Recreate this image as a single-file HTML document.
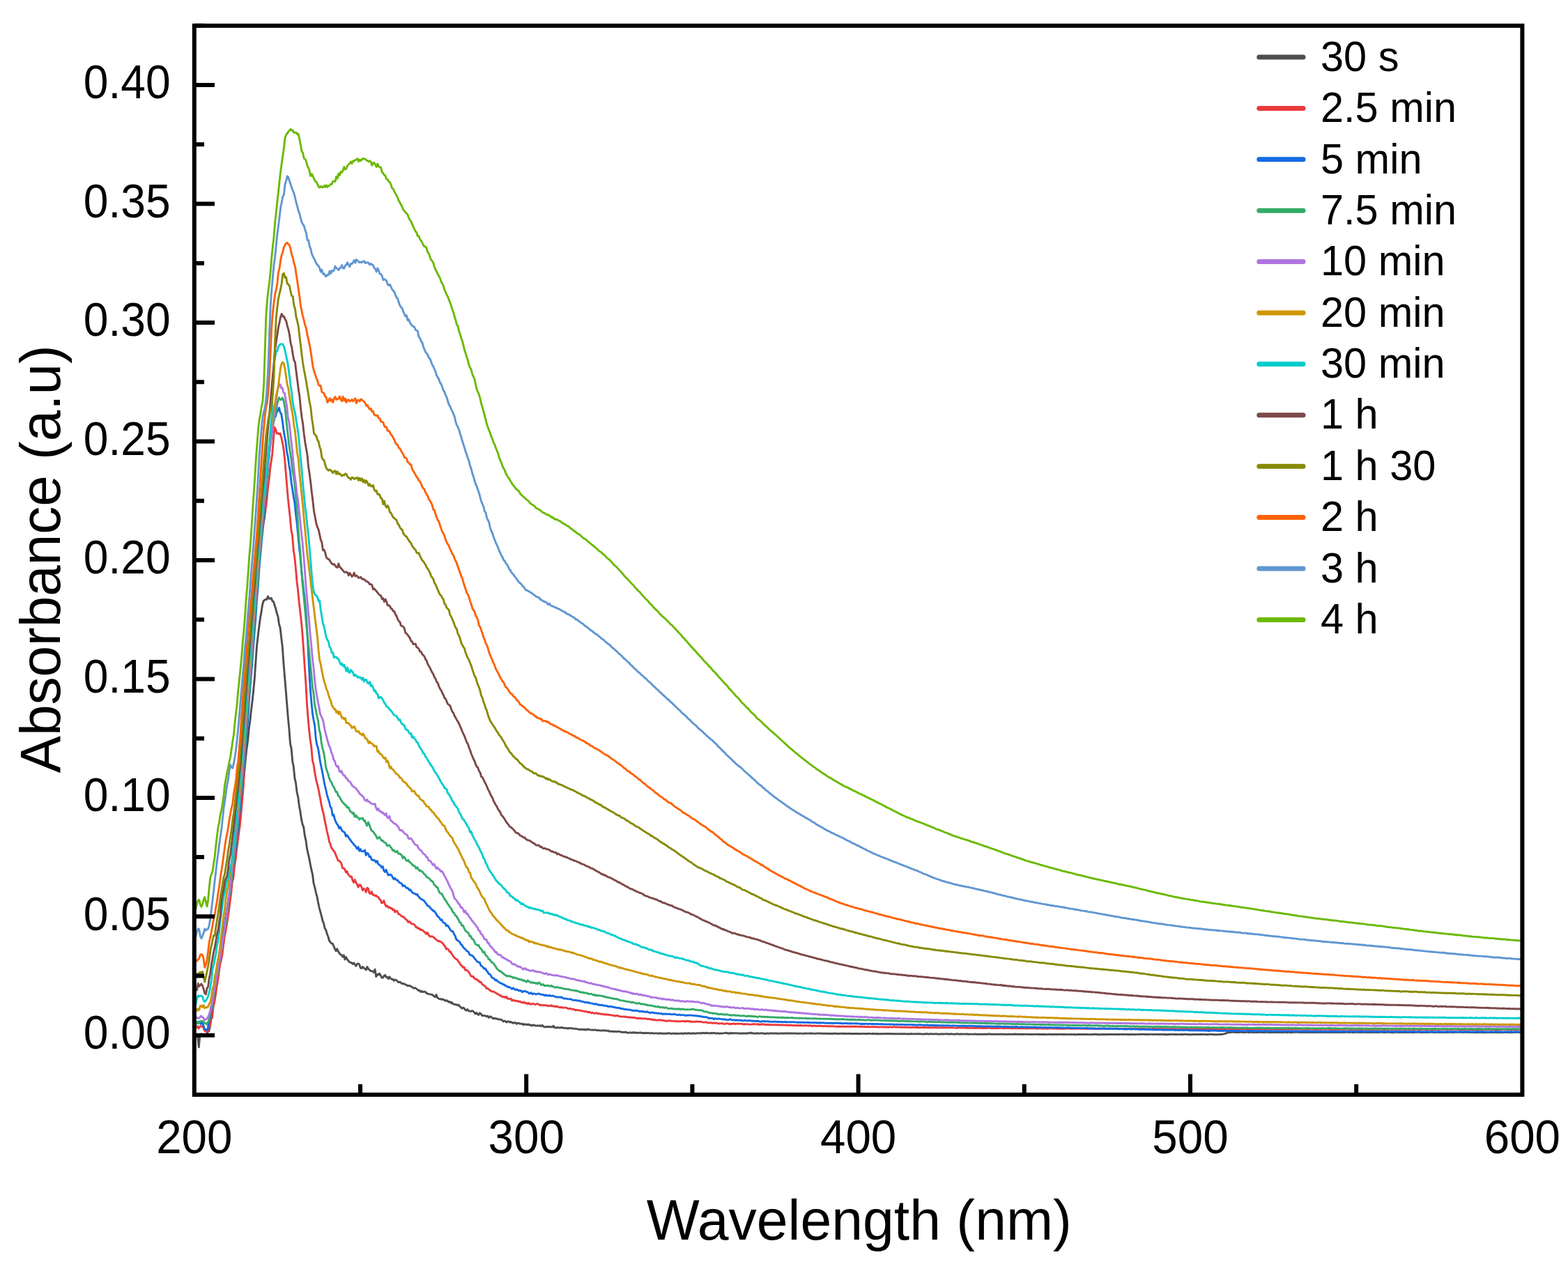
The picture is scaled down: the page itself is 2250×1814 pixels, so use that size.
<!DOCTYPE html>
<html><head><meta charset="utf-8"><title>Absorbance spectra</title>
<style>html,body{margin:0;padding:0;background:#fff;width:2250px;height:1814px;overflow:hidden}svg{display:block}</style>
</head><body>
<svg width="2250" height="1814" viewBox="0 0 2250 1814"><rect x="0" y="0" width="2250" height="1814" fill="#ffffff"/><clipPath id="c"><rect x="278.8" y="36.86875000000009" width="1905.6000000000001" height="1534.1625"/></clipPath><g clip-path="url(#c)" fill="none" stroke-width="2.9" stroke-linejoin="round" stroke-linecap="round"><path d="M280.5,1486.4 L282.1,1486.8 L283.7,1488.1 L285.3,1502.9 L286.9,1485.3 L288.5,1484.0 L290.1,1484.8 L291.7,1485.7 L293.3,1486.7 L294.9,1484.7 L296.5,1486.3 L298.1,1479.7 L299.7,1480.0 L301.3,1473.9 L302.9,1461.8 L304.5,1452.9 L306.1,1439.1 L307.7,1422.5 L309.3,1412.9 L310.9,1396.3 L312.5,1382.2 L314.1,1371.7 L315.7,1361.7 L317.3,1354.3 L318.9,1345.2 L320.5,1334.0 L322.1,1325.8 L323.7,1317.3 L325.3,1308.3 L326.9,1298.2 L328.5,1286.7 L330.1,1277.1 L331.7,1265.4 L333.3,1251.4 L334.9,1235.1 L336.5,1226.5 L338.1,1216.0 L339.7,1203.5 L341.3,1192.5 L342.9,1180.2 L344.5,1164.7 L346.1,1149.0 L347.7,1138.7 L349.3,1120.2 L350.9,1105.1 L352.5,1088.1 L354.1,1073.7 L355.7,1062.7 L357.3,1045.1 L358.9,1033.9 L360.5,1018.5 L362.1,1006.0 L363.7,990.9 L365.3,973.6 L366.9,950.3 L368.5,927.3 L370.1,913.3 L371.7,900.2 L373.3,888.1 L374.9,878.7 L376.5,868.4 L378.1,862.6 L379.7,861.1 L381.3,860.2 L382.9,860.4 L384.5,855.8 L386.1,859.0 L387.7,859.2 L389.3,858.2 L390.9,862.8 L392.5,863.3 L394.1,868.8 L395.7,873.5 L397.3,880.3 L398.9,884.7 L400.5,895.9 L402.1,901.0 L403.7,915.4 L405.3,928.5 L406.9,951.5 L408.5,970.8 L410.1,989.9 L411.7,1009.8 L413.3,1029.7 L414.9,1046.1 L416.5,1067.5 L418.1,1074.2 L419.7,1092.7 L421.3,1100.3 L422.9,1116.9 L424.5,1123.7 L426.1,1137.4 L427.7,1143.6 L429.3,1156.3 L430.9,1164.7 L432.5,1175.9 L434.1,1183.2 L435.7,1186.8 L437.3,1199.1 L438.9,1205.8 L440.5,1217.9 L442.1,1225.0 L443.7,1231.9 L445.3,1240.5 L446.9,1248.1 L448.5,1255.1 L450.1,1267.9 L451.7,1273.4 L453.3,1280.8 L454.9,1286.4 L456.5,1295.0 L458.1,1302.5 L459.7,1308.6 L461.3,1314.3 L462.9,1321.1 L464.5,1325.0 L466.1,1332.3 L467.7,1334.6 L469.3,1340.2 L470.9,1344.2 L472.5,1350.0 L474.1,1352.1 L475.7,1354.0 L477.3,1354.3 L478.9,1357.8 L480.5,1361.9 L482.1,1364.7 L483.7,1361.8 L485.3,1365.3 L486.9,1367.9 L488.5,1369.8 L490.1,1370.6 L491.7,1373.1 L493.3,1370.7 L494.9,1377.0 L496.5,1373.5 L498.1,1376.7 L499.7,1378.5 L501.3,1380.6 L502.9,1381.1 L504.5,1381.9 L506.1,1383.5 L507.7,1381.9 L509.3,1384.3 L510.9,1386.4 L512.5,1383.2 L514.1,1382.9 L515.7,1384.3 L517.3,1389.1 L518.9,1389.5 L520.5,1387.4 L522.1,1389.2 L523.7,1390.2 L525.3,1391.9 L526.9,1387.5 L528.5,1390.5 L530.1,1391.7 L531.7,1393.4 L533.3,1393.7 L534.9,1393.7 L536.5,1395.4 L538.1,1391.2 L539.7,1401.6 L541.3,1398.4 L542.9,1399.1 L544.5,1397.1 L546.1,1399.6 L547.7,1403.0 L549.3,1403.3 L550.9,1400.9 L552.5,1399.3 L554.1,1402.3 L555.7,1402.1 L557.3,1404.7 L558.9,1401.7 L560.5,1404.3 L562.1,1405.4 L563.7,1405.3 L565.3,1407.4 L566.9,1405.9 L568.5,1406.5 L570.1,1407.9 L571.7,1409.7 L573.3,1409.3 L574.9,1409.6 L576.5,1411.6 L578.1,1411.7 L579.7,1411.6 L581.3,1412.9 L582.9,1413.2 L584.5,1414.6 L586.1,1414.8 L587.7,1414.5 L589.3,1415.5 L590.9,1416.2 L592.5,1417.6 L594.1,1418.2 L595.7,1417.7 L597.3,1418.9 L598.9,1420.1 L600.5,1421.5 L602.1,1421.3 L603.7,1423.5 L605.3,1422.3 L606.9,1423.7 L608.5,1423.3 L610.1,1423.3 L611.7,1425.0 L613.3,1426.0 L614.9,1426.4 L616.5,1426.9 L618.1,1427.1 L619.7,1427.3 L621.3,1428.4 L622.9,1429.8 L624.5,1430.9 L626.1,1427.5 L627.7,1431.8 L629.3,1432.9 L630.9,1433.8 L632.5,1433.6 L634.1,1434.5 L635.7,1434.1 L637.3,1435.1 L638.9,1436.4 L640.5,1435.5 L642.1,1436.5 L643.7,1438.1 L645.3,1437.4 L646.9,1439.4 L648.5,1438.6 L650.1,1440.9 L651.7,1441.4 L653.3,1441.5 L654.9,1441.8 L656.5,1442.9 L658.1,1441.9 L659.7,1444.3 L661.3,1445.5 L662.9,1447.2 L664.5,1446.1 L666.1,1447.1 L667.7,1449.2 L669.3,1450.2 L670.9,1448.6 L672.5,1450.7 L674.1,1451.4 L675.7,1451.4 L677.3,1450.5 L678.9,1451.1 L680.5,1453.0 L682.1,1455.2 L683.7,1453.4 L685.3,1455.5 L686.9,1456.4 L688.5,1453.9 L690.1,1455.0 L691.7,1457.5 L693.3,1457.5 L694.9,1457.6 L696.5,1457.6 L698.1,1458.7 L699.7,1458.0 L701.3,1460.5 L702.9,1458.9 L704.5,1459.0 L706.1,1460.6 L707.7,1461.8 L709.3,1461.1 L710.9,1461.8 L712.5,1461.7 L714.1,1462.7 L715.7,1462.6 L717.3,1463.0 L718.9,1463.2 L720.5,1464.1 L722.1,1465.9 L723.7,1465.1 L725.3,1465.6 L726.9,1467.2 L728.5,1465.9 L730.1,1466.0 L731.7,1467.2 L733.3,1466.5 L734.9,1467.6 L736.5,1468.4 L738.1,1467.4 L739.7,1467.9 L741.3,1469.4 L742.9,1468.1 L744.5,1468.5 L746.1,1469.3 L747.7,1469.2 L749.3,1469.1 L750.9,1470.7 L752.5,1469.7 L754.1,1470.4 L755.7,1470.2 L757.3,1470.5 L758.9,1470.0 L760.5,1471.5 L762.1,1470.9 L763.7,1472.1 L765.3,1470.8 L766.9,1471.4 L768.5,1472.1 L770.1,1472.1 L771.7,1471.8 L773.3,1472.2 L774.9,1471.7 L776.5,1472.7 L778.1,1471.2 L779.7,1473.0 L781.3,1473.9 L782.9,1473.7 L784.5,1473.8 L786.1,1473.3 L787.7,1473.9 L789.3,1473.5 L790.9,1473.9 L792.5,1474.0 L794.1,1472.2 L795.7,1474.8 L797.3,1474.7 L798.9,1475.1 L800.5,1474.4 L802.1,1475.0 L803.7,1475.1 L805.3,1474.5 L806.9,1474.7 L808.5,1475.4 L810.1,1475.3 L811.7,1475.6 L813.3,1475.5 L814.9,1476.2 L816.5,1475.4 L818.1,1475.6 L819.7,1475.8 L821.3,1475.8 L822.9,1476.2 L824.5,1476.4 L826.1,1476.2 L827.7,1476.7 L829.3,1477.1 L830.9,1477.2 L832.5,1477.5 L834.1,1477.4 L835.7,1477.1 L837.3,1477.7 L838.9,1477.5 L840.5,1478.0 L842.1,1477.5 L843.7,1477.0 L845.3,1477.4 L846.9,1477.9 L848.5,1478.1 L850.1,1477.9 L851.7,1478.4 L853.3,1477.9 L854.9,1478.1 L856.5,1478.7 L858.1,1478.5 L859.7,1478.6 L861.3,1479.1 L862.9,1479.1 L864.5,1478.7 L866.1,1479.0 L867.7,1478.6 L869.3,1479.2 L870.9,1479.4 L872.5,1478.9 L874.1,1480.0 L875.7,1480.2 L877.3,1479.9 L878.9,1480.2 L880.5,1480.5 L882.1,1480.1 L883.7,1480.6 L885.3,1480.5 L886.9,1480.1 L888.5,1480.4 L890.1,1480.7 L891.7,1481.3 L893.3,1481.1 L894.9,1481.5 L896.5,1481.2 L898.1,1481.1 L899.7,1482.1 L901.3,1482.4 L902.9,1481.9 L904.5,1481.8 L906.1,1482.3 L907.7,1481.7 L909.3,1482.0 L910.9,1481.7 L912.5,1482.3 L914.1,1482.3 L915.7,1482.2 L917.3,1482.1 L918.9,1481.9 L920.5,1482.2 L922.1,1482.8 L923.7,1482.4 L925.3,1482.9 L926.9,1482.3 L928.5,1482.6 L930.1,1482.5 L931.7,1482.6 L933.3,1483.0 L934.9,1482.2 L936.5,1483.0 L938.1,1483.0 L939.7,1482.9 L941.3,1482.9 L942.9,1482.9 L944.5,1483.2 L946.1,1483.0 L947.7,1482.8 L949.3,1483.1 L950.9,1483.3 L952.5,1483.2 L954.1,1483.1 L955.7,1483.2 L957.3,1483.0 L958.9,1483.0 L960.5,1482.6 L962.1,1483.1 L963.7,1483.5 L965.3,1483.1 L966.9,1482.9 L968.5,1483.5 L970.1,1483.2 L971.7,1483.2 L973.3,1483.3 L974.9,1483.4 L976.5,1483.1 L978.1,1482.9 L979.7,1483.6 L981.3,1483.1 L982.9,1482.8 L984.5,1483.1 L986.1,1483.3 L987.7,1482.5 L989.3,1483.3 L990.9,1482.8 L992.5,1483.4 L994.1,1483.0 L995.7,1482.8 L997.3,1483.2 L998.9,1483.2 L1000.5,1482.7 L1002.1,1482.9 L1003.7,1482.7 L1005.3,1483.1 L1006.9,1482.4 L1008.5,1482.8 L1010.1,1482.2 L1011.7,1483.0 L1013.3,1482.2 L1014.9,1482.5 L1016.5,1482.9 L1018.1,1482.7 L1019.7,1482.7 L1021.3,1482.5 L1022.9,1482.7 L1024.5,1482.3 L1026.1,1482.9 L1027.7,1483.0 L1029.3,1483.0 L1030.9,1482.8 L1032.5,1483.2 L1034.1,1483.0 L1035.7,1483.1 L1037.3,1482.9 L1038.9,1482.8 L1040.5,1482.6 L1042.1,1482.1 L1043.7,1483.0 L1045.3,1482.8 L1046.9,1483.4 L1048.5,1482.3 L1050.1,1483.1 L1051.7,1482.6 L1053.3,1482.8 L1054.9,1482.6 L1056.5,1482.9 L1058.1,1482.8 L1059.7,1483.1 L1061.3,1482.9 L1062.9,1483.0 L1064.5,1483.2 L1066.1,1483.0 L1067.7,1482.8 L1069.3,1483.2 L1070.9,1482.8 L1072.5,1483.0 L1074.1,1482.8 L1075.7,1482.7 L1077.3,1482.0 L1078.9,1483.1 L1080.5,1482.6 L1082.1,1483.1 L1083.7,1483.4 L1085.3,1482.5 L1086.9,1483.2 L1088.5,1482.9 L1090.1,1483.1 L1091.7,1482.6 L1093.3,1482.9 L1094.9,1483.0 L1096.5,1483.3 L1098.1,1483.6 L1099.7,1483.0 L1101.3,1482.9 L1102.9,1483.3 L1104.5,1482.9 L1106.1,1483.0 L1107.7,1483.0 L1109.3,1483.0 L1110.9,1483.1 L1112.5,1482.9 L1114.1,1483.0 L1115.7,1483.3 L1117.3,1483.2 L1118.9,1483.1 L1120.5,1483.0 L1122.1,1483.0 L1123.7,1483.2 L1125.3,1482.9 L1126.9,1483.0 L1128.5,1483.0 L1130.1,1482.9 L1131.7,1483.0 L1133.3,1483.0 L1134.9,1483.0 L1136.5,1483.0 L1138.1,1483.1 L1139.7,1483.0 L1141.3,1483.0 L1142.9,1483.1 L1144.5,1483.2 L1146.1,1483.2 L1147.7,1483.1 L1149.3,1483.1 L1150.9,1483.1 L1152.5,1483.4 L1154.1,1483.3 L1155.7,1483.0 L1157.3,1483.1 L1158.9,1483.1 L1160.5,1483.1 L1162.1,1482.9 L1163.7,1483.2 L1165.3,1483.0 L1166.9,1483.1 L1168.5,1483.4 L1170.1,1483.3 L1171.7,1483.1 L1173.3,1483.0 L1174.9,1483.1 L1176.5,1482.9 L1178.1,1483.1 L1179.7,1483.2 L1181.3,1483.1 L1182.9,1483.3 L1184.5,1483.2 L1186.1,1483.2 L1187.7,1483.5 L1189.3,1483.4 L1190.9,1483.3 L1192.5,1483.5 L1194.1,1483.5 L1195.7,1483.2 L1197.3,1483.3 L1198.9,1483.2 L1200.5,1483.1 L1202.1,1483.6 L1203.7,1483.5 L1205.3,1483.1 L1206.9,1483.4 L1208.5,1483.1 L1210.1,1483.5 L1211.7,1483.3 L1213.3,1483.3 L1214.9,1483.5 L1216.5,1483.4 L1218.1,1483.3 L1219.7,1483.5 L1221.3,1483.4 L1222.9,1483.5 L1224.5,1483.4 L1226.1,1483.5 L1227.7,1483.5 L1229.3,1483.5 L1230.9,1483.3 L1232.5,1483.7 L1234.1,1483.4 L1235.7,1483.7 L1237.3,1483.4 L1238.9,1483.4 L1240.5,1483.4 L1242.1,1483.7 L1243.7,1483.4 L1245.3,1483.6 L1246.9,1483.3 L1248.5,1483.4 L1250.1,1483.6 L1251.7,1483.5 L1253.3,1483.3 L1254.9,1483.6 L1256.5,1483.4 L1258.1,1483.8 L1259.7,1483.5 L1261.3,1483.9 L1262.9,1483.7 L1264.5,1483.7 L1266.1,1483.5 L1267.7,1483.6 L1269.3,1483.7 L1270.9,1483.3 L1272.5,1483.8 L1274.1,1483.5 L1275.7,1483.6 L1277.3,1483.3 L1278.9,1483.7 L1280.5,1483.8 L1282.1,1483.7 L1283.7,1483.7 L1285.3,1483.6 L1286.9,1483.7 L1288.5,1483.9 L1290.1,1483.6 L1291.7,1483.8 L1293.3,1483.8 L1294.9,1483.7 L1296.5,1483.8 L1298.1,1483.8 L1299.7,1483.7 L1301.3,1484.1 L1302.9,1483.7 L1304.5,1484.0 L1306.1,1483.9 L1307.7,1483.5 L1309.3,1483.8 L1310.9,1483.9 L1312.5,1483.9 L1314.1,1483.7 L1315.7,1483.9 L1317.3,1483.7 L1318.9,1483.7 L1320.5,1483.8 L1322.1,1483.9 L1323.7,1484.1 L1325.3,1483.9 L1326.9,1484.0 L1328.5,1483.7 L1330.1,1483.7 L1331.7,1483.8 L1333.3,1484.2 L1334.9,1483.7 L1336.5,1483.7 L1338.1,1483.9 L1339.7,1484.1 L1341.3,1483.7 L1342.9,1483.9 L1344.5,1483.8 L1346.1,1484.2 L1347.7,1484.1 L1349.3,1484.0 L1350.9,1484.0 L1352.5,1483.9 L1354.1,1484.0 L1355.7,1483.9 L1357.3,1483.9 L1358.9,1483.8 L1360.5,1484.0 L1362.1,1483.9 L1363.7,1484.2 L1365.3,1483.7 L1366.9,1484.1 L1368.5,1484.1 L1370.1,1484.2 L1371.7,1484.0 L1373.3,1483.8 L1374.9,1483.9 L1376.5,1484.2 L1378.1,1484.0 L1379.7,1484.0 L1381.3,1484.0 L1382.9,1484.1 L1384.5,1484.1 L1386.1,1483.9 L1387.7,1484.0 L1389.3,1484.3 L1390.9,1484.3 L1392.5,1484.1 L1394.1,1484.1 L1395.7,1484.4 L1397.3,1484.1 L1398.9,1484.0 L1400.5,1484.2 L1402.1,1484.3 L1403.7,1484.4 L1405.3,1484.1 L1406.9,1484.3 L1408.5,1484.2 L1410.1,1484.4 L1411.7,1484.3 L1413.3,1484.3 L1414.9,1484.1 L1416.5,1484.2 L1418.1,1484.2 L1419.7,1483.7 L1421.3,1484.4 L1422.9,1484.3 L1424.5,1484.2 L1426.1,1484.2 L1427.7,1484.3 L1429.3,1484.3 L1430.9,1484.1 L1432.5,1484.3 L1434.1,1484.3 L1435.7,1484.3 L1437.3,1484.1 L1438.9,1484.3 L1440.5,1484.1 L1442.1,1484.4 L1443.7,1484.5 L1445.3,1484.4 L1446.9,1484.3 L1448.5,1484.3 L1450.1,1484.3 L1451.7,1484.4 L1453.3,1484.2 L1454.9,1484.3 L1456.5,1484.0 L1458.1,1484.2 L1459.7,1484.2 L1461.3,1484.3 L1462.9,1484.5 L1464.5,1484.2 L1466.1,1484.2 L1467.7,1484.5 L1469.3,1484.2 L1470.9,1484.4 L1472.5,1484.4 L1474.1,1484.4 L1475.7,1484.3 L1477.3,1484.5 L1478.9,1484.6 L1480.5,1484.3 L1482.1,1484.4 L1483.7,1484.6 L1485.3,1484.4 L1486.9,1484.3 L1488.5,1484.4 L1490.1,1484.6 L1491.7,1484.3 L1493.3,1484.5 L1494.9,1484.5 L1496.5,1484.3 L1498.1,1484.5 L1499.7,1484.5 L1501.3,1484.6 L1502.9,1484.6 L1504.5,1484.2 L1506.1,1484.6 L1507.7,1484.5 L1509.3,1484.6 L1510.9,1484.3 L1512.5,1484.6 L1514.1,1484.5 L1515.7,1484.3 L1517.3,1484.7 L1518.9,1484.4 L1520.5,1484.3 L1522.1,1484.5 L1523.7,1484.4 L1525.3,1484.5 L1526.9,1484.5 L1528.5,1484.5 L1530.1,1484.6 L1531.7,1484.5 L1533.3,1484.6 L1534.9,1484.6 L1536.5,1484.4 L1538.1,1484.6 L1539.7,1484.6 L1541.3,1484.5 L1542.9,1484.7 L1544.5,1484.7 L1546.1,1484.6 L1547.7,1484.3 L1549.3,1484.6 L1550.9,1484.5 L1552.5,1484.5 L1554.1,1484.6 L1555.7,1484.5 L1557.3,1484.7 L1558.9,1484.5 L1560.5,1484.5 L1562.1,1484.6 L1563.7,1484.6 L1565.3,1484.7 L1566.9,1484.6 L1568.5,1484.5 L1570.1,1484.5 L1571.7,1484.2 L1573.3,1484.3 L1574.9,1484.7 L1576.5,1484.5 L1578.1,1484.8 L1579.7,1484.8 L1581.3,1484.3 L1582.9,1484.5 L1584.5,1484.9 L1586.1,1484.4 L1587.7,1484.6 L1589.3,1484.5 L1590.9,1484.5 L1592.5,1484.5 L1594.1,1484.5 L1595.7,1484.6 L1597.3,1484.4 L1598.9,1484.6 L1600.5,1484.4 L1602.1,1484.6 L1603.7,1484.5 L1605.3,1484.4 L1606.9,1484.5 L1608.5,1484.4 L1610.1,1484.4 L1611.7,1484.7 L1613.3,1484.2 L1614.9,1484.6 L1616.5,1484.6 L1618.1,1484.4 L1619.7,1484.7 L1621.3,1484.6 L1622.9,1484.3 L1624.5,1484.6 L1626.1,1484.6 L1627.7,1484.4 L1629.3,1484.6 L1630.9,1484.6 L1632.5,1484.4 L1634.1,1484.2 L1635.7,1484.6 L1637.3,1484.4 L1638.9,1484.3 L1640.5,1484.4 L1642.1,1484.2 L1643.7,1484.5 L1645.3,1484.7 L1646.9,1484.1 L1648.5,1484.6 L1650.1,1484.4 L1651.7,1484.4 L1653.3,1484.4 L1654.9,1484.6 L1656.5,1484.5 L1658.1,1484.4 L1659.7,1484.3 L1661.3,1484.4 L1662.9,1484.7 L1664.5,1484.3 L1666.1,1484.6 L1667.7,1484.6 L1669.3,1484.2 L1670.9,1484.7 L1672.5,1484.5 L1674.1,1484.8 L1675.7,1484.8 L1677.3,1484.5 L1678.9,1484.5 L1680.5,1484.4 L1682.1,1484.3 L1683.7,1484.6 L1685.3,1484.5 L1686.9,1484.4 L1688.5,1484.5 L1690.1,1484.6 L1691.7,1484.6 L1693.3,1484.5 L1694.9,1484.5 L1696.5,1484.5 L1698.1,1484.8 L1699.7,1484.2 L1701.3,1484.3 L1702.9,1484.6 L1704.5,1484.5 L1706.1,1484.7 L1707.7,1484.7 L1709.3,1484.8 L1710.9,1484.4 L1712.5,1484.6 L1714.1,1484.5 L1715.7,1484.6 L1717.3,1484.5 L1718.9,1484.6 L1720.5,1484.4 L1722.1,1484.5 L1723.7,1484.4 L1725.3,1484.5 L1726.9,1484.4 L1728.5,1484.4 L1730.1,1484.7 L1731.7,1484.5 L1733.3,1484.7 L1734.9,1484.4 L1736.5,1484.2 L1738.1,1484.4 L1739.7,1484.5 L1741.3,1484.6 L1742.9,1484.7 L1744.5,1484.7 L1746.1,1484.7 L1747.7,1484.6 L1749.3,1484.5 L1750.9,1484.4 L1752.5,1484.6 L1754.1,1484.3 L1755.7,1483.9 L1757.3,1483.6 L1758.9,1483.0 L1760.5,1482.5 L1762.1,1481.8 L1763.7,1481.8 L1765.3,1481.6 L1766.9,1481.5 L1768.5,1481.4 L1770.1,1481.3 L1771.7,1481.3 L1773.3,1481.7 L1774.9,1481.3 L1776.5,1481.6 L1778.1,1481.5 L1779.7,1481.4 L1781.3,1481.4 L1782.9,1481.5 L1784.5,1481.6 L1786.1,1481.6 L1787.7,1481.5 L1789.3,1481.3 L1790.9,1481.2 L1792.5,1481.8 L1794.1,1481.4 L1795.7,1481.3 L1797.3,1481.7 L1798.9,1481.3 L1800.5,1481.6 L1802.1,1481.6 L1803.7,1481.5 L1805.3,1481.6 L1806.9,1481.3 L1808.5,1481.3 L1810.1,1481.5 L1811.7,1481.5 L1813.3,1481.5 L1814.9,1481.6 L1816.5,1481.4 L1818.1,1481.2 L1819.7,1481.6 L1821.3,1481.5 L1822.9,1481.6 L1824.5,1481.8 L1826.1,1481.5 L1827.7,1481.6 L1829.3,1481.4 L1830.9,1481.6 L1832.5,1481.6 L1834.1,1481.5 L1835.7,1481.6 L1837.3,1481.3 L1838.9,1481.6 L1840.5,1481.6 L1842.1,1481.7 L1843.7,1481.2 L1845.3,1481.5 L1846.9,1481.8 L1848.5,1481.4 L1850.1,1481.4 L1851.7,1481.8 L1853.3,1481.9 L1854.9,1481.5 L1856.5,1481.4 L1858.1,1481.4 L1859.7,1481.4 L1861.3,1481.4 L1862.9,1481.4 L1864.5,1481.5 L1866.1,1481.5 L1867.7,1481.6 L1869.3,1481.5 L1870.9,1481.3 L1872.5,1481.6 L1874.1,1481.5 L1875.7,1481.4 L1877.3,1481.5 L1878.9,1481.6 L1880.5,1481.5 L1882.1,1481.5 L1883.7,1481.6 L1885.3,1481.7 L1886.9,1481.5 L1888.5,1481.5 L1890.1,1481.3 L1891.7,1481.5 L1893.3,1481.6 L1894.9,1481.6 L1896.5,1481.5 L1898.1,1481.5 L1899.7,1481.4 L1901.3,1481.5 L1902.9,1481.3 L1904.5,1481.5 L1906.1,1481.5 L1907.7,1481.4 L1909.3,1481.6 L1910.9,1481.5 L1912.5,1481.6 L1914.1,1481.4 L1915.7,1481.6 L1917.3,1481.7 L1918.9,1481.5 L1920.5,1481.6 L1922.1,1481.4 L1923.7,1481.5 L1925.3,1481.2 L1926.9,1481.5 L1928.5,1481.3 L1930.1,1481.5 L1931.7,1481.2 L1933.3,1481.4 L1934.9,1481.5 L1936.5,1481.6 L1938.1,1481.3 L1939.7,1481.4 L1941.3,1481.9 L1942.9,1481.6 L1944.5,1481.5 L1946.1,1481.1 L1947.7,1481.4 L1949.3,1481.6 L1950.9,1481.5 L1952.5,1481.6 L1954.1,1481.6 L1955.7,1481.5 L1957.3,1481.6 L1958.9,1481.2 L1960.5,1481.9 L1962.1,1481.5 L1963.7,1481.4 L1965.3,1481.7 L1966.9,1481.6 L1968.5,1481.6 L1970.1,1481.4 L1971.7,1481.5 L1973.3,1481.6 L1974.9,1481.3 L1976.5,1481.5 L1978.1,1481.5 L1979.7,1481.5 L1981.3,1481.4 L1982.9,1481.3 L1984.5,1481.6 L1986.1,1481.5 L1987.7,1481.7 L1989.3,1481.5 L1990.9,1481.4 L1992.5,1481.3 L1994.1,1481.5 L1995.7,1481.5 L1997.3,1481.8 L1998.9,1481.8 L2000.5,1481.7 L2002.1,1481.4 L2003.7,1481.3 L2005.3,1481.5 L2006.9,1481.4 L2008.5,1481.7 L2010.1,1481.5 L2011.7,1481.4 L2013.3,1481.5 L2014.9,1481.7 L2016.5,1481.4 L2018.1,1481.6 L2019.7,1481.3 L2021.3,1481.5 L2022.9,1481.4 L2024.5,1481.5 L2026.1,1481.5 L2027.7,1481.7 L2029.3,1481.6 L2030.9,1481.4 L2032.5,1481.3 L2034.1,1481.4 L2035.7,1481.4 L2037.3,1481.5 L2038.9,1481.4 L2040.5,1481.7 L2042.1,1481.6 L2043.7,1481.5 L2045.3,1481.4 L2046.9,1481.5 L2048.5,1481.5 L2050.1,1481.5 L2051.7,1481.3 L2053.3,1481.4 L2054.9,1481.2 L2056.5,1481.5 L2058.1,1481.6 L2059.7,1481.3 L2061.3,1481.5 L2062.9,1481.4 L2064.5,1481.4 L2066.1,1481.8 L2067.7,1481.6 L2069.3,1481.6 L2070.9,1481.4 L2072.5,1481.6 L2074.1,1481.5 L2075.7,1481.6 L2077.3,1481.4 L2078.9,1481.5 L2080.5,1481.4 L2082.1,1481.3 L2083.7,1481.7 L2085.3,1481.6 L2086.9,1481.4 L2088.5,1481.3 L2090.1,1481.4 L2091.7,1481.4 L2093.3,1481.4 L2094.9,1481.3 L2096.5,1481.4 L2098.1,1481.5 L2099.7,1481.6 L2101.3,1481.2 L2102.9,1481.5 L2104.5,1481.4 L2106.1,1481.3 L2107.7,1481.5 L2109.3,1481.4 L2110.9,1481.6 L2112.5,1481.6 L2114.1,1481.5 L2115.7,1481.4 L2117.3,1481.8 L2118.9,1481.8 L2120.5,1481.6 L2122.1,1481.5 L2123.7,1481.6 L2125.3,1481.7 L2126.9,1481.4 L2128.5,1481.8 L2130.1,1481.5 L2131.7,1481.7 L2133.3,1481.4 L2134.9,1481.5 L2136.5,1481.4 L2138.1,1481.5 L2139.7,1481.7 L2141.3,1481.4 L2142.9,1481.5 L2144.5,1481.6 L2146.1,1481.4 L2147.7,1481.8 L2149.3,1481.3 L2150.9,1481.9 L2152.5,1481.4 L2154.1,1481.6 L2155.7,1481.7 L2157.3,1481.6 L2158.9,1481.3 L2160.5,1481.5 L2162.1,1481.5 L2163.7,1481.6 L2165.3,1481.6 L2166.9,1481.7 L2168.5,1481.7 L2170.1,1481.4 L2171.7,1481.6 L2173.3,1481.2 L2174.9,1481.5 L2176.5,1481.3 L2178.1,1481.2 L2179.7,1481.6 L2181.3,1481.5 L2182.9,1481.6 L2184.0,1481.3" stroke="#4e4e4e"/><path d="M282.0,1474.4 L283.6,1472.7 L285.2,1476.1 L286.8,1473.1 L288.4,1472.7 L290.0,1473.0 L291.6,1474.0 L293.2,1478.6 L294.8,1480.0 L296.4,1480.7 L298.0,1481.1 L299.6,1474.5 L301.2,1473.4 L302.8,1460.6 L304.4,1461.2 L306.0,1445.2 L307.6,1439.0 L309.2,1429.5 L310.8,1417.4 L312.4,1408.4 L314.0,1396.7 L315.6,1384.0 L317.2,1378.7 L318.8,1370.7 L320.4,1357.8 L322.0,1345.6 L323.6,1337.2 L325.2,1328.2 L326.8,1317.2 L328.4,1307.3 L330.0,1294.6 L331.6,1282.5 L333.2,1265.6 L334.8,1260.7 L336.4,1244.1 L338.0,1233.5 L339.6,1219.3 L341.2,1207.3 L342.8,1194.6 L344.4,1183.2 L346.0,1167.2 L347.6,1147.7 L349.2,1129.9 L350.8,1102.4 L352.4,1067.3 L354.0,1012.6 L355.6,969.9 L357.2,942.0 L358.8,923.7 L360.4,908.3 L362.0,886.5 L363.6,879.8 L365.2,861.1 L366.8,843.2 L368.4,823.5 L370.0,810.3 L371.6,791.9 L373.2,783.7 L374.8,772.5 L376.4,766.2 L378.0,752.1 L379.6,743.2 L381.2,730.5 L382.8,718.4 L384.4,700.2 L386.0,688.9 L387.6,672.9 L389.2,662.3 L390.8,650.7 L392.4,629.9 L394.0,613.1 L395.6,616.5 L397.2,622.2 L398.8,621.6 L400.4,622.8 L402.0,622.0 L403.6,627.3 L405.2,634.3 L406.8,643.2 L408.4,657.1 L410.0,676.3 L411.6,695.5 L413.2,714.6 L414.8,729.3 L416.4,744.1 L418.0,761.6 L419.6,769.1 L421.2,789.8 L422.8,799.9 L424.4,815.6 L426.0,834.4 L427.6,847.5 L429.2,864.7 L430.8,877.8 L432.4,892.4 L434.0,909.9 L435.6,932.6 L437.2,956.5 L438.8,979.4 L440.4,1009.2 L442.0,1030.3 L443.6,1047.4 L445.2,1062.1 L446.8,1072.5 L448.4,1091.3 L450.0,1097.4 L451.6,1107.7 L453.2,1116.8 L454.8,1123.7 L456.4,1129.8 L458.0,1137.5 L459.6,1146.2 L461.2,1155.4 L462.8,1162.7 L464.4,1168.4 L466.0,1177.4 L467.6,1184.9 L469.2,1193.0 L470.8,1199.2 L472.4,1207.8 L474.0,1211.1 L475.6,1216.7 L477.2,1218.8 L478.8,1220.9 L480.4,1223.2 L482.0,1227.3 L483.6,1231.2 L485.2,1235.1 L486.8,1235.2 L488.4,1237.1 L490.0,1239.8 L491.6,1245.8 L493.2,1246.1 L494.8,1247.4 L496.4,1252.0 L498.0,1250.4 L499.6,1255.0 L501.2,1256.5 L502.8,1258.2 L504.4,1258.0 L506.0,1263.6 L507.6,1266.5 L509.2,1262.5 L510.8,1266.6 L512.4,1269.0 L514.0,1273.3 L515.6,1269.7 L517.2,1270.0 L518.8,1272.9 L520.4,1277.8 L522.0,1275.3 L523.6,1276.7 L525.2,1280.5 L526.8,1274.2 L528.4,1275.2 L530.0,1281.8 L531.6,1282.6 L533.2,1279.6 L534.8,1284.1 L536.4,1284.3 L538.0,1285.8 L539.6,1285.0 L541.2,1286.9 L542.8,1287.4 L544.4,1290.4 L546.0,1291.2 L547.6,1296.0 L549.2,1295.4 L550.8,1292.6 L552.4,1297.6 L554.0,1300.7 L555.6,1299.8 L557.2,1302.5 L558.8,1301.7 L560.4,1303.6 L562.0,1303.1 L563.6,1306.1 L565.2,1305.0 L566.8,1308.9 L568.4,1307.2 L570.0,1307.7 L571.6,1311.6 L573.2,1312.0 L574.8,1313.5 L576.4,1315.0 L578.0,1315.7 L579.6,1316.0 L581.2,1318.3 L582.8,1319.7 L584.4,1321.0 L586.0,1323.7 L587.6,1322.2 L589.2,1324.2 L590.8,1325.9 L592.4,1326.0 L594.0,1326.4 L595.6,1328.2 L597.2,1331.0 L598.8,1330.8 L600.4,1332.8 L602.0,1332.4 L603.6,1334.6 L605.2,1334.5 L606.8,1335.2 L608.4,1337.2 L610.0,1338.0 L611.6,1340.4 L613.2,1338.2 L614.8,1341.4 L616.4,1343.5 L618.0,1344.3 L619.6,1343.6 L621.2,1344.3 L622.8,1345.5 L624.4,1347.4 L626.0,1348.4 L627.6,1349.6 L629.2,1351.0 L630.8,1350.5 L632.4,1351.6 L634.0,1352.7 L635.6,1353.9 L637.2,1356.5 L638.8,1358.3 L640.4,1362.1 L642.0,1361.6 L643.6,1362.9 L645.2,1366.2 L646.8,1366.0 L648.4,1369.1 L650.0,1371.9 L651.6,1373.7 L653.2,1375.4 L654.8,1376.5 L656.4,1377.5 L658.0,1380.4 L659.6,1381.8 L661.2,1385.0 L662.8,1385.9 L664.4,1388.4 L666.0,1388.0 L667.6,1392.3 L669.2,1392.1 L670.8,1393.0 L672.4,1394.8 L674.0,1397.1 L675.6,1400.4 L677.2,1401.5 L678.8,1401.1 L680.4,1403.8 L682.0,1405.1 L683.6,1405.0 L685.2,1407.0 L686.8,1407.2 L688.4,1409.7 L690.0,1409.2 L691.6,1412.3 L693.2,1413.3 L694.8,1414.6 L696.4,1415.6 L698.0,1418.7 L699.6,1418.2 L701.2,1419.7 L702.8,1421.0 L704.4,1422.1 L706.0,1422.9 L707.6,1423.0 L709.2,1423.5 L710.8,1424.6 L712.4,1425.6 L714.0,1426.7 L715.6,1427.3 L717.2,1428.8 L718.8,1428.7 L720.4,1430.5 L722.0,1430.7 L723.6,1430.4 L725.2,1431.9 L726.8,1430.2 L728.4,1433.4 L730.0,1433.4 L731.6,1433.9 L733.2,1433.2 L734.8,1436.3 L736.4,1435.1 L738.0,1435.6 L739.6,1436.9 L741.2,1436.5 L742.8,1436.4 L744.4,1437.7 L746.0,1437.0 L747.6,1438.4 L749.2,1438.4 L750.8,1439.2 L752.4,1438.1 L754.0,1439.9 L755.6,1439.5 L757.2,1440.8 L758.8,1439.4 L760.4,1441.2 L762.0,1440.7 L763.6,1441.0 L765.2,1440.3 L766.8,1441.2 L768.4,1441.5 L770.0,1440.8 L771.6,1440.8 L773.2,1441.2 L774.8,1442.7 L776.4,1442.1 L778.0,1442.8 L779.6,1442.6 L781.2,1442.6 L782.8,1442.9 L784.4,1442.7 L786.0,1443.9 L787.6,1443.4 L789.2,1443.6 L790.8,1442.8 L792.4,1444.1 L794.0,1443.7 L795.6,1444.0 L797.2,1445.1 L798.8,1444.0 L800.4,1444.9 L802.0,1445.4 L803.6,1445.8 L805.2,1445.5 L806.8,1446.0 L808.4,1446.3 L810.0,1446.1 L811.6,1446.1 L813.2,1446.4 L814.8,1447.4 L816.4,1447.6 L818.0,1447.4 L819.6,1447.9 L821.2,1448.3 L822.8,1448.5 L824.4,1448.9 L826.0,1449.9 L827.6,1449.3 L829.2,1449.8 L830.8,1449.9 L832.4,1450.2 L834.0,1450.4 L835.6,1450.9 L837.2,1451.1 L838.8,1451.6 L840.4,1451.8 L842.0,1451.8 L843.6,1452.9 L845.2,1452.2 L846.8,1452.9 L848.4,1453.8 L850.0,1453.1 L851.6,1454.0 L853.2,1454.3 L854.8,1454.2 L856.4,1453.7 L858.0,1454.9 L859.6,1454.8 L861.2,1454.8 L862.8,1455.5 L864.4,1455.1 L866.0,1455.9 L867.6,1455.6 L869.2,1456.2 L870.8,1455.9 L872.4,1456.3 L874.0,1456.3 L875.6,1456.6 L877.2,1457.0 L878.8,1457.1 L880.4,1457.4 L882.0,1458.0 L883.6,1457.7 L885.2,1457.4 L886.8,1458.0 L888.4,1458.3 L890.0,1458.8 L891.6,1459.0 L893.2,1459.1 L894.8,1459.0 L896.4,1459.4 L898.0,1458.9 L899.6,1459.9 L901.2,1459.8 L902.8,1460.0 L904.4,1459.9 L906.0,1460.2 L907.6,1460.2 L909.2,1460.7 L910.8,1460.3 L912.4,1461.1 L914.0,1461.2 L915.6,1461.8 L917.2,1461.3 L918.8,1461.4 L920.4,1461.7 L922.0,1461.8 L923.6,1461.9 L925.2,1461.8 L926.8,1461.9 L928.4,1462.3 L930.0,1462.5 L931.6,1462.4 L933.2,1462.6 L934.8,1463.0 L936.4,1463.5 L938.0,1463.3 L939.6,1463.8 L941.2,1464.0 L942.8,1464.1 L944.4,1463.9 L946.0,1464.0 L947.6,1463.7 L949.2,1464.2 L950.8,1464.7 L952.4,1464.3 L954.0,1465.2 L955.6,1465.3 L957.2,1464.8 L958.8,1465.3 L960.4,1464.7 L962.0,1464.9 L963.6,1465.2 L965.2,1465.4 L966.8,1465.4 L968.4,1465.2 L970.0,1466.1 L971.6,1465.7 L973.2,1465.7 L974.8,1465.9 L976.4,1465.7 L978.0,1465.6 L979.6,1465.6 L981.2,1465.2 L982.8,1466.2 L984.4,1465.5 L986.0,1465.3 L987.6,1465.6 L989.2,1465.4 L990.8,1466.5 L992.4,1466.0 L994.0,1466.4 L995.6,1466.4 L997.2,1466.2 L998.8,1466.2 L1000.4,1465.9 L1002.0,1466.2 L1003.6,1466.1 L1005.2,1466.4 L1006.8,1466.4 L1008.4,1467.1 L1010.0,1467.1 L1011.6,1467.1 L1013.2,1466.8 L1014.8,1467.7 L1016.4,1467.9 L1018.0,1467.8 L1019.6,1467.6 L1021.2,1468.2 L1022.8,1468.5 L1024.4,1467.7 L1026.0,1468.5 L1027.6,1467.9 L1029.2,1468.5 L1030.8,1469.1 L1032.4,1468.7 L1034.0,1468.9 L1035.6,1468.7 L1037.2,1468.8 L1038.8,1469.6 L1040.4,1469.4 L1042.0,1468.9 L1043.6,1468.9 L1045.2,1469.1 L1046.8,1469.8 L1048.4,1469.3 L1050.0,1469.6 L1051.6,1469.2 L1053.2,1468.9 L1054.8,1469.8 L1056.4,1469.4 L1058.0,1469.2 L1059.6,1469.3 L1061.2,1469.3 L1062.8,1469.4 L1064.4,1469.1 L1066.0,1470.0 L1067.6,1469.8 L1069.2,1470.0 L1070.8,1469.6 L1072.4,1469.9 L1074.0,1469.9 L1075.6,1470.2 L1077.2,1470.1 L1078.8,1470.0 L1080.4,1469.8 L1082.0,1469.6 L1083.6,1469.8 L1085.2,1469.9 L1086.8,1470.0 L1088.4,1469.8 L1090.0,1470.7 L1091.6,1470.3 L1093.2,1469.7 L1094.8,1470.0 L1096.4,1470.0 L1098.0,1470.5 L1099.6,1470.8 L1101.2,1470.3 L1102.8,1470.6 L1104.4,1470.5 L1106.0,1470.8 L1107.6,1470.9 L1109.2,1470.8 L1110.8,1470.9 L1112.4,1470.8 L1114.0,1470.8 L1115.6,1470.7 L1117.2,1471.0 L1118.8,1471.0 L1120.4,1471.0 L1122.0,1471.0 L1123.6,1471.1 L1125.2,1471.0 L1126.8,1471.1 L1128.4,1471.4 L1130.0,1471.2 L1131.6,1471.5 L1133.2,1471.2 L1134.8,1471.2 L1136.4,1471.5 L1138.0,1471.6 L1139.6,1471.4 L1141.2,1471.7 L1142.8,1471.8 L1144.4,1471.8 L1146.0,1471.7 L1147.6,1471.7 L1149.2,1471.5 L1150.8,1471.8 L1152.4,1471.9 L1154.0,1472.1 L1155.6,1471.7 L1157.2,1471.8 L1158.8,1471.9 L1160.4,1472.2 L1162.0,1471.7 L1163.6,1472.0 L1165.2,1472.5 L1166.8,1472.3 L1168.4,1472.0 L1170.0,1472.3 L1171.6,1472.5 L1173.2,1472.4 L1174.8,1472.4 L1176.4,1472.3 L1178.0,1472.6 L1179.6,1472.5 L1181.2,1472.7 L1182.8,1472.6 L1184.4,1472.5 L1186.0,1472.9 L1187.6,1472.6 L1189.2,1472.8 L1190.8,1472.7 L1192.4,1472.7 L1194.0,1472.8 L1195.6,1472.7 L1197.2,1472.9 L1198.8,1473.1 L1200.4,1473.2 L1202.0,1473.2 L1203.6,1473.0 L1205.2,1473.2 L1206.8,1473.1 L1208.4,1473.3 L1210.0,1472.9 L1211.6,1473.4 L1213.2,1473.1 L1214.8,1473.4 L1216.4,1473.1 L1218.0,1473.4 L1219.6,1473.2 L1221.2,1473.0 L1222.8,1473.2 L1224.4,1473.3 L1226.0,1473.3 L1227.6,1473.0 L1229.2,1473.2 L1230.8,1473.3 L1232.4,1473.4 L1234.0,1473.5 L1235.6,1473.3 L1237.2,1473.3 L1238.8,1473.6 L1240.4,1473.5 L1242.0,1473.7 L1243.6,1473.5 L1245.2,1473.7 L1246.8,1473.5 L1248.4,1473.7 L1250.0,1473.7 L1251.6,1473.7 L1253.2,1473.6 L1254.8,1473.7 L1256.4,1473.6 L1258.0,1473.7 L1259.6,1473.9 L1261.2,1474.2 L1262.8,1473.8 L1264.4,1473.9 L1266.0,1473.9 L1267.6,1474.0 L1269.2,1474.0 L1270.8,1474.1 L1272.4,1474.0 L1274.0,1474.3 L1275.6,1474.2 L1277.2,1473.7 L1278.8,1474.1 L1280.4,1474.0 L1282.0,1473.7 L1283.6,1473.9 L1285.2,1474.0 L1286.8,1474.0 L1288.4,1474.1 L1290.0,1473.9 L1291.6,1474.3 L1293.2,1474.3 L1294.8,1474.3 L1296.4,1474.2 L1298.0,1474.2 L1299.6,1474.2 L1301.2,1474.4 L1302.8,1474.4 L1304.4,1474.6 L1306.0,1474.3 L1307.6,1474.6 L1309.2,1474.3 L1310.8,1474.4 L1312.4,1474.2 L1314.0,1474.5 L1315.6,1474.4 L1317.2,1474.5 L1318.8,1474.7 L1320.4,1474.5 L1322.0,1474.6 L1323.6,1474.7 L1325.2,1474.5 L1326.8,1474.5 L1328.4,1474.6 L1330.0,1474.7 L1331.6,1474.7 L1333.2,1474.7 L1334.8,1474.5 L1336.4,1474.7 L1338.0,1474.9 L1339.6,1474.6 L1341.2,1474.8 L1342.8,1474.6 L1344.4,1474.8 L1346.0,1475.0 L1347.6,1474.8 L1349.2,1474.6 L1350.8,1474.9 L1352.4,1474.8 L1354.0,1475.0 L1355.6,1474.6 L1357.2,1474.7 L1358.8,1474.9 L1360.4,1474.7 L1362.0,1475.1 L1363.6,1474.6 L1365.2,1474.8 L1366.8,1474.7 L1368.4,1474.9 L1370.0,1475.1 L1371.6,1475.1 L1373.2,1475.2 L1374.8,1475.1 L1376.4,1474.7 L1378.0,1475.1 L1379.6,1474.8 L1381.2,1475.0 L1382.8,1475.0 L1384.4,1475.0 L1386.0,1475.2 L1387.6,1475.0 L1389.2,1475.4 L1390.8,1475.3 L1392.4,1475.4 L1394.0,1475.3 L1395.6,1475.3 L1397.2,1475.2 L1398.8,1475.5 L1400.4,1475.1 L1402.0,1475.3 L1403.6,1475.3 L1405.2,1475.3 L1406.8,1475.4 L1408.4,1475.2 L1410.0,1475.5 L1411.6,1475.5 L1413.2,1475.4 L1414.8,1475.5 L1416.4,1475.2 L1418.0,1475.1 L1419.6,1475.3 L1421.2,1475.4 L1422.8,1475.8 L1424.4,1475.4 L1426.0,1475.6 L1427.6,1475.6 L1429.2,1475.8 L1430.8,1475.5 L1432.4,1475.6 L1434.0,1475.5 L1435.6,1475.4 L1437.2,1475.4 L1438.8,1475.4 L1440.4,1475.8 L1442.0,1475.6 L1443.6,1475.6 L1445.2,1475.6 L1446.8,1475.5 L1448.4,1475.6 L1450.0,1475.6 L1451.6,1475.7 L1453.2,1475.8 L1454.8,1475.4 L1456.4,1475.7 L1458.0,1475.9 L1459.6,1475.5 L1461.2,1475.7 L1462.8,1475.7 L1464.4,1475.9 L1466.0,1475.8 L1467.6,1475.7 L1469.2,1475.8 L1470.8,1475.9 L1472.4,1475.8 L1474.0,1476.1 L1475.6,1475.9 L1477.2,1475.7 L1478.8,1475.7 L1480.4,1475.8 L1482.0,1475.8 L1483.6,1475.9 L1485.2,1475.9 L1486.8,1476.1 L1488.4,1476.0 L1490.0,1476.1 L1491.6,1475.8 L1493.2,1475.8 L1494.8,1476.0 L1496.4,1475.9 L1498.0,1476.0 L1499.6,1476.0 L1501.2,1475.9 L1502.8,1476.2 L1504.4,1476.1 L1506.0,1475.7 L1507.6,1475.9 L1509.2,1476.0 L1510.8,1476.1 L1512.4,1476.0 L1514.0,1475.8 L1515.6,1476.2 L1517.2,1476.0 L1518.8,1476.2 L1520.4,1476.1 L1522.0,1476.2 L1523.6,1476.2 L1525.2,1476.2 L1526.8,1476.0 L1528.4,1476.2 L1530.0,1476.1 L1531.6,1475.9 L1533.2,1476.0 L1534.8,1476.1 L1536.4,1476.2 L1538.0,1476.2 L1539.6,1476.0 L1541.2,1476.2 L1542.8,1476.1 L1544.4,1476.0 L1546.0,1476.3 L1547.6,1476.1 L1549.2,1476.0 L1550.8,1476.3 L1552.4,1476.3 L1554.0,1476.1 L1555.6,1476.4 L1557.2,1476.4 L1558.8,1476.1 L1560.4,1476.5 L1562.0,1476.2 L1563.6,1476.3 L1565.2,1475.9 L1566.8,1476.3 L1568.4,1476.2 L1570.0,1476.3 L1571.6,1476.0 L1573.2,1476.4 L1574.8,1476.5 L1576.4,1476.6 L1578.0,1475.8 L1579.6,1476.4 L1581.2,1476.3 L1582.8,1475.8 L1584.4,1476.2 L1586.0,1476.3 L1587.6,1476.5 L1589.2,1476.2 L1590.8,1476.4 L1592.4,1476.3 L1594.0,1476.4 L1595.6,1476.3 L1597.2,1476.5 L1598.8,1476.5 L1600.4,1476.2 L1602.0,1476.5 L1603.6,1476.3 L1605.2,1476.3 L1606.8,1476.5 L1608.4,1476.4 L1610.0,1476.5 L1611.6,1476.5 L1613.2,1476.5 L1614.8,1476.3 L1616.4,1476.3 L1618.0,1476.5 L1619.6,1476.5 L1621.2,1476.5 L1622.8,1476.4 L1624.4,1476.6 L1626.0,1476.4 L1627.6,1476.2 L1629.2,1476.5 L1630.8,1476.5 L1632.4,1476.6 L1634.0,1476.3 L1635.6,1476.4 L1637.2,1476.5 L1638.8,1476.4 L1640.4,1476.5 L1642.0,1476.6 L1643.6,1476.6 L1645.2,1476.8 L1646.8,1476.6 L1648.4,1476.8 L1650.0,1476.7 L1651.6,1476.9 L1653.2,1476.5 L1654.8,1476.5 L1656.4,1476.7 L1658.0,1476.5 L1659.6,1476.5 L1661.2,1476.6 L1662.8,1476.6 L1664.4,1476.4 L1666.0,1476.6 L1667.6,1476.5 L1669.2,1476.6 L1670.8,1476.6 L1672.4,1476.6 L1674.0,1476.8 L1675.6,1476.7 L1677.2,1476.6 L1678.8,1476.6 L1680.4,1476.8 L1682.0,1476.7 L1683.6,1476.8 L1685.2,1476.6 L1686.8,1476.7 L1688.4,1477.0 L1690.0,1476.7 L1691.6,1476.9 L1693.2,1476.8 L1694.8,1476.6 L1696.4,1476.5 L1698.0,1476.8 L1699.6,1476.6 L1701.2,1476.6 L1702.8,1476.4 L1704.4,1476.9 L1706.0,1476.7 L1707.6,1476.7 L1709.2,1476.8 L1710.8,1476.8 L1712.4,1476.7 L1714.0,1476.8 L1715.6,1476.7 L1717.2,1476.4 L1718.8,1476.9 L1720.4,1476.8 L1722.0,1476.8 L1723.6,1477.0 L1725.2,1476.6 L1726.8,1476.3 L1728.4,1477.0 L1730.0,1476.8 L1731.6,1476.5 L1733.2,1476.7 L1734.8,1476.9 L1736.4,1476.6 L1738.0,1476.9 L1739.6,1477.1 L1741.2,1477.0 L1742.8,1476.8 L1744.4,1476.9 L1746.0,1476.7 L1747.6,1476.9 L1749.2,1476.8 L1750.8,1476.7 L1752.4,1476.6 L1754.0,1477.1 L1755.6,1476.9 L1757.2,1476.7 L1758.8,1476.8 L1760.4,1477.1 L1762.0,1477.1 L1763.6,1476.8 L1765.2,1476.9 L1766.8,1477.0 L1768.4,1476.8 L1770.0,1476.7 L1771.6,1476.8 L1773.2,1476.9 L1774.8,1476.8 L1776.4,1476.7 L1778.0,1476.9 L1779.6,1477.1 L1781.2,1477.0 L1782.8,1476.9 L1784.4,1477.2 L1786.0,1476.8 L1787.6,1476.9 L1789.2,1476.7 L1790.8,1477.1 L1792.4,1476.9 L1794.0,1476.7 L1795.6,1476.8 L1797.2,1477.2 L1798.8,1477.1 L1800.4,1477.0 L1802.0,1477.1 L1803.6,1476.7 L1805.2,1476.9 L1806.8,1476.8 L1808.4,1476.9 L1810.0,1476.9 L1811.6,1477.1 L1813.2,1477.2 L1814.8,1477.2 L1816.4,1477.4 L1818.0,1476.9 L1819.6,1477.0 L1821.2,1477.1 L1822.8,1476.9 L1824.4,1477.0 L1826.0,1477.1 L1827.6,1476.9 L1829.2,1477.1 L1830.8,1477.2 L1832.4,1476.9 L1834.0,1476.7 L1835.6,1477.1 L1837.2,1476.9 L1838.8,1477.1 L1840.4,1477.0 L1842.0,1477.1 L1843.6,1477.2 L1845.2,1477.2 L1846.8,1477.0 L1848.4,1476.9 L1850.0,1476.7 L1851.6,1476.8 L1853.2,1477.0 L1854.8,1477.1 L1856.4,1477.0 L1858.0,1477.0 L1859.6,1476.9 L1861.2,1476.9 L1862.8,1476.9 L1864.4,1477.2 L1866.0,1476.8 L1867.6,1477.2 L1869.2,1477.0 L1870.8,1477.2 L1872.4,1477.2 L1874.0,1477.3 L1875.6,1477.3 L1877.2,1477.0 L1878.8,1477.0 L1880.4,1477.1 L1882.0,1477.0 L1883.6,1477.3 L1885.2,1477.1 L1886.8,1477.2 L1888.4,1477.2 L1890.0,1477.1 L1891.6,1477.3 L1893.2,1476.9 L1894.8,1477.2 L1896.4,1477.3 L1898.0,1477.1 L1899.6,1477.1 L1901.2,1477.3 L1902.8,1477.1 L1904.4,1476.9 L1906.0,1477.0 L1907.6,1477.4 L1909.2,1477.1 L1910.8,1477.4 L1912.4,1477.4 L1914.0,1477.2 L1915.6,1477.3 L1917.2,1477.1 L1918.8,1477.2 L1920.4,1477.1 L1922.0,1477.3 L1923.6,1477.0 L1925.2,1477.2 L1926.8,1477.3 L1928.4,1477.3 L1930.0,1476.9 L1931.6,1477.0 L1933.2,1477.1 L1934.8,1477.2 L1936.4,1477.3 L1938.0,1477.3 L1939.6,1477.6 L1941.2,1477.4 L1942.8,1477.4 L1944.4,1477.2 L1946.0,1477.4 L1947.6,1477.4 L1949.2,1477.4 L1950.8,1477.3 L1952.4,1477.4 L1954.0,1477.5 L1955.6,1477.2 L1957.2,1477.0 L1958.8,1477.4 L1960.4,1477.4 L1962.0,1477.3 L1963.6,1477.2 L1965.2,1477.7 L1966.8,1477.2 L1968.4,1477.1 L1970.0,1477.2 L1971.6,1477.4 L1973.2,1477.2 L1974.8,1477.3 L1976.4,1477.4 L1978.0,1477.3 L1979.6,1477.4 L1981.2,1477.3 L1982.8,1477.2 L1984.4,1477.3 L1986.0,1477.2 L1987.6,1477.5 L1989.2,1477.2 L1990.8,1477.3 L1992.4,1477.1 L1994.0,1477.3 L1995.6,1477.2 L1997.2,1477.6 L1998.8,1477.3 L2000.4,1477.4 L2002.0,1477.1 L2003.6,1477.2 L2005.2,1477.3 L2006.8,1477.2 L2008.4,1477.5 L2010.0,1477.3 L2011.6,1477.4 L2013.2,1477.4 L2014.8,1477.4 L2016.4,1477.5 L2018.0,1477.3 L2019.6,1477.4 L2021.2,1477.6 L2022.8,1477.4 L2024.4,1477.4 L2026.0,1477.3 L2027.6,1477.4 L2029.2,1477.5 L2030.8,1477.4 L2032.4,1477.2 L2034.0,1477.4 L2035.6,1477.4 L2037.2,1477.5 L2038.8,1477.4 L2040.4,1477.6 L2042.0,1477.2 L2043.6,1477.3 L2045.2,1477.5 L2046.8,1477.3 L2048.4,1477.5 L2050.0,1477.4 L2051.6,1477.1 L2053.2,1477.5 L2054.8,1477.6 L2056.4,1477.5 L2058.0,1477.2 L2059.6,1477.5 L2061.2,1477.3 L2062.8,1477.4 L2064.4,1477.5 L2066.0,1477.3 L2067.6,1477.2 L2069.2,1477.4 L2070.8,1477.4 L2072.4,1477.3 L2074.0,1477.3 L2075.6,1477.6 L2077.2,1477.4 L2078.8,1477.4 L2080.4,1477.4 L2082.0,1477.5 L2083.6,1477.5 L2085.2,1477.4 L2086.8,1477.3 L2088.4,1477.4 L2090.0,1477.4 L2091.6,1477.5 L2093.2,1477.6 L2094.8,1477.6 L2096.4,1477.6 L2098.0,1477.5 L2099.6,1477.4 L2101.2,1477.5 L2102.8,1477.4 L2104.4,1477.4 L2106.0,1477.3 L2107.6,1477.5 L2109.2,1477.5 L2110.8,1477.7 L2112.4,1477.6 L2114.0,1477.4 L2115.6,1477.6 L2117.2,1477.4 L2118.8,1477.6 L2120.4,1477.6 L2122.0,1477.9 L2123.6,1477.3 L2125.2,1477.5 L2126.8,1477.5 L2128.4,1477.5 L2130.0,1477.6 L2131.6,1477.3 L2133.2,1477.4 L2134.8,1477.5 L2136.4,1477.6 L2138.0,1477.3 L2139.6,1477.3 L2141.2,1477.7 L2142.8,1477.6 L2144.4,1477.6 L2146.0,1477.3 L2147.6,1477.5 L2149.2,1477.5 L2150.8,1477.6 L2152.4,1477.5 L2154.0,1477.5 L2155.6,1477.6 L2157.2,1477.4 L2158.8,1477.4 L2160.4,1477.4 L2162.0,1477.4 L2163.6,1477.5 L2165.2,1477.5 L2166.8,1477.4 L2168.4,1477.7 L2170.0,1477.5 L2171.6,1477.4 L2173.2,1477.7 L2174.8,1477.4 L2176.4,1477.5 L2178.0,1477.5 L2179.6,1477.4 L2181.2,1477.4 L2182.8,1477.5 L2184.4,1477.3 L2186.0,1477.4" stroke="#eb3a3c"/><path d="M282.0,1468.5 L283.6,1466.2 L285.2,1467.4 L286.8,1466.6 L288.4,1469.6 L290.0,1466.5 L291.6,1470.6 L293.2,1476.0 L294.8,1477.3 L296.4,1478.8 L298.0,1476.8 L299.6,1466.9 L301.2,1461.7 L302.8,1451.4 L304.4,1445.0 L306.0,1430.7 L307.6,1419.7 L309.2,1409.7 L310.8,1393.9 L312.4,1383.5 L314.0,1374.1 L315.6,1364.3 L317.2,1359.0 L318.8,1349.4 L320.4,1340.7 L322.0,1329.7 L323.6,1319.4 L325.2,1309.6 L326.8,1299.5 L328.4,1286.8 L330.0,1279.6 L331.6,1269.2 L333.2,1256.1 L334.8,1243.0 L336.4,1231.2 L338.0,1218.2 L339.6,1204.4 L341.2,1192.5 L342.8,1172.5 L344.4,1159.1 L346.0,1143.6 L347.6,1125.9 L349.2,1108.3 L350.8,1089.3 L352.4,1071.1 L354.0,1053.3 L355.6,1033.8 L357.2,1008.6 L358.8,989.4 L360.4,968.7 L362.0,949.2 L363.6,927.3 L365.2,907.0 L366.8,887.1 L368.4,862.6 L370.0,844.4 L371.6,820.9 L373.2,800.8 L374.8,783.8 L376.4,764.0 L378.0,749.5 L379.6,731.0 L381.2,708.5 L382.8,688.5 L384.4,668.5 L386.0,649.9 L387.6,634.0 L389.2,620.3 L390.8,607.8 L392.4,600.2 L394.0,597.7 L395.6,597.8 L397.2,590.8 L398.8,589.3 L400.4,585.2 L402.0,591.6 L403.6,593.8 L405.2,603.7 L406.8,615.9 L408.4,626.0 L410.0,634.1 L411.6,648.3 L413.2,655.6 L414.8,667.3 L416.4,677.0 L418.0,692.2 L419.6,702.0 L421.2,712.7 L422.8,721.1 L424.4,737.4 L426.0,749.7 L427.6,766.7 L429.2,784.1 L430.8,797.8 L432.4,815.9 L434.0,832.2 L435.6,845.6 L437.2,860.3 L438.8,877.0 L440.4,900.5 L442.0,927.3 L443.6,960.1 L445.2,988.1 L446.8,1006.8 L448.4,1023.5 L450.0,1033.2 L451.6,1040.9 L453.2,1059.4 L454.8,1069.0 L456.4,1073.3 L458.0,1083.5 L459.6,1093.8 L461.2,1101.5 L462.8,1109.3 L464.4,1118.3 L466.0,1126.5 L467.6,1133.0 L469.2,1140.6 L470.8,1145.9 L472.4,1150.8 L474.0,1157.8 L475.6,1159.9 L477.2,1170.4 L478.8,1169.0 L480.4,1175.8 L482.0,1179.7 L483.6,1182.7 L485.2,1184.9 L486.8,1189.0 L488.4,1186.9 L490.0,1190.7 L491.6,1193.0 L493.2,1193.6 L494.8,1195.2 L496.4,1200.4 L498.0,1198.6 L499.6,1201.0 L501.2,1203.4 L502.8,1205.5 L504.4,1208.1 L506.0,1209.3 L507.6,1212.1 L509.2,1213.3 L510.8,1215.4 L512.4,1218.3 L514.0,1215.6 L515.6,1221.2 L517.2,1218.6 L518.8,1221.6 L520.4,1221.7 L522.0,1221.9 L523.6,1220.0 L525.2,1227.4 L526.8,1224.2 L528.4,1225.2 L530.0,1229.7 L531.6,1229.1 L533.2,1233.6 L534.8,1234.6 L536.4,1234.3 L538.0,1235.1 L539.6,1237.6 L541.2,1235.5 L542.8,1239.9 L544.4,1241.5 L546.0,1242.1 L547.6,1245.0 L549.2,1243.5 L550.8,1249.3 L552.4,1251.4 L554.0,1248.2 L555.6,1252.2 L557.2,1256.1 L558.8,1255.5 L560.4,1255.0 L562.0,1256.4 L563.6,1259.5 L565.2,1261.8 L566.8,1260.2 L568.4,1262.6 L570.0,1263.0 L571.6,1264.8 L573.2,1266.6 L574.8,1267.4 L576.4,1267.9 L578.0,1271.8 L579.6,1270.7 L581.2,1271.8 L582.8,1274.2 L584.4,1274.3 L586.0,1275.3 L587.6,1277.6 L589.2,1276.9 L590.8,1279.9 L592.4,1281.3 L594.0,1282.2 L595.6,1282.6 L597.2,1284.0 L598.8,1283.5 L600.4,1286.4 L602.0,1288.1 L603.6,1290.0 L605.2,1290.7 L606.8,1291.6 L608.4,1292.6 L610.0,1294.9 L611.6,1296.7 L613.2,1299.5 L614.8,1300.1 L616.4,1301.4 L618.0,1303.6 L619.6,1305.0 L621.2,1307.1 L622.8,1307.0 L624.4,1309.3 L626.0,1311.5 L627.6,1314.8 L629.2,1315.9 L630.8,1317.8 L632.4,1320.4 L634.0,1319.8 L635.6,1323.6 L637.2,1324.5 L638.8,1325.1 L640.4,1329.0 L642.0,1327.8 L643.6,1329.9 L645.2,1332.6 L646.8,1335.1 L648.4,1336.5 L650.0,1336.7 L651.6,1340.7 L653.2,1343.3 L654.8,1348.2 L656.4,1349.5 L658.0,1350.6 L659.6,1351.7 L661.2,1355.2 L662.8,1355.8 L664.4,1359.0 L666.0,1360.9 L667.6,1361.9 L669.2,1364.2 L670.8,1365.2 L672.4,1366.5 L674.0,1370.1 L675.6,1370.7 L677.2,1371.3 L678.8,1372.3 L680.4,1374.7 L682.0,1376.6 L683.6,1378.4 L685.2,1380.5 L686.8,1381.0 L688.4,1381.1 L690.0,1385.8 L691.6,1386.7 L693.2,1388.2 L694.8,1390.5 L696.4,1389.7 L698.0,1392.7 L699.6,1394.5 L701.2,1397.6 L702.8,1398.0 L704.4,1400.2 L706.0,1402.9 L707.6,1403.8 L709.2,1404.4 L710.8,1407.0 L712.4,1406.2 L714.0,1408.4 L715.6,1409.0 L717.2,1410.5 L718.8,1411.0 L720.4,1411.6 L722.0,1413.0 L723.6,1413.0 L725.2,1414.8 L726.8,1415.0 L728.4,1416.5 L730.0,1416.3 L731.6,1416.8 L733.2,1418.1 L734.8,1419.2 L736.4,1417.8 L738.0,1419.6 L739.6,1420.5 L741.2,1419.8 L742.8,1420.6 L744.4,1421.9 L746.0,1421.5 L747.6,1422.0 L749.2,1423.8 L750.8,1422.5 L752.4,1422.9 L754.0,1422.4 L755.6,1423.4 L757.2,1423.7 L758.8,1425.7 L760.4,1425.7 L762.0,1424.5 L763.6,1426.7 L765.2,1426.2 L766.8,1425.9 L768.4,1426.8 L770.0,1426.7 L771.6,1426.3 L773.2,1425.9 L774.8,1426.7 L776.4,1427.4 L778.0,1427.4 L779.6,1427.4 L781.2,1428.7 L782.8,1427.7 L784.4,1429.1 L786.0,1428.5 L787.6,1429.0 L789.2,1428.5 L790.8,1429.4 L792.4,1429.2 L794.0,1428.9 L795.6,1430.1 L797.2,1430.4 L798.8,1431.1 L800.4,1431.0 L802.0,1430.9 L803.6,1431.3 L805.2,1431.0 L806.8,1431.7 L808.4,1432.7 L810.0,1433.0 L811.6,1433.1 L813.2,1433.3 L814.8,1433.7 L816.4,1433.9 L818.0,1433.6 L819.6,1434.1 L821.2,1435.0 L822.8,1435.3 L824.4,1435.4 L826.0,1435.5 L827.6,1435.8 L829.2,1436.0 L830.8,1436.2 L832.4,1436.2 L834.0,1437.2 L835.6,1437.3 L837.2,1437.7 L838.8,1438.5 L840.4,1438.5 L842.0,1438.4 L843.6,1439.1 L845.2,1438.8 L846.8,1439.8 L848.4,1439.9 L850.0,1440.1 L851.6,1440.6 L853.2,1441.1 L854.8,1440.8 L856.4,1441.0 L858.0,1442.2 L859.6,1441.8 L861.2,1442.6 L862.8,1442.2 L864.4,1442.8 L866.0,1442.8 L867.6,1443.4 L869.2,1443.5 L870.8,1443.6 L872.4,1444.6 L874.0,1444.5 L875.6,1444.1 L877.2,1444.9 L878.8,1445.0 L880.4,1445.2 L882.0,1445.7 L883.6,1446.0 L885.2,1446.4 L886.8,1446.5 L888.4,1446.4 L890.0,1447.1 L891.6,1447.8 L893.2,1447.4 L894.8,1448.2 L896.4,1448.5 L898.0,1448.4 L899.6,1448.9 L901.2,1448.8 L902.8,1449.2 L904.4,1449.2 L906.0,1449.9 L907.6,1450.4 L909.2,1450.0 L910.8,1450.8 L912.4,1450.0 L914.0,1450.6 L915.6,1450.7 L917.2,1451.7 L918.8,1451.2 L920.4,1451.8 L922.0,1451.2 L923.6,1452.0 L925.2,1452.3 L926.8,1452.3 L928.4,1451.7 L930.0,1452.8 L931.6,1453.1 L933.2,1453.5 L934.8,1453.3 L936.4,1452.9 L938.0,1453.5 L939.6,1454.0 L941.2,1453.6 L942.8,1454.2 L944.4,1454.1 L946.0,1454.4 L947.6,1454.7 L949.2,1454.4 L950.8,1455.7 L952.4,1455.0 L954.0,1455.2 L955.6,1455.0 L957.2,1455.4 L958.8,1455.4 L960.4,1455.2 L962.0,1455.3 L963.6,1455.9 L965.2,1455.9 L966.8,1455.3 L968.4,1455.5 L970.0,1456.2 L971.6,1456.4 L973.2,1456.6 L974.8,1456.2 L976.4,1456.8 L978.0,1456.6 L979.6,1456.6 L981.2,1456.8 L982.8,1457.2 L984.4,1457.1 L986.0,1457.3 L987.6,1456.9 L989.2,1457.1 L990.8,1456.9 L992.4,1457.1 L994.0,1457.3 L995.6,1457.4 L997.2,1457.8 L998.8,1457.8 L1000.4,1458.1 L1002.0,1458.0 L1003.6,1458.5 L1005.2,1458.5 L1006.8,1459.0 L1008.4,1459.2 L1010.0,1459.5 L1011.6,1459.6 L1013.2,1459.6 L1014.8,1459.9 L1016.4,1461.2 L1018.0,1461.0 L1019.6,1461.3 L1021.2,1461.4 L1022.8,1461.5 L1024.4,1462.7 L1026.0,1461.6 L1027.6,1462.1 L1029.2,1462.2 L1030.8,1462.0 L1032.4,1462.1 L1034.0,1462.4 L1035.6,1462.6 L1037.2,1462.7 L1038.8,1463.2 L1040.4,1462.7 L1042.0,1463.3 L1043.6,1463.7 L1045.2,1463.7 L1046.8,1463.2 L1048.4,1462.7 L1050.0,1463.9 L1051.6,1463.9 L1053.2,1463.7 L1054.8,1464.3 L1056.4,1463.9 L1058.0,1464.2 L1059.6,1463.9 L1061.2,1464.4 L1062.8,1464.2 L1064.4,1464.3 L1066.0,1464.9 L1067.6,1464.7 L1069.2,1464.2 L1070.8,1464.9 L1072.4,1465.1 L1074.0,1464.6 L1075.6,1464.8 L1077.2,1465.0 L1078.8,1465.0 L1080.4,1465.2 L1082.0,1465.4 L1083.6,1465.1 L1085.2,1465.9 L1086.8,1465.2 L1088.4,1465.3 L1090.0,1466.1 L1091.6,1466.3 L1093.2,1465.6 L1094.8,1465.6 L1096.4,1465.4 L1098.0,1466.1 L1099.6,1465.9 L1101.2,1465.8 L1102.8,1466.0 L1104.4,1466.2 L1106.0,1466.2 L1107.6,1466.4 L1109.2,1466.3 L1110.8,1466.3 L1112.4,1466.2 L1114.0,1466.4 L1115.6,1466.5 L1117.2,1466.5 L1118.8,1466.6 L1120.4,1466.5 L1122.0,1466.7 L1123.6,1466.8 L1125.2,1466.6 L1126.8,1466.5 L1128.4,1467.0 L1130.0,1466.9 L1131.6,1466.7 L1133.2,1466.9 L1134.8,1466.9 L1136.4,1466.7 L1138.0,1466.9 L1139.6,1466.8 L1141.2,1467.1 L1142.8,1467.1 L1144.4,1467.3 L1146.0,1467.2 L1147.6,1467.3 L1149.2,1467.2 L1150.8,1467.2 L1152.4,1467.1 L1154.0,1467.5 L1155.6,1467.4 L1157.2,1467.4 L1158.8,1467.5 L1160.4,1467.5 L1162.0,1467.4 L1163.6,1467.6 L1165.2,1467.8 L1166.8,1467.6 L1168.4,1467.5 L1170.0,1467.6 L1171.6,1468.0 L1173.2,1467.7 L1174.8,1468.0 L1176.4,1467.8 L1178.0,1468.0 L1179.6,1467.9 L1181.2,1467.7 L1182.8,1468.0 L1184.4,1468.4 L1186.0,1468.1 L1187.6,1468.2 L1189.2,1468.1 L1190.8,1468.2 L1192.4,1468.3 L1194.0,1468.3 L1195.6,1468.6 L1197.2,1468.3 L1198.8,1468.3 L1200.4,1468.3 L1202.0,1468.2 L1203.6,1468.2 L1205.2,1468.6 L1206.8,1468.3 L1208.4,1468.8 L1210.0,1468.7 L1211.6,1468.6 L1213.2,1468.5 L1214.8,1468.7 L1216.4,1468.8 L1218.0,1469.0 L1219.6,1468.7 L1221.2,1468.8 L1222.8,1468.9 L1224.4,1468.9 L1226.0,1468.9 L1227.6,1468.7 L1229.2,1468.8 L1230.8,1469.0 L1232.4,1469.1 L1234.0,1469.3 L1235.6,1469.5 L1237.2,1469.5 L1238.8,1469.3 L1240.4,1469.6 L1242.0,1469.3 L1243.6,1469.3 L1245.2,1469.7 L1246.8,1469.3 L1248.4,1469.4 L1250.0,1469.5 L1251.6,1469.8 L1253.2,1469.5 L1254.8,1469.7 L1256.4,1469.6 L1258.0,1469.5 L1259.6,1469.8 L1261.2,1469.8 L1262.8,1469.6 L1264.4,1469.7 L1266.0,1469.7 L1267.6,1470.0 L1269.2,1470.0 L1270.8,1470.0 L1272.4,1470.1 L1274.0,1470.0 L1275.6,1470.1 L1277.2,1470.0 L1278.8,1469.9 L1280.4,1470.1 L1282.0,1470.2 L1283.6,1470.3 L1285.2,1470.4 L1286.8,1470.1 L1288.4,1470.3 L1290.0,1470.4 L1291.6,1470.3 L1293.2,1470.5 L1294.8,1470.4 L1296.4,1470.3 L1298.0,1470.7 L1299.6,1470.4 L1301.2,1470.8 L1302.8,1470.6 L1304.4,1470.5 L1306.0,1470.6 L1307.6,1470.6 L1309.2,1470.7 L1310.8,1470.9 L1312.4,1470.6 L1314.0,1471.1 L1315.6,1471.0 L1317.2,1471.2 L1318.8,1470.8 L1320.4,1470.7 L1322.0,1471.0 L1323.6,1471.1 L1325.2,1471.2 L1326.8,1471.1 L1328.4,1471.2 L1330.0,1471.2 L1331.6,1471.0 L1333.2,1471.6 L1334.8,1471.2 L1336.4,1471.4 L1338.0,1471.5 L1339.6,1471.3 L1341.2,1471.5 L1342.8,1471.7 L1344.4,1471.5 L1346.0,1471.7 L1347.6,1471.6 L1349.2,1471.6 L1350.8,1471.8 L1352.4,1471.6 L1354.0,1471.7 L1355.6,1471.9 L1357.2,1471.8 L1358.8,1471.9 L1360.4,1471.7 L1362.0,1471.9 L1363.6,1472.1 L1365.2,1472.1 L1366.8,1472.0 L1368.4,1471.9 L1370.0,1471.9 L1371.6,1472.1 L1373.2,1472.3 L1374.8,1472.1 L1376.4,1472.4 L1378.0,1472.1 L1379.6,1472.4 L1381.2,1472.1 L1382.8,1472.3 L1384.4,1472.2 L1386.0,1472.5 L1387.6,1472.5 L1389.2,1472.3 L1390.8,1472.3 L1392.4,1472.4 L1394.0,1472.3 L1395.6,1472.4 L1397.2,1472.4 L1398.8,1472.7 L1400.4,1472.8 L1402.0,1472.6 L1403.6,1472.7 L1405.2,1472.8 L1406.8,1472.7 L1408.4,1472.8 L1410.0,1472.9 L1411.6,1472.9 L1413.2,1472.9 L1414.8,1472.8 L1416.4,1473.2 L1418.0,1472.9 L1419.6,1473.0 L1421.2,1472.9 L1422.8,1473.0 L1424.4,1473.1 L1426.0,1473.1 L1427.6,1473.2 L1429.2,1473.2 L1430.8,1473.0 L1432.4,1472.9 L1434.0,1473.4 L1435.6,1473.2 L1437.2,1473.6 L1438.8,1473.4 L1440.4,1473.3 L1442.0,1473.5 L1443.6,1473.4 L1445.2,1473.5 L1446.8,1473.4 L1448.4,1473.7 L1450.0,1473.8 L1451.6,1473.5 L1453.2,1473.9 L1454.8,1473.6 L1456.4,1473.8 L1458.0,1473.5 L1459.6,1473.5 L1461.2,1474.1 L1462.8,1474.1 L1464.4,1474.0 L1466.0,1473.6 L1467.6,1474.0 L1469.2,1474.0 L1470.8,1474.0 L1472.4,1474.1 L1474.0,1473.9 L1475.6,1474.1 L1477.2,1473.9 L1478.8,1474.1 L1480.4,1474.2 L1482.0,1474.1 L1483.6,1474.2 L1485.2,1474.2 L1486.8,1474.3 L1488.4,1474.5 L1490.0,1474.4 L1491.6,1474.4 L1493.2,1474.2 L1494.8,1474.4 L1496.4,1474.6 L1498.0,1474.4 L1499.6,1474.5 L1501.2,1474.4 L1502.8,1474.8 L1504.4,1474.6 L1506.0,1474.5 L1507.6,1474.8 L1509.2,1474.9 L1510.8,1474.8 L1512.4,1474.9 L1514.0,1474.8 L1515.6,1474.8 L1517.2,1474.8 L1518.8,1474.8 L1520.4,1474.8 L1522.0,1475.0 L1523.6,1475.0 L1525.2,1475.0 L1526.8,1475.1 L1528.4,1475.1 L1530.0,1474.9 L1531.6,1475.0 L1533.2,1475.0 L1534.8,1474.9 L1536.4,1475.2 L1538.0,1475.1 L1539.6,1475.1 L1541.2,1475.1 L1542.8,1475.5 L1544.4,1475.3 L1546.0,1475.5 L1547.6,1475.4 L1549.2,1475.4 L1550.8,1475.6 L1552.4,1475.6 L1554.0,1475.6 L1555.6,1475.4 L1557.2,1475.5 L1558.8,1475.4 L1560.4,1475.6 L1562.0,1475.7 L1563.6,1475.9 L1565.2,1476.0 L1566.8,1475.9 L1568.4,1476.0 L1570.0,1475.9 L1571.6,1476.3 L1573.2,1476.1 L1574.8,1476.3 L1576.4,1476.0 L1578.0,1476.1 L1579.6,1476.2 L1581.2,1476.1 L1582.8,1476.1 L1584.4,1476.0 L1586.0,1476.3 L1587.6,1476.2 L1589.2,1476.3 L1590.8,1476.2 L1592.4,1476.0 L1594.0,1476.4 L1595.6,1476.5 L1597.2,1476.2 L1598.8,1476.3 L1600.4,1476.4 L1602.0,1476.5 L1603.6,1476.3 L1605.2,1476.8 L1606.8,1476.7 L1608.4,1476.5 L1610.0,1476.4 L1611.6,1476.7 L1613.2,1477.0 L1614.8,1476.9 L1616.4,1477.0 L1618.0,1476.7 L1619.6,1476.9 L1621.2,1476.7 L1622.8,1477.2 L1624.4,1477.0 L1626.0,1476.7 L1627.6,1476.8 L1629.2,1477.1 L1630.8,1477.1 L1632.4,1477.1 L1634.0,1477.3 L1635.6,1477.5 L1637.2,1477.3 L1638.8,1477.0 L1640.4,1477.3 L1642.0,1477.1 L1643.6,1477.3 L1645.2,1477.5 L1646.8,1477.4 L1648.4,1477.3 L1650.0,1477.5 L1651.6,1477.4 L1653.2,1477.7 L1654.8,1477.6 L1656.4,1477.7 L1658.0,1477.6 L1659.6,1477.8 L1661.2,1477.7 L1662.8,1477.8 L1664.4,1477.7 L1666.0,1477.9 L1667.6,1477.6 L1669.2,1478.3 L1670.8,1477.8 L1672.4,1478.0 L1674.0,1477.9 L1675.6,1478.0 L1677.2,1478.1 L1678.8,1478.0 L1680.4,1478.1 L1682.0,1478.0 L1683.6,1478.1 L1685.2,1478.0 L1686.8,1478.5 L1688.4,1478.1 L1690.0,1478.2 L1691.6,1478.4 L1693.2,1478.6 L1694.8,1478.2 L1696.4,1478.2 L1698.0,1478.5 L1699.6,1478.5 L1701.2,1478.3 L1702.8,1478.3 L1704.4,1478.4 L1706.0,1478.7 L1707.6,1478.6 L1709.2,1478.8 L1710.8,1478.7 L1712.4,1478.7 L1714.0,1478.8 L1715.6,1478.8 L1717.2,1478.8 L1718.8,1478.7 L1720.4,1478.8 L1722.0,1479.0 L1723.6,1478.9 L1725.2,1478.8 L1726.8,1479.1 L1728.4,1479.1 L1730.0,1479.0 L1731.6,1478.9 L1733.2,1479.2 L1734.8,1479.5 L1736.4,1479.0 L1738.0,1478.9 L1739.6,1479.0 L1741.2,1479.0 L1742.8,1479.0 L1744.4,1479.0 L1746.0,1479.4 L1747.6,1479.4 L1749.2,1479.5 L1750.8,1479.4 L1752.4,1479.2 L1754.0,1479.5 L1755.6,1479.3 L1757.2,1479.3 L1758.8,1479.2 L1760.4,1479.6 L1762.0,1479.6 L1763.6,1479.4 L1765.2,1479.4 L1766.8,1479.5 L1768.4,1479.5 L1770.0,1479.6 L1771.6,1479.5 L1773.2,1479.6 L1774.8,1479.3 L1776.4,1479.5 L1778.0,1479.3 L1779.6,1479.9 L1781.2,1479.8 L1782.8,1479.7 L1784.4,1479.8 L1786.0,1479.9 L1787.6,1479.8 L1789.2,1479.4 L1790.8,1479.6 L1792.4,1479.3 L1794.0,1479.6 L1795.6,1479.5 L1797.2,1479.7 L1798.8,1479.8 L1800.4,1479.6 L1802.0,1479.7 L1803.6,1479.8 L1805.2,1479.7 L1806.8,1479.7 L1808.4,1479.4 L1810.0,1479.7 L1811.6,1479.9 L1813.2,1479.8 L1814.8,1479.6 L1816.4,1479.8 L1818.0,1479.9 L1819.6,1479.7 L1821.2,1479.9 L1822.8,1479.7 L1824.4,1479.8 L1826.0,1479.8 L1827.6,1480.2 L1829.2,1479.8 L1830.8,1479.8 L1832.4,1480.0 L1834.0,1479.8 L1835.6,1479.9 L1837.2,1479.6 L1838.8,1480.0 L1840.4,1479.9 L1842.0,1479.7 L1843.6,1480.1 L1845.2,1479.9 L1846.8,1479.9 L1848.4,1479.8 L1850.0,1479.7 L1851.6,1479.9 L1853.2,1479.7 L1854.8,1480.1 L1856.4,1480.1 L1858.0,1479.9 L1859.6,1479.8 L1861.2,1480.0 L1862.8,1479.9 L1864.4,1480.1 L1866.0,1480.1 L1867.6,1480.0 L1869.2,1480.1 L1870.8,1480.2 L1872.4,1480.3 L1874.0,1480.0 L1875.6,1480.2 L1877.2,1480.0 L1878.8,1479.9 L1880.4,1480.3 L1882.0,1480.2 L1883.6,1480.1 L1885.2,1480.2 L1886.8,1480.1 L1888.4,1480.0 L1890.0,1480.4 L1891.6,1480.3 L1893.2,1480.2 L1894.8,1480.3 L1896.4,1480.4 L1898.0,1480.1 L1899.6,1480.3 L1901.2,1480.1 L1902.8,1480.3 L1904.4,1480.2 L1906.0,1480.6 L1907.6,1480.2 L1909.2,1480.3 L1910.8,1480.3 L1912.4,1480.2 L1914.0,1480.4 L1915.6,1480.2 L1917.2,1480.2 L1918.8,1480.3 L1920.4,1480.1 L1922.0,1480.4 L1923.6,1480.4 L1925.2,1480.4 L1926.8,1480.1 L1928.4,1480.3 L1930.0,1480.2 L1931.6,1480.3 L1933.2,1480.5 L1934.8,1480.4 L1936.4,1480.3 L1938.0,1480.5 L1939.6,1480.5 L1941.2,1480.6 L1942.8,1480.1 L1944.4,1480.4 L1946.0,1480.3 L1947.6,1480.2 L1949.2,1480.4 L1950.8,1480.2 L1952.4,1480.0 L1954.0,1480.2 L1955.6,1480.3 L1957.2,1480.7 L1958.8,1480.3 L1960.4,1480.2 L1962.0,1480.1 L1963.6,1480.4 L1965.2,1480.4 L1966.8,1480.4 L1968.4,1480.2 L1970.0,1480.3 L1971.6,1480.1 L1973.2,1480.5 L1974.8,1480.2 L1976.4,1480.0 L1978.0,1480.6 L1979.6,1480.5 L1981.2,1480.5 L1982.8,1480.5 L1984.4,1480.3 L1986.0,1480.6 L1987.6,1480.3 L1989.2,1480.8 L1990.8,1480.5 L1992.4,1480.2 L1994.0,1480.6 L1995.6,1480.8 L1997.2,1480.5 L1998.8,1480.7 L2000.4,1480.5 L2002.0,1480.4 L2003.6,1480.1 L2005.2,1480.7 L2006.8,1480.5 L2008.4,1480.6 L2010.0,1480.4 L2011.6,1480.4 L2013.2,1480.7 L2014.8,1480.5 L2016.4,1480.5 L2018.0,1480.4 L2019.6,1480.6 L2021.2,1480.7 L2022.8,1480.5 L2024.4,1480.6 L2026.0,1480.4 L2027.6,1480.8 L2029.2,1480.5 L2030.8,1480.6 L2032.4,1480.9 L2034.0,1480.6 L2035.6,1480.4 L2037.2,1480.5 L2038.8,1480.6 L2040.4,1480.9 L2042.0,1480.7 L2043.6,1480.6 L2045.2,1480.8 L2046.8,1480.8 L2048.4,1480.5 L2050.0,1480.9 L2051.6,1480.8 L2053.2,1480.7 L2054.8,1480.3 L2056.4,1480.7 L2058.0,1480.9 L2059.6,1480.6 L2061.2,1481.0 L2062.8,1480.7 L2064.4,1480.5 L2066.0,1480.8 L2067.6,1480.7 L2069.2,1480.8 L2070.8,1480.7 L2072.4,1480.9 L2074.0,1480.6 L2075.6,1480.7 L2077.2,1480.5 L2078.8,1480.6 L2080.4,1480.7 L2082.0,1480.6 L2083.6,1480.6 L2085.2,1480.7 L2086.8,1480.8 L2088.4,1480.8 L2090.0,1480.8 L2091.6,1480.9 L2093.2,1480.8 L2094.8,1480.6 L2096.4,1480.5 L2098.0,1480.7 L2099.6,1480.6 L2101.2,1480.5 L2102.8,1481.0 L2104.4,1480.5 L2106.0,1480.8 L2107.6,1480.8 L2109.2,1480.7 L2110.8,1481.1 L2112.4,1480.8 L2114.0,1480.6 L2115.6,1481.0 L2117.2,1480.6 L2118.8,1480.5 L2120.4,1480.6 L2122.0,1480.7 L2123.6,1480.8 L2125.2,1480.8 L2126.8,1480.5 L2128.4,1480.8 L2130.0,1481.1 L2131.6,1480.7 L2133.2,1480.8 L2134.8,1480.9 L2136.4,1481.0 L2138.0,1480.7 L2139.6,1480.6 L2141.2,1480.6 L2142.8,1480.9 L2144.4,1480.9 L2146.0,1480.5 L2147.6,1480.5 L2149.2,1480.6 L2150.8,1480.6 L2152.4,1480.8 L2154.0,1480.8 L2155.6,1481.1 L2157.2,1480.9 L2158.8,1480.8 L2160.4,1481.0 L2162.0,1480.7 L2163.6,1480.6 L2165.2,1480.8 L2166.8,1480.9 L2168.4,1480.5 L2170.0,1480.9 L2171.6,1480.9 L2173.2,1480.7 L2174.8,1480.8 L2176.4,1480.8 L2178.0,1480.8 L2179.6,1480.9 L2181.2,1480.7 L2182.8,1481.0 L2184.4,1480.9 L2186.0,1480.9" stroke="#136ae2"/><path d="M282.0,1469.3 L283.6,1466.2 L285.2,1468.9 L286.8,1465.8 L288.4,1465.5 L290.0,1465.9 L291.6,1465.5 L293.2,1468.1 L294.8,1468.4 L296.4,1470.0 L298.0,1467.5 L299.6,1465.0 L301.2,1456.4 L302.8,1449.2 L304.4,1444.4 L306.0,1434.8 L307.6,1422.8 L309.2,1414.1 L310.8,1402.4 L312.4,1398.1 L314.0,1382.3 L315.6,1379.1 L317.2,1365.1 L318.8,1357.6 L320.4,1346.2 L322.0,1335.5 L323.6,1327.0 L325.2,1315.7 L326.8,1302.2 L328.4,1289.3 L330.0,1282.5 L331.6,1268.8 L333.2,1253.8 L334.8,1239.7 L336.4,1227.0 L338.0,1212.2 L339.6,1199.3 L341.2,1180.0 L342.8,1165.9 L344.4,1148.1 L346.0,1135.1 L347.6,1118.8 L349.2,1097.8 L350.8,1080.3 L352.4,1062.0 L354.0,1038.3 L355.6,1016.0 L357.2,998.4 L358.8,976.4 L360.4,954.7 L362.0,937.2 L363.6,914.0 L365.2,889.3 L366.8,872.1 L368.4,850.5 L370.0,833.5 L371.6,810.2 L373.2,790.8 L374.8,773.8 L376.4,756.4 L378.0,736.6 L379.6,722.4 L381.2,704.8 L382.8,691.4 L384.4,677.3 L386.0,655.7 L387.6,641.8 L389.2,628.9 L390.8,617.5 L392.4,607.3 L394.0,600.3 L395.6,594.6 L397.2,582.9 L398.8,576.0 L400.4,570.6 L402.0,573.4 L403.6,573.9 L405.2,570.9 L406.8,574.1 L408.4,581.8 L410.0,594.7 L411.6,610.6 L413.2,625.2 L414.8,638.9 L416.4,649.6 L418.0,658.9 L419.6,674.4 L421.2,682.9 L422.8,694.5 L424.4,712.0 L426.0,729.3 L427.6,752.8 L429.2,775.8 L430.8,791.5 L432.4,815.5 L434.0,837.0 L435.6,853.3 L437.2,869.2 L438.8,887.2 L440.4,904.6 L442.0,918.8 L443.6,934.4 L445.2,951.8 L446.8,968.2 L448.4,986.1 L450.0,995.4 L451.6,1011.4 L453.2,1019.2 L454.8,1027.6 L456.4,1033.6 L458.0,1047.0 L459.6,1052.6 L461.2,1065.9 L462.8,1073.8 L464.4,1079.3 L466.0,1088.6 L467.6,1100.8 L469.2,1106.4 L470.8,1110.6 L472.4,1116.6 L474.0,1120.7 L475.6,1122.6 L477.2,1127.0 L478.8,1129.2 L480.4,1132.4 L482.0,1136.6 L483.6,1136.4 L485.2,1141.8 L486.8,1142.9 L488.4,1146.2 L490.0,1148.7 L491.6,1151.6 L493.2,1152.7 L494.8,1155.0 L496.4,1155.5 L498.0,1158.9 L499.6,1158.2 L501.2,1161.3 L502.8,1164.9 L504.4,1165.1 L506.0,1167.7 L507.6,1166.5 L509.2,1172.3 L510.8,1170.0 L512.4,1172.9 L514.0,1173.3 L515.6,1176.0 L517.2,1174.7 L518.8,1174.6 L520.4,1174.0 L522.0,1178.0 L523.6,1177.5 L525.2,1181.9 L526.8,1185.0 L528.4,1180.0 L530.0,1183.5 L531.6,1188.4 L533.2,1192.1 L534.8,1192.6 L536.4,1194.8 L538.0,1197.3 L539.6,1199.4 L541.2,1203.2 L542.8,1203.0 L544.4,1201.1 L546.0,1204.0 L547.6,1206.6 L549.2,1206.1 L550.8,1208.4 L552.4,1209.2 L554.0,1210.1 L555.6,1213.8 L557.2,1213.1 L558.8,1213.0 L560.4,1215.3 L562.0,1217.3 L563.6,1220.6 L565.2,1219.9 L566.8,1222.4 L568.4,1222.7 L570.0,1221.3 L571.6,1225.1 L573.2,1225.1 L574.8,1225.9 L576.4,1227.4 L578.0,1231.6 L579.6,1229.4 L581.2,1231.7 L582.8,1234.7 L584.4,1235.5 L586.0,1234.4 L587.6,1237.3 L589.2,1238.2 L590.8,1239.8 L592.4,1242.1 L594.0,1242.0 L595.6,1243.6 L597.2,1246.7 L598.8,1244.7 L600.4,1247.4 L602.0,1249.5 L603.6,1249.1 L605.2,1251.0 L606.8,1251.6 L608.4,1254.4 L610.0,1255.0 L611.6,1257.8 L613.2,1259.4 L614.8,1259.9 L616.4,1261.0 L618.0,1263.3 L619.6,1264.7 L621.2,1265.2 L622.8,1269.4 L624.4,1270.5 L626.0,1273.1 L627.6,1273.1 L629.2,1277.6 L630.8,1281.2 L632.4,1282.1 L634.0,1282.4 L635.6,1286.3 L637.2,1288.7 L638.8,1291.5 L640.4,1293.5 L642.0,1296.7 L643.6,1298.2 L645.2,1301.3 L646.8,1302.8 L648.4,1305.9 L650.0,1309.2 L651.6,1310.0 L653.2,1313.6 L654.8,1314.5 L656.4,1317.4 L658.0,1319.9 L659.6,1323.8 L661.2,1324.2 L662.8,1328.6 L664.4,1328.2 L666.0,1331.8 L667.6,1335.2 L669.2,1337.2 L670.8,1337.6 L672.4,1339.4 L674.0,1343.6 L675.6,1343.4 L677.2,1347.2 L678.8,1347.9 L680.4,1350.3 L682.0,1354.5 L683.6,1355.6 L685.2,1356.7 L686.8,1356.4 L688.4,1360.0 L690.0,1361.6 L691.6,1363.5 L693.2,1366.9 L694.8,1365.9 L696.4,1370.0 L698.0,1371.9 L699.6,1373.0 L701.2,1376.8 L702.8,1376.9 L704.4,1379.5 L706.0,1381.3 L707.6,1381.8 L709.2,1384.2 L710.8,1386.3 L712.4,1389.2 L714.0,1391.1 L715.6,1392.5 L717.2,1393.8 L718.8,1393.7 L720.4,1396.3 L722.0,1396.7 L723.6,1398.6 L725.2,1399.5 L726.8,1400.7 L728.4,1400.5 L730.0,1401.2 L731.6,1400.7 L733.2,1401.9 L734.8,1401.7 L736.4,1403.5 L738.0,1402.7 L739.6,1403.8 L741.2,1403.9 L742.8,1404.6 L744.4,1405.5 L746.0,1405.3 L747.6,1406.2 L749.2,1405.9 L750.8,1407.7 L752.4,1406.9 L754.0,1408.3 L755.6,1409.4 L757.2,1407.0 L758.8,1408.3 L760.4,1409.1 L762.0,1410.3 L763.6,1409.7 L765.2,1410.5 L766.8,1410.2 L768.4,1411.3 L770.0,1410.6 L771.6,1412.1 L773.2,1410.1 L774.8,1411.1 L776.4,1413.7 L778.0,1413.0 L779.6,1412.6 L781.2,1414.8 L782.8,1414.4 L784.4,1414.7 L786.0,1414.1 L787.6,1415.0 L789.2,1415.2 L790.8,1414.2 L792.4,1415.9 L794.0,1415.7 L795.6,1416.9 L797.2,1417.2 L798.8,1416.3 L800.4,1416.8 L802.0,1417.4 L803.6,1417.8 L805.2,1417.8 L806.8,1418.3 L808.4,1418.8 L810.0,1419.1 L811.6,1419.6 L813.2,1419.6 L814.8,1419.6 L816.4,1419.7 L818.0,1420.8 L819.6,1420.8 L821.2,1421.1 L822.8,1421.4 L824.4,1421.3 L826.0,1422.0 L827.6,1421.7 L829.2,1422.7 L830.8,1422.8 L832.4,1424.0 L834.0,1423.9 L835.6,1424.0 L837.2,1424.5 L838.8,1425.0 L840.4,1424.8 L842.0,1425.3 L843.6,1425.6 L845.2,1426.8 L846.8,1426.4 L848.4,1426.1 L850.0,1427.2 L851.6,1428.1 L853.2,1427.3 L854.8,1429.0 L856.4,1428.2 L858.0,1428.9 L859.6,1428.7 L861.2,1429.1 L862.8,1429.2 L864.4,1429.6 L866.0,1429.5 L867.6,1430.9 L869.2,1430.5 L870.8,1431.3 L872.4,1431.6 L874.0,1431.7 L875.6,1432.2 L877.2,1432.5 L878.8,1432.7 L880.4,1433.2 L882.0,1433.5 L883.6,1433.5 L885.2,1433.8 L886.8,1434.3 L888.4,1434.9 L890.0,1435.6 L891.6,1435.9 L893.2,1435.9 L894.8,1436.4 L896.4,1436.5 L898.0,1437.1 L899.6,1437.1 L901.2,1437.5 L902.8,1437.6 L904.4,1438.0 L906.0,1438.9 L907.6,1438.2 L909.2,1438.9 L910.8,1439.0 L912.4,1439.7 L914.0,1440.3 L915.6,1439.9 L917.2,1439.4 L918.8,1440.7 L920.4,1441.0 L922.0,1440.6 L923.6,1441.3 L925.2,1441.7 L926.8,1441.3 L928.4,1442.5 L930.0,1442.7 L931.6,1442.9 L933.2,1442.8 L934.8,1443.2 L936.4,1443.5 L938.0,1444.1 L939.6,1443.9 L941.2,1444.9 L942.8,1444.9 L944.4,1444.3 L946.0,1445.8 L947.6,1445.5 L949.2,1445.6 L950.8,1446.0 L952.4,1445.6 L954.0,1446.5 L955.6,1445.8 L957.2,1446.5 L958.8,1447.4 L960.4,1447.6 L962.0,1447.2 L963.6,1447.2 L965.2,1447.9 L966.8,1447.8 L968.4,1448.0 L970.0,1448.2 L971.6,1447.8 L973.2,1448.4 L974.8,1447.6 L976.4,1448.8 L978.0,1447.9 L979.6,1448.3 L981.2,1448.3 L982.8,1448.8 L984.4,1448.9 L986.0,1448.8 L987.6,1448.9 L989.2,1448.9 L990.8,1448.8 L992.4,1448.3 L994.0,1448.3 L995.6,1448.4 L997.2,1449.2 L998.8,1449.2 L1000.4,1449.4 L1002.0,1449.7 L1003.6,1449.8 L1005.2,1449.8 L1006.8,1450.0 L1008.4,1450.3 L1010.0,1451.6 L1011.6,1451.9 L1013.2,1451.6 L1014.8,1452.4 L1016.4,1453.0 L1018.0,1453.8 L1019.6,1453.4 L1021.2,1454.0 L1022.8,1454.6 L1024.4,1453.9 L1026.0,1454.4 L1027.6,1454.8 L1029.2,1454.7 L1030.8,1455.8 L1032.4,1455.5 L1034.0,1455.5 L1035.6,1455.3 L1037.2,1456.0 L1038.8,1456.1 L1040.4,1455.8 L1042.0,1456.0 L1043.6,1455.8 L1045.2,1456.4 L1046.8,1456.8 L1048.4,1457.0 L1050.0,1456.9 L1051.6,1457.1 L1053.2,1456.8 L1054.8,1456.9 L1056.4,1457.6 L1058.0,1457.4 L1059.6,1457.2 L1061.2,1457.7 L1062.8,1457.9 L1064.4,1457.9 L1066.0,1457.8 L1067.6,1457.7 L1069.2,1458.1 L1070.8,1458.6 L1072.4,1458.2 L1074.0,1458.0 L1075.6,1458.4 L1077.2,1458.0 L1078.8,1458.5 L1080.4,1458.5 L1082.0,1458.9 L1083.6,1458.7 L1085.2,1459.1 L1086.8,1459.6 L1088.4,1458.9 L1090.0,1458.7 L1091.6,1459.2 L1093.2,1459.1 L1094.8,1459.3 L1096.4,1459.1 L1098.0,1459.5 L1099.6,1459.5 L1101.2,1459.2 L1102.8,1459.5 L1104.4,1459.7 L1106.0,1459.9 L1107.6,1459.7 L1109.2,1459.7 L1110.8,1460.1 L1112.4,1459.9 L1114.0,1460.0 L1115.6,1460.2 L1117.2,1460.3 L1118.8,1460.2 L1120.4,1460.1 L1122.0,1460.5 L1123.6,1460.3 L1125.2,1460.3 L1126.8,1460.8 L1128.4,1460.7 L1130.0,1460.4 L1131.6,1460.6 L1133.2,1460.7 L1134.8,1460.6 L1136.4,1460.5 L1138.0,1461.0 L1139.6,1461.0 L1141.2,1461.0 L1142.8,1461.0 L1144.4,1461.1 L1146.0,1461.2 L1147.6,1461.0 L1149.2,1461.2 L1150.8,1461.2 L1152.4,1461.4 L1154.0,1461.4 L1155.6,1461.2 L1157.2,1461.4 L1158.8,1461.8 L1160.4,1461.4 L1162.0,1461.6 L1163.6,1461.6 L1165.2,1461.9 L1166.8,1461.7 L1168.4,1461.7 L1170.0,1461.7 L1171.6,1461.8 L1173.2,1462.1 L1174.8,1462.1 L1176.4,1461.8 L1178.0,1462.3 L1179.6,1462.1 L1181.2,1462.0 L1182.8,1462.2 L1184.4,1462.1 L1186.0,1462.2 L1187.6,1462.2 L1189.2,1462.4 L1190.8,1462.3 L1192.4,1462.2 L1194.0,1462.6 L1195.6,1462.5 L1197.2,1462.8 L1198.8,1462.7 L1200.4,1462.8 L1202.0,1462.7 L1203.6,1463.0 L1205.2,1462.8 L1206.8,1462.7 L1208.4,1462.9 L1210.0,1462.5 L1211.6,1462.9 L1213.2,1463.1 L1214.8,1463.0 L1216.4,1463.3 L1218.0,1463.3 L1219.6,1463.2 L1221.2,1463.2 L1222.8,1463.5 L1224.4,1463.2 L1226.0,1463.3 L1227.6,1463.5 L1229.2,1463.6 L1230.8,1463.8 L1232.4,1463.5 L1234.0,1463.3 L1235.6,1463.8 L1237.2,1463.9 L1238.8,1463.7 L1240.4,1464.0 L1242.0,1464.1 L1243.6,1463.8 L1245.2,1463.9 L1246.8,1463.8 L1248.4,1464.1 L1250.0,1464.2 L1251.6,1464.2 L1253.2,1464.0 L1254.8,1464.1 L1256.4,1464.0 L1258.0,1464.1 L1259.6,1464.1 L1261.2,1464.2 L1262.8,1464.4 L1264.4,1464.6 L1266.0,1464.6 L1267.6,1464.6 L1269.2,1464.5 L1270.8,1464.7 L1272.4,1464.8 L1274.0,1464.7 L1275.6,1464.8 L1277.2,1464.8 L1278.8,1464.8 L1280.4,1465.0 L1282.0,1464.8 L1283.6,1465.2 L1285.2,1464.8 L1286.8,1465.2 L1288.4,1465.0 L1290.0,1465.5 L1291.6,1465.4 L1293.2,1465.2 L1294.8,1465.3 L1296.4,1465.2 L1298.0,1465.4 L1299.6,1465.6 L1301.2,1465.9 L1302.8,1465.4 L1304.4,1465.8 L1306.0,1465.6 L1307.6,1465.8 L1309.2,1465.9 L1310.8,1465.9 L1312.4,1465.9 L1314.0,1465.9 L1315.6,1465.9 L1317.2,1466.0 L1318.8,1466.2 L1320.4,1465.8 L1322.0,1466.0 L1323.6,1466.0 L1325.2,1466.1 L1326.8,1466.1 L1328.4,1466.5 L1330.0,1466.7 L1331.6,1466.6 L1333.2,1466.2 L1334.8,1466.5 L1336.4,1466.3 L1338.0,1466.6 L1339.6,1466.8 L1341.2,1466.7 L1342.8,1466.8 L1344.4,1466.7 L1346.0,1466.5 L1347.6,1466.5 L1349.2,1466.8 L1350.8,1467.0 L1352.4,1467.1 L1354.0,1466.9 L1355.6,1467.0 L1357.2,1467.1 L1358.8,1467.3 L1360.4,1467.2 L1362.0,1467.0 L1363.6,1467.4 L1365.2,1467.4 L1366.8,1467.4 L1368.4,1467.2 L1370.0,1467.4 L1371.6,1467.2 L1373.2,1467.2 L1374.8,1467.5 L1376.4,1467.5 L1378.0,1467.7 L1379.6,1467.9 L1381.2,1467.7 L1382.8,1468.0 L1384.4,1467.7 L1386.0,1468.0 L1387.6,1467.7 L1389.2,1467.9 L1390.8,1467.9 L1392.4,1468.0 L1394.0,1468.1 L1395.6,1467.8 L1397.2,1468.2 L1398.8,1468.1 L1400.4,1468.2 L1402.0,1468.3 L1403.6,1468.2 L1405.2,1468.3 L1406.8,1468.2 L1408.4,1468.5 L1410.0,1468.4 L1411.6,1468.6 L1413.2,1468.3 L1414.8,1468.8 L1416.4,1468.5 L1418.0,1468.8 L1419.6,1468.6 L1421.2,1468.8 L1422.8,1468.8 L1424.4,1468.9 L1426.0,1468.9 L1427.6,1469.1 L1429.2,1469.0 L1430.8,1469.1 L1432.4,1469.3 L1434.0,1469.0 L1435.6,1469.3 L1437.2,1469.1 L1438.8,1468.9 L1440.4,1469.3 L1442.0,1469.2 L1443.6,1469.5 L1445.2,1469.3 L1446.8,1469.4 L1448.4,1469.4 L1450.0,1469.1 L1451.6,1469.6 L1453.2,1469.4 L1454.8,1469.8 L1456.4,1469.8 L1458.0,1469.6 L1459.6,1469.4 L1461.2,1469.7 L1462.8,1469.8 L1464.4,1469.9 L1466.0,1469.8 L1467.6,1469.7 L1469.2,1469.9 L1470.8,1469.8 L1472.4,1470.2 L1474.0,1469.9 L1475.6,1469.9 L1477.2,1470.1 L1478.8,1469.9 L1480.4,1470.1 L1482.0,1470.2 L1483.6,1470.1 L1485.2,1470.2 L1486.8,1470.5 L1488.4,1470.4 L1490.0,1470.1 L1491.6,1470.3 L1493.2,1470.5 L1494.8,1470.4 L1496.4,1470.5 L1498.0,1470.5 L1499.6,1470.6 L1501.2,1470.6 L1502.8,1470.6 L1504.4,1470.5 L1506.0,1470.8 L1507.6,1470.6 L1509.2,1471.0 L1510.8,1470.8 L1512.4,1470.8 L1514.0,1471.0 L1515.6,1470.9 L1517.2,1470.9 L1518.8,1471.0 L1520.4,1470.9 L1522.0,1470.9 L1523.6,1471.0 L1525.2,1471.3 L1526.8,1471.0 L1528.4,1471.1 L1530.0,1471.1 L1531.6,1471.3 L1533.2,1471.6 L1534.8,1471.1 L1536.4,1471.4 L1538.0,1471.4 L1539.6,1471.3 L1541.2,1471.5 L1542.8,1471.2 L1544.4,1471.6 L1546.0,1471.5 L1547.6,1471.4 L1549.2,1471.8 L1550.8,1471.7 L1552.4,1471.8 L1554.0,1471.4 L1555.6,1471.6 L1557.2,1471.6 L1558.8,1471.8 L1560.4,1472.0 L1562.0,1471.5 L1563.6,1471.8 L1565.2,1471.8 L1566.8,1472.0 L1568.4,1471.9 L1570.0,1471.7 L1571.6,1471.9 L1573.2,1471.8 L1574.8,1471.9 L1576.4,1472.0 L1578.0,1472.0 L1579.6,1472.1 L1581.2,1471.9 L1582.8,1472.5 L1584.4,1472.4 L1586.0,1472.3 L1587.6,1472.0 L1589.2,1471.9 L1590.8,1472.2 L1592.4,1472.3 L1594.0,1472.7 L1595.6,1472.6 L1597.2,1472.3 L1598.8,1472.6 L1600.4,1472.7 L1602.0,1472.5 L1603.6,1472.7 L1605.2,1472.6 L1606.8,1472.5 L1608.4,1472.4 L1610.0,1472.6 L1611.6,1472.8 L1613.2,1472.5 L1614.8,1472.5 L1616.4,1472.8 L1618.0,1472.4 L1619.6,1473.1 L1621.2,1472.8 L1622.8,1473.0 L1624.4,1473.2 L1626.0,1472.7 L1627.6,1472.8 L1629.2,1473.3 L1630.8,1473.0 L1632.4,1473.0 L1634.0,1473.1 L1635.6,1473.2 L1637.2,1473.3 L1638.8,1473.2 L1640.4,1473.1 L1642.0,1473.2 L1643.6,1473.3 L1645.2,1473.4 L1646.8,1473.3 L1648.4,1473.6 L1650.0,1473.2 L1651.6,1473.4 L1653.2,1473.6 L1654.8,1473.6 L1656.4,1473.5 L1658.0,1473.3 L1659.6,1473.4 L1661.2,1473.5 L1662.8,1473.6 L1664.4,1473.5 L1666.0,1473.4 L1667.6,1473.5 L1669.2,1473.7 L1670.8,1473.8 L1672.4,1473.5 L1674.0,1473.6 L1675.6,1473.5 L1677.2,1473.7 L1678.8,1474.3 L1680.4,1473.8 L1682.0,1473.8 L1683.6,1473.8 L1685.2,1473.7 L1686.8,1473.6 L1688.4,1473.9 L1690.0,1473.9 L1691.6,1474.2 L1693.2,1473.7 L1694.8,1474.1 L1696.4,1474.2 L1698.0,1473.8 L1699.6,1474.2 L1701.2,1473.9 L1702.8,1474.2 L1704.4,1474.4 L1706.0,1474.2 L1707.6,1474.2 L1709.2,1474.1 L1710.8,1474.3 L1712.4,1474.4 L1714.0,1474.2 L1715.6,1474.3 L1717.2,1474.4 L1718.8,1474.5 L1720.4,1474.1 L1722.0,1474.4 L1723.6,1474.3 L1725.2,1474.5 L1726.8,1474.6 L1728.4,1474.5 L1730.0,1474.7 L1731.6,1474.3 L1733.2,1474.5 L1734.8,1474.4 L1736.4,1474.6 L1738.0,1474.6 L1739.6,1474.6 L1741.2,1474.4 L1742.8,1474.6 L1744.4,1474.6 L1746.0,1474.8 L1747.6,1474.6 L1749.2,1474.9 L1750.8,1474.8 L1752.4,1474.4 L1754.0,1474.7 L1755.6,1474.5 L1757.2,1474.9 L1758.8,1475.0 L1760.4,1474.8 L1762.0,1474.9 L1763.6,1474.6 L1765.2,1474.5 L1766.8,1474.8 L1768.4,1474.9 L1770.0,1474.7 L1771.6,1474.9 L1773.2,1475.0 L1774.8,1475.0 L1776.4,1475.2 L1778.0,1475.1 L1779.6,1474.9 L1781.2,1475.0 L1782.8,1475.1 L1784.4,1474.9 L1786.0,1475.2 L1787.6,1475.2 L1789.2,1475.0 L1790.8,1475.0 L1792.4,1475.7 L1794.0,1475.2 L1795.6,1475.2 L1797.2,1475.4 L1798.8,1475.3 L1800.4,1475.2 L1802.0,1475.3 L1803.6,1475.0 L1805.2,1475.3 L1806.8,1474.9 L1808.4,1475.3 L1810.0,1475.3 L1811.6,1475.0 L1813.2,1475.5 L1814.8,1475.1 L1816.4,1475.4 L1818.0,1475.2 L1819.6,1475.3 L1821.2,1475.2 L1822.8,1475.7 L1824.4,1475.5 L1826.0,1475.6 L1827.6,1475.4 L1829.2,1475.4 L1830.8,1475.4 L1832.4,1475.3 L1834.0,1475.5 L1835.6,1475.4 L1837.2,1475.4 L1838.8,1475.2 L1840.4,1475.4 L1842.0,1475.5 L1843.6,1475.3 L1845.2,1475.5 L1846.8,1475.4 L1848.4,1475.3 L1850.0,1475.3 L1851.6,1475.4 L1853.2,1475.4 L1854.8,1475.4 L1856.4,1475.7 L1858.0,1475.3 L1859.6,1475.2 L1861.2,1475.6 L1862.8,1475.5 L1864.4,1475.5 L1866.0,1476.0 L1867.6,1475.8 L1869.2,1475.7 L1870.8,1475.7 L1872.4,1475.6 L1874.0,1475.8 L1875.6,1475.5 L1877.2,1475.5 L1878.8,1475.6 L1880.4,1475.9 L1882.0,1475.9 L1883.6,1475.6 L1885.2,1475.9 L1886.8,1475.7 L1888.4,1475.9 L1890.0,1475.7 L1891.6,1475.9 L1893.2,1475.7 L1894.8,1475.7 L1896.4,1475.7 L1898.0,1475.8 L1899.6,1475.7 L1901.2,1475.6 L1902.8,1476.0 L1904.4,1475.7 L1906.0,1475.5 L1907.6,1475.5 L1909.2,1475.4 L1910.8,1475.7 L1912.4,1476.0 L1914.0,1475.6 L1915.6,1475.8 L1917.2,1475.6 L1918.8,1476.0 L1920.4,1475.9 L1922.0,1475.9 L1923.6,1476.1 L1925.2,1476.2 L1926.8,1476.1 L1928.4,1475.8 L1930.0,1475.7 L1931.6,1475.8 L1933.2,1475.7 L1934.8,1476.2 L1936.4,1475.9 L1938.0,1476.0 L1939.6,1476.0 L1941.2,1476.3 L1942.8,1475.9 L1944.4,1476.2 L1946.0,1476.1 L1947.6,1476.0 L1949.2,1475.7 L1950.8,1476.2 L1952.4,1475.9 L1954.0,1476.0 L1955.6,1476.1 L1957.2,1476.1 L1958.8,1476.3 L1960.4,1476.0 L1962.0,1476.1 L1963.6,1476.1 L1965.2,1476.1 L1966.8,1476.2 L1968.4,1476.1 L1970.0,1476.3 L1971.6,1476.0 L1973.2,1475.9 L1974.8,1476.2 L1976.4,1476.3 L1978.0,1476.1 L1979.6,1476.1 L1981.2,1476.1 L1982.8,1476.2 L1984.4,1476.2 L1986.0,1476.3 L1987.6,1476.0 L1989.2,1476.5 L1990.8,1476.3 L1992.4,1476.1 L1994.0,1476.5 L1995.6,1476.3 L1997.2,1476.5 L1998.8,1476.1 L2000.4,1476.5 L2002.0,1476.3 L2003.6,1476.0 L2005.2,1476.4 L2006.8,1476.3 L2008.4,1476.2 L2010.0,1476.3 L2011.6,1476.0 L2013.2,1476.4 L2014.8,1476.3 L2016.4,1476.3 L2018.0,1476.6 L2019.6,1476.4 L2021.2,1476.3 L2022.8,1476.2 L2024.4,1476.4 L2026.0,1476.5 L2027.6,1476.3 L2029.2,1476.2 L2030.8,1476.5 L2032.4,1476.4 L2034.0,1476.4 L2035.6,1476.7 L2037.2,1476.2 L2038.8,1476.5 L2040.4,1476.2 L2042.0,1476.4 L2043.6,1476.5 L2045.2,1476.6 L2046.8,1476.3 L2048.4,1476.6 L2050.0,1476.6 L2051.6,1476.5 L2053.2,1476.9 L2054.8,1476.5 L2056.4,1476.4 L2058.0,1476.6 L2059.6,1476.2 L2061.2,1476.7 L2062.8,1476.7 L2064.4,1476.5 L2066.0,1476.6 L2067.6,1476.6 L2069.2,1476.8 L2070.8,1476.4 L2072.4,1476.3 L2074.0,1476.2 L2075.6,1476.5 L2077.2,1476.3 L2078.8,1476.5 L2080.4,1476.6 L2082.0,1476.5 L2083.6,1476.4 L2085.2,1476.8 L2086.8,1476.5 L2088.4,1476.6 L2090.0,1476.7 L2091.6,1476.4 L2093.2,1476.4 L2094.8,1477.0 L2096.4,1476.6 L2098.0,1476.4 L2099.6,1476.6 L2101.2,1476.5 L2102.8,1476.4 L2104.4,1476.6 L2106.0,1476.6 L2107.6,1476.6 L2109.2,1476.7 L2110.8,1476.4 L2112.4,1476.4 L2114.0,1476.8 L2115.6,1476.6 L2117.2,1476.8 L2118.8,1476.7 L2120.4,1476.4 L2122.0,1476.7 L2123.6,1476.5 L2125.2,1476.7 L2126.8,1476.8 L2128.4,1477.0 L2130.0,1476.7 L2131.6,1476.8 L2133.2,1476.7 L2134.8,1476.8 L2136.4,1476.3 L2138.0,1476.6 L2139.6,1476.7 L2141.2,1476.8 L2142.8,1476.6 L2144.4,1476.8 L2146.0,1476.9 L2147.6,1476.7 L2149.2,1476.7 L2150.8,1476.6 L2152.4,1476.7 L2154.0,1476.9 L2155.6,1476.9 L2157.2,1476.6 L2158.8,1476.6 L2160.4,1476.6 L2162.0,1476.8 L2163.6,1476.7 L2165.2,1476.7 L2166.8,1476.8 L2168.4,1476.8 L2170.0,1476.7 L2171.6,1476.5 L2173.2,1476.6 L2174.8,1476.7 L2176.4,1476.8 L2178.0,1476.6 L2179.6,1476.6 L2181.2,1476.9 L2182.8,1476.6 L2184.4,1476.7 L2186.0,1476.7" stroke="#34ab68"/><path d="M282.0,1459.8 L283.6,1461.3 L285.2,1461.2 L286.8,1460.3 L288.4,1458.0 L290.0,1459.1 L291.6,1460.3 L293.2,1463.3 L294.8,1463.7 L296.4,1462.2 L298.0,1460.5 L299.6,1457.2 L301.2,1452.1 L302.8,1444.4 L304.4,1439.1 L306.0,1428.2 L307.6,1419.1 L309.2,1411.9 L310.8,1401.1 L312.4,1392.8 L314.0,1381.0 L315.6,1376.8 L317.2,1365.6 L318.8,1355.1 L320.4,1345.2 L322.0,1333.5 L323.6,1320.2 L325.2,1312.8 L326.8,1296.2 L328.4,1285.9 L330.0,1274.5 L331.6,1257.2 L333.2,1245.2 L334.8,1229.8 L336.4,1218.8 L338.0,1201.7 L339.6,1185.2 L341.2,1173.7 L342.8,1156.9 L344.4,1137.3 L346.0,1123.9 L347.6,1104.8 L349.2,1090.9 L350.8,1069.8 L352.4,1045.5 L354.0,1025.0 L355.6,1002.8 L357.2,983.4 L358.8,962.6 L360.4,943.4 L362.0,921.5 L363.6,897.7 L365.2,877.8 L366.8,860.6 L368.4,839.6 L370.0,817.2 L371.6,797.8 L373.2,779.2 L374.8,762.1 L376.4,742.7 L378.0,730.9 L379.6,712.5 L381.2,698.6 L382.8,679.1 L384.4,669.4 L386.0,657.3 L387.6,637.7 L389.2,631.2 L390.8,617.0 L392.4,603.0 L394.0,589.7 L395.6,581.3 L397.2,567.3 L398.8,558.3 L400.4,552.2 L402.0,551.7 L403.6,556.7 L405.2,556.7 L406.8,563.5 L408.4,564.5 L410.0,573.9 L411.6,583.1 L413.2,599.2 L414.8,605.8 L416.4,618.6 L418.0,634.5 L419.6,647.9 L421.2,666.2 L422.8,680.8 L424.4,693.6 L426.0,708.0 L427.6,717.6 L429.2,733.1 L430.8,748.4 L432.4,763.7 L434.0,778.1 L435.6,796.7 L437.2,815.7 L438.8,838.4 L440.4,856.7 L442.0,874.2 L443.6,892.2 L445.2,911.0 L446.8,927.0 L448.4,944.8 L450.0,958.1 L451.6,976.3 L453.2,989.7 L454.8,999.5 L456.4,1008.2 L458.0,1015.6 L459.6,1025.2 L461.2,1028.3 L462.8,1031.6 L464.4,1037.9 L466.0,1047.0 L467.6,1053.9 L469.2,1059.6 L470.8,1065.8 L472.4,1070.7 L474.0,1073.6 L475.6,1080.3 L477.2,1083.4 L478.8,1090.3 L480.4,1092.4 L482.0,1098.0 L483.6,1100.2 L485.2,1099.4 L486.8,1106.2 L488.4,1108.1 L490.0,1106.2 L491.6,1110.5 L493.2,1113.1 L494.8,1113.0 L496.4,1116.6 L498.0,1117.2 L499.6,1120.6 L501.2,1121.1 L502.8,1122.5 L504.4,1125.6 L506.0,1128.1 L507.6,1129.2 L509.2,1130.0 L510.8,1131.4 L512.4,1134.0 L514.0,1135.4 L515.6,1138.5 L517.2,1140.1 L518.8,1141.2 L520.4,1142.9 L522.0,1144.6 L523.6,1148.5 L525.2,1149.3 L526.8,1147.5 L528.4,1150.6 L530.0,1150.6 L531.6,1152.3 L533.2,1153.4 L534.8,1154.0 L536.4,1154.1 L538.0,1153.5 L539.6,1159.4 L541.2,1162.5 L542.8,1160.2 L544.4,1164.1 L546.0,1163.9 L547.6,1166.4 L549.2,1165.9 L550.8,1168.2 L552.4,1169.8 L554.0,1167.2 L555.6,1173.1 L557.2,1173.9 L558.8,1171.2 L560.4,1177.5 L562.0,1178.2 L563.6,1179.9 L565.2,1181.5 L566.8,1182.2 L568.4,1183.0 L570.0,1185.1 L571.6,1186.7 L573.2,1190.7 L574.8,1191.9 L576.4,1191.2 L578.0,1192.8 L579.6,1195.1 L581.2,1196.9 L582.8,1197.3 L584.4,1198.6 L586.0,1203.1 L587.6,1203.9 L589.2,1203.0 L590.8,1204.5 L592.4,1207.1 L594.0,1209.8 L595.6,1211.8 L597.2,1212.7 L598.8,1213.3 L600.4,1216.8 L602.0,1219.1 L603.6,1220.3 L605.2,1221.7 L606.8,1224.6 L608.4,1225.9 L610.0,1226.7 L611.6,1229.8 L613.2,1230.3 L614.8,1234.3 L616.4,1235.6 L618.0,1235.9 L619.6,1238.8 L621.2,1241.5 L622.8,1239.8 L624.4,1243.2 L626.0,1246.4 L627.6,1244.7 L629.2,1247.5 L630.8,1247.8 L632.4,1250.6 L634.0,1250.1 L635.6,1252.6 L637.2,1255.7 L638.8,1258.6 L640.4,1261.6 L642.0,1264.6 L643.6,1268.6 L645.2,1271.6 L646.8,1275.2 L648.4,1277.1 L650.0,1281.4 L651.6,1288.0 L653.2,1290.3 L654.8,1291.8 L656.4,1294.3 L658.0,1297.0 L659.6,1298.0 L661.2,1302.5 L662.8,1302.4 L664.4,1304.8 L666.0,1309.1 L667.6,1306.9 L669.2,1311.3 L670.8,1311.2 L672.4,1314.3 L674.0,1316.8 L675.6,1318.6 L677.2,1321.3 L678.8,1322.5 L680.4,1325.4 L682.0,1326.6 L683.6,1329.7 L685.2,1331.0 L686.8,1335.3 L688.4,1335.7 L690.0,1339.9 L691.6,1341.0 L693.2,1343.3 L694.8,1347.1 L696.4,1348.3 L698.0,1348.5 L699.6,1353.1 L701.2,1353.1 L702.8,1357.0 L704.4,1358.6 L706.0,1359.8 L707.6,1362.4 L709.2,1363.7 L710.8,1366.5 L712.4,1366.4 L714.0,1369.2 L715.6,1370.2 L717.2,1370.2 L718.8,1371.3 L720.4,1373.8 L722.0,1374.0 L723.6,1375.3 L725.2,1376.1 L726.8,1376.6 L728.4,1378.1 L730.0,1378.7 L731.6,1379.3 L733.2,1380.9 L734.8,1383.1 L736.4,1383.8 L738.0,1383.7 L739.6,1384.7 L741.2,1385.7 L742.8,1387.0 L744.4,1387.2 L746.0,1387.5 L747.6,1388.2 L749.2,1389.8 L750.8,1391.3 L752.4,1390.0 L754.0,1389.7 L755.6,1391.8 L757.2,1391.8 L758.8,1392.3 L760.4,1393.4 L762.0,1393.1 L763.6,1392.6 L765.2,1392.6 L766.8,1394.1 L768.4,1393.8 L770.0,1394.9 L771.6,1394.3 L773.2,1395.2 L774.8,1394.8 L776.4,1395.7 L778.0,1396.0 L779.6,1396.9 L781.2,1397.6 L782.8,1397.0 L784.4,1396.8 L786.0,1398.8 L787.6,1398.1 L789.2,1398.5 L790.8,1398.8 L792.4,1399.6 L794.0,1399.6 L795.6,1399.7 L797.2,1400.1 L798.8,1399.4 L800.4,1400.1 L802.0,1400.6 L803.6,1401.0 L805.2,1401.3 L806.8,1401.7 L808.4,1402.0 L810.0,1402.2 L811.6,1402.2 L813.2,1403.3 L814.8,1403.6 L816.4,1403.6 L818.0,1404.3 L819.6,1404.7 L821.2,1405.0 L822.8,1404.8 L824.4,1405.3 L826.0,1405.9 L827.6,1406.9 L829.2,1406.6 L830.8,1407.1 L832.4,1407.3 L834.0,1407.8 L835.6,1408.5 L837.2,1408.1 L838.8,1408.3 L840.4,1409.7 L842.0,1409.9 L843.6,1410.1 L845.2,1410.9 L846.8,1411.3 L848.4,1410.8 L850.0,1411.7 L851.6,1412.5 L853.2,1412.4 L854.8,1412.8 L856.4,1413.6 L858.0,1413.6 L859.6,1413.7 L861.2,1414.2 L862.8,1414.4 L864.4,1415.4 L866.0,1415.1 L867.6,1416.3 L869.2,1415.9 L870.8,1416.8 L872.4,1416.7 L874.0,1417.4 L875.6,1418.2 L877.2,1418.7 L878.8,1419.1 L880.4,1419.1 L882.0,1419.5 L883.6,1420.0 L885.2,1420.5 L886.8,1420.6 L888.4,1421.4 L890.0,1421.5 L891.6,1422.2 L893.2,1422.3 L894.8,1422.8 L896.4,1422.7 L898.0,1423.2 L899.6,1423.3 L901.2,1423.9 L902.8,1424.3 L904.4,1425.0 L906.0,1424.7 L907.6,1426.4 L909.2,1425.7 L910.8,1426.4 L912.4,1426.7 L914.0,1425.9 L915.6,1426.9 L917.2,1427.8 L918.8,1426.9 L920.4,1428.2 L922.0,1428.0 L923.6,1428.4 L925.2,1428.9 L926.8,1428.6 L928.4,1429.5 L930.0,1429.6 L931.6,1429.9 L933.2,1430.6 L934.8,1431.7 L936.4,1431.1 L938.0,1431.4 L939.6,1431.6 L941.2,1431.6 L942.8,1432.2 L944.4,1432.9 L946.0,1432.7 L947.6,1433.2 L949.2,1433.1 L950.8,1434.2 L952.4,1433.2 L954.0,1434.1 L955.6,1434.3 L957.2,1434.5 L958.8,1434.3 L960.4,1434.5 L962.0,1435.0 L963.6,1435.3 L965.2,1435.0 L966.8,1435.3 L968.4,1435.9 L970.0,1436.2 L971.6,1435.9 L973.2,1436.0 L974.8,1436.1 L976.4,1437.2 L978.0,1436.7 L979.6,1436.6 L981.2,1437.1 L982.8,1437.5 L984.4,1437.3 L986.0,1436.6 L987.6,1437.1 L989.2,1437.1 L990.8,1437.3 L992.4,1437.1 L994.0,1437.5 L995.6,1437.4 L997.2,1438.0 L998.8,1438.1 L1000.4,1437.8 L1002.0,1437.9 L1003.6,1438.6 L1005.2,1439.2 L1006.8,1439.5 L1008.4,1439.7 L1010.0,1439.1 L1011.6,1440.3 L1013.2,1440.7 L1014.8,1441.2 L1016.4,1441.3 L1018.0,1441.9 L1019.6,1442.2 L1021.2,1443.5 L1022.8,1443.2 L1024.4,1443.1 L1026.0,1443.4 L1027.6,1443.6 L1029.2,1443.8 L1030.8,1443.8 L1032.4,1444.1 L1034.0,1444.6 L1035.6,1444.7 L1037.2,1444.7 L1038.8,1445.2 L1040.4,1445.0 L1042.0,1444.8 L1043.6,1444.7 L1045.2,1445.2 L1046.8,1445.5 L1048.4,1445.8 L1050.0,1446.1 L1051.6,1445.8 L1053.2,1445.8 L1054.8,1446.4 L1056.4,1446.7 L1058.0,1446.3 L1059.6,1446.7 L1061.2,1447.1 L1062.8,1446.9 L1064.4,1446.9 L1066.0,1446.4 L1067.6,1447.5 L1069.2,1447.4 L1070.8,1447.4 L1072.4,1447.3 L1074.0,1447.2 L1075.6,1447.7 L1077.2,1447.8 L1078.8,1448.3 L1080.4,1447.7 L1082.0,1448.6 L1083.6,1448.3 L1085.2,1448.8 L1086.8,1448.2 L1088.4,1448.8 L1090.0,1449.2 L1091.6,1449.0 L1093.2,1448.6 L1094.8,1449.1 L1096.4,1449.5 L1098.0,1449.0 L1099.6,1449.1 L1101.2,1449.8 L1102.8,1449.7 L1104.4,1450.1 L1106.0,1449.9 L1107.6,1450.0 L1109.2,1450.3 L1110.8,1450.8 L1112.4,1450.5 L1114.0,1450.8 L1115.6,1451.0 L1117.2,1450.9 L1118.8,1451.4 L1120.4,1451.4 L1122.0,1451.6 L1123.6,1451.4 L1125.2,1451.5 L1126.8,1451.5 L1128.4,1452.0 L1130.0,1452.1 L1131.6,1452.4 L1133.2,1452.7 L1134.8,1452.5 L1136.4,1452.7 L1138.0,1452.9 L1139.6,1453.2 L1141.2,1453.0 L1142.8,1453.4 L1144.4,1453.4 L1146.0,1453.5 L1147.6,1453.8 L1149.2,1453.7 L1150.8,1453.8 L1152.4,1454.2 L1154.0,1454.2 L1155.6,1454.3 L1157.2,1454.4 L1158.8,1454.7 L1160.4,1454.7 L1162.0,1455.0 L1163.6,1455.0 L1165.2,1455.3 L1166.8,1455.4 L1168.4,1455.5 L1170.0,1455.5 L1171.6,1455.6 L1173.2,1455.6 L1174.8,1456.3 L1176.4,1455.9 L1178.0,1456.2 L1179.6,1456.4 L1181.2,1456.1 L1182.8,1456.3 L1184.4,1456.5 L1186.0,1456.5 L1187.6,1456.6 L1189.2,1456.8 L1190.8,1457.2 L1192.4,1457.2 L1194.0,1457.2 L1195.6,1457.3 L1197.2,1457.2 L1198.8,1457.6 L1200.4,1457.7 L1202.0,1457.6 L1203.6,1457.9 L1205.2,1457.9 L1206.8,1458.0 L1208.4,1458.0 L1210.0,1458.1 L1211.6,1458.2 L1213.2,1458.5 L1214.8,1458.5 L1216.4,1458.6 L1218.0,1458.6 L1219.6,1458.7 L1221.2,1459.1 L1222.8,1458.6 L1224.4,1459.1 L1226.0,1459.1 L1227.6,1459.1 L1229.2,1459.1 L1230.8,1459.2 L1232.4,1459.2 L1234.0,1459.2 L1235.6,1459.5 L1237.2,1459.3 L1238.8,1459.7 L1240.4,1459.9 L1242.0,1459.2 L1243.6,1459.6 L1245.2,1459.9 L1246.8,1460.0 L1248.4,1460.1 L1250.0,1460.2 L1251.6,1460.3 L1253.2,1460.4 L1254.8,1460.6 L1256.4,1460.4 L1258.0,1460.6 L1259.6,1460.3 L1261.2,1460.6 L1262.8,1460.5 L1264.4,1460.9 L1266.0,1461.1 L1267.6,1460.9 L1269.2,1460.7 L1270.8,1461.0 L1272.4,1461.1 L1274.0,1461.1 L1275.6,1461.3 L1277.2,1461.4 L1278.8,1460.9 L1280.4,1461.6 L1282.0,1461.4 L1283.6,1461.4 L1285.2,1461.8 L1286.8,1461.6 L1288.4,1461.5 L1290.0,1461.5 L1291.6,1461.8 L1293.2,1462.0 L1294.8,1462.1 L1296.4,1461.9 L1298.0,1462.0 L1299.6,1462.3 L1301.2,1462.1 L1302.8,1462.4 L1304.4,1462.3 L1306.0,1462.4 L1307.6,1462.3 L1309.2,1462.5 L1310.8,1462.4 L1312.4,1462.4 L1314.0,1462.6 L1315.6,1462.6 L1317.2,1462.8 L1318.8,1462.8 L1320.4,1462.8 L1322.0,1462.9 L1323.6,1462.9 L1325.2,1463.2 L1326.8,1463.0 L1328.4,1463.0 L1330.0,1463.1 L1331.6,1463.3 L1333.2,1463.2 L1334.8,1463.3 L1336.4,1463.3 L1338.0,1463.4 L1339.6,1463.5 L1341.2,1463.6 L1342.8,1463.3 L1344.4,1463.4 L1346.0,1463.3 L1347.6,1463.8 L1349.2,1463.9 L1350.8,1464.0 L1352.4,1463.9 L1354.0,1464.1 L1355.6,1463.9 L1357.2,1464.0 L1358.8,1463.8 L1360.4,1464.0 L1362.0,1464.0 L1363.6,1464.3 L1365.2,1464.5 L1366.8,1464.2 L1368.4,1464.4 L1370.0,1464.4 L1371.6,1464.3 L1373.2,1464.2 L1374.8,1464.4 L1376.4,1464.3 L1378.0,1464.5 L1379.6,1464.6 L1381.2,1464.6 L1382.8,1464.7 L1384.4,1464.8 L1386.0,1464.6 L1387.6,1465.0 L1389.2,1464.6 L1390.8,1464.9 L1392.4,1465.0 L1394.0,1464.9 L1395.6,1464.8 L1397.2,1465.2 L1398.8,1465.0 L1400.4,1465.3 L1402.0,1465.3 L1403.6,1465.2 L1405.2,1465.2 L1406.8,1465.4 L1408.4,1465.4 L1410.0,1465.2 L1411.6,1465.4 L1413.2,1465.5 L1414.8,1465.5 L1416.4,1465.5 L1418.0,1465.5 L1419.6,1465.6 L1421.2,1465.5 L1422.8,1465.4 L1424.4,1465.8 L1426.0,1465.6 L1427.6,1465.8 L1429.2,1465.5 L1430.8,1465.8 L1432.4,1465.7 L1434.0,1466.3 L1435.6,1465.7 L1437.2,1465.8 L1438.8,1466.1 L1440.4,1466.2 L1442.0,1465.7 L1443.6,1466.1 L1445.2,1466.2 L1446.8,1465.9 L1448.4,1466.2 L1450.0,1466.1 L1451.6,1466.1 L1453.2,1466.2 L1454.8,1466.2 L1456.4,1466.1 L1458.0,1466.6 L1459.6,1466.3 L1461.2,1466.3 L1462.8,1466.5 L1464.4,1466.4 L1466.0,1466.7 L1467.6,1466.4 L1469.2,1466.6 L1470.8,1466.6 L1472.4,1466.6 L1474.0,1466.6 L1475.6,1466.6 L1477.2,1466.9 L1478.8,1466.6 L1480.4,1466.6 L1482.0,1466.7 L1483.6,1466.8 L1485.2,1466.8 L1486.8,1466.9 L1488.4,1466.6 L1490.0,1466.9 L1491.6,1466.9 L1493.2,1466.9 L1494.8,1467.0 L1496.4,1466.7 L1498.0,1467.0 L1499.6,1467.0 L1501.2,1466.8 L1502.8,1467.0 L1504.4,1467.3 L1506.0,1467.1 L1507.6,1467.2 L1509.2,1467.1 L1510.8,1467.1 L1512.4,1467.1 L1514.0,1467.2 L1515.6,1467.5 L1517.2,1467.4 L1518.8,1467.2 L1520.4,1467.5 L1522.0,1467.3 L1523.6,1467.3 L1525.2,1467.5 L1526.8,1467.3 L1528.4,1467.2 L1530.0,1467.7 L1531.6,1467.2 L1533.2,1467.6 L1534.8,1467.3 L1536.4,1467.6 L1538.0,1467.6 L1539.6,1467.5 L1541.2,1467.3 L1542.8,1467.6 L1544.4,1467.7 L1546.0,1467.6 L1547.6,1467.7 L1549.2,1467.9 L1550.8,1467.7 L1552.4,1467.8 L1554.0,1467.6 L1555.6,1467.9 L1557.2,1468.0 L1558.8,1468.2 L1560.4,1468.0 L1562.0,1468.0 L1563.6,1468.2 L1565.2,1467.8 L1566.8,1468.1 L1568.4,1467.9 L1570.0,1467.9 L1571.6,1468.2 L1573.2,1468.1 L1574.8,1468.3 L1576.4,1467.9 L1578.0,1468.2 L1579.6,1468.1 L1581.2,1468.1 L1582.8,1467.9 L1584.4,1468.3 L1586.0,1468.3 L1587.6,1468.1 L1589.2,1468.1 L1590.8,1468.2 L1592.4,1468.5 L1594.0,1468.3 L1595.6,1468.3 L1597.2,1468.4 L1598.8,1468.4 L1600.4,1468.4 L1602.0,1468.5 L1603.6,1468.5 L1605.2,1468.6 L1606.8,1468.3 L1608.4,1468.5 L1610.0,1468.5 L1611.6,1468.6 L1613.2,1468.6 L1614.8,1468.5 L1616.4,1468.5 L1618.0,1468.8 L1619.6,1468.6 L1621.2,1468.5 L1622.8,1468.8 L1624.4,1468.8 L1626.0,1468.7 L1627.6,1468.7 L1629.2,1468.6 L1630.8,1468.7 L1632.4,1468.9 L1634.0,1468.9 L1635.6,1468.8 L1637.2,1468.8 L1638.8,1468.6 L1640.4,1468.9 L1642.0,1469.0 L1643.6,1469.1 L1645.2,1469.2 L1646.8,1469.0 L1648.4,1469.1 L1650.0,1468.8 L1651.6,1469.2 L1653.2,1469.1 L1654.8,1469.2 L1656.4,1469.1 L1658.0,1469.1 L1659.6,1469.3 L1661.2,1469.0 L1662.8,1469.2 L1664.4,1469.3 L1666.0,1469.0 L1667.6,1469.0 L1669.2,1469.2 L1670.8,1469.2 L1672.4,1469.3 L1674.0,1469.3 L1675.6,1469.1 L1677.2,1469.3 L1678.8,1469.4 L1680.4,1469.2 L1682.0,1469.3 L1683.6,1469.2 L1685.2,1469.5 L1686.8,1469.7 L1688.4,1469.2 L1690.0,1469.5 L1691.6,1469.5 L1693.2,1469.3 L1694.8,1469.4 L1696.4,1469.3 L1698.0,1469.4 L1699.6,1469.5 L1701.2,1469.6 L1702.8,1469.5 L1704.4,1469.7 L1706.0,1469.6 L1707.6,1469.4 L1709.2,1469.8 L1710.8,1469.8 L1712.4,1469.5 L1714.0,1469.9 L1715.6,1469.7 L1717.2,1469.7 L1718.8,1470.0 L1720.4,1469.3 L1722.0,1469.5 L1723.6,1469.8 L1725.2,1469.7 L1726.8,1469.6 L1728.4,1470.0 L1730.0,1469.9 L1731.6,1469.6 L1733.2,1469.7 L1734.8,1470.0 L1736.4,1470.1 L1738.0,1469.6 L1739.6,1469.9 L1741.2,1469.8 L1742.8,1469.7 L1744.4,1469.9 L1746.0,1469.7 L1747.6,1469.9 L1749.2,1470.2 L1750.8,1470.1 L1752.4,1470.1 L1754.0,1470.1 L1755.6,1470.1 L1757.2,1470.2 L1758.8,1469.9 L1760.4,1470.0 L1762.0,1470.2 L1763.6,1470.0 L1765.2,1470.1 L1766.8,1470.3 L1768.4,1470.4 L1770.0,1470.1 L1771.6,1470.1 L1773.2,1470.3 L1774.8,1470.3 L1776.4,1470.1 L1778.0,1470.3 L1779.6,1470.3 L1781.2,1470.3 L1782.8,1470.7 L1784.4,1470.5 L1786.0,1470.4 L1787.6,1470.5 L1789.2,1470.8 L1790.8,1470.5 L1792.4,1470.3 L1794.0,1470.4 L1795.6,1470.4 L1797.2,1470.3 L1798.8,1470.5 L1800.4,1470.5 L1802.0,1470.5 L1803.6,1470.4 L1805.2,1470.6 L1806.8,1470.3 L1808.4,1470.7 L1810.0,1470.5 L1811.6,1470.6 L1813.2,1470.2 L1814.8,1470.8 L1816.4,1470.4 L1818.0,1470.5 L1819.6,1470.7 L1821.2,1470.6 L1822.8,1470.6 L1824.4,1470.3 L1826.0,1470.6 L1827.6,1470.7 L1829.2,1470.8 L1830.8,1470.7 L1832.4,1470.8 L1834.0,1470.8 L1835.6,1470.7 L1837.2,1470.7 L1838.8,1471.1 L1840.4,1470.7 L1842.0,1471.0 L1843.6,1470.9 L1845.2,1471.1 L1846.8,1470.8 L1848.4,1471.0 L1850.0,1471.0 L1851.6,1470.9 L1853.2,1471.0 L1854.8,1470.8 L1856.4,1471.0 L1858.0,1470.9 L1859.6,1471.1 L1861.2,1471.0 L1862.8,1470.8 L1864.4,1471.0 L1866.0,1471.0 L1867.6,1470.9 L1869.2,1471.3 L1870.8,1471.2 L1872.4,1471.2 L1874.0,1471.0 L1875.6,1471.1 L1877.2,1471.3 L1878.8,1471.0 L1880.4,1471.2 L1882.0,1471.2 L1883.6,1471.1 L1885.2,1471.2 L1886.8,1471.1 L1888.4,1471.3 L1890.0,1471.1 L1891.6,1471.1 L1893.2,1471.5 L1894.8,1471.2 L1896.4,1471.0 L1898.0,1471.5 L1899.6,1471.2 L1901.2,1470.8 L1902.8,1471.4 L1904.4,1471.5 L1906.0,1471.4 L1907.6,1471.7 L1909.2,1471.4 L1910.8,1471.5 L1912.4,1471.3 L1914.0,1471.5 L1915.6,1471.7 L1917.2,1471.6 L1918.8,1471.5 L1920.4,1471.2 L1922.0,1471.5 L1923.6,1471.4 L1925.2,1471.7 L1926.8,1471.5 L1928.4,1471.6 L1930.0,1471.4 L1931.6,1471.9 L1933.2,1471.4 L1934.8,1471.7 L1936.4,1472.0 L1938.0,1471.7 L1939.6,1471.5 L1941.2,1471.8 L1942.8,1471.8 L1944.4,1471.8 L1946.0,1471.4 L1947.6,1471.8 L1949.2,1471.4 L1950.8,1472.0 L1952.4,1471.8 L1954.0,1471.7 L1955.6,1471.9 L1957.2,1471.9 L1958.8,1471.7 L1960.4,1472.1 L1962.0,1471.8 L1963.6,1471.6 L1965.2,1472.1 L1966.8,1472.1 L1968.4,1472.1 L1970.0,1472.0 L1971.6,1471.8 L1973.2,1472.1 L1974.8,1472.2 L1976.4,1472.1 L1978.0,1472.2 L1979.6,1471.9 L1981.2,1472.2 L1982.8,1472.2 L1984.4,1471.8 L1986.0,1471.8 L1987.6,1471.9 L1989.2,1472.1 L1990.8,1472.1 L1992.4,1472.1 L1994.0,1472.1 L1995.6,1472.1 L1997.2,1472.1 L1998.8,1472.2 L2000.4,1472.2 L2002.0,1472.2 L2003.6,1472.2 L2005.2,1472.1 L2006.8,1472.3 L2008.4,1472.1 L2010.0,1472.5 L2011.6,1472.2 L2013.2,1472.3 L2014.8,1472.1 L2016.4,1472.2 L2018.0,1472.3 L2019.6,1472.3 L2021.2,1472.2 L2022.8,1472.1 L2024.4,1472.3 L2026.0,1472.4 L2027.6,1472.4 L2029.2,1472.5 L2030.8,1472.3 L2032.4,1472.1 L2034.0,1472.4 L2035.6,1472.1 L2037.2,1472.2 L2038.8,1472.6 L2040.4,1472.5 L2042.0,1472.4 L2043.6,1472.4 L2045.2,1472.5 L2046.8,1472.2 L2048.4,1472.6 L2050.0,1472.5 L2051.6,1472.8 L2053.2,1472.4 L2054.8,1472.7 L2056.4,1472.4 L2058.0,1472.7 L2059.6,1472.4 L2061.2,1472.7 L2062.8,1472.5 L2064.4,1472.5 L2066.0,1472.6 L2067.6,1472.7 L2069.2,1472.7 L2070.8,1472.9 L2072.4,1472.8 L2074.0,1472.3 L2075.6,1472.6 L2077.2,1472.4 L2078.8,1472.6 L2080.4,1472.8 L2082.0,1472.5 L2083.6,1472.6 L2085.2,1472.8 L2086.8,1472.7 L2088.4,1473.0 L2090.0,1472.8 L2091.6,1472.9 L2093.2,1473.1 L2094.8,1472.7 L2096.4,1472.8 L2098.0,1472.7 L2099.6,1472.9 L2101.2,1473.0 L2102.8,1473.1 L2104.4,1472.9 L2106.0,1472.8 L2107.6,1472.8 L2109.2,1472.7 L2110.8,1472.9 L2112.4,1473.1 L2114.0,1472.6 L2115.6,1472.6 L2117.2,1473.1 L2118.8,1472.7 L2120.4,1473.0 L2122.0,1472.8 L2123.6,1473.1 L2125.2,1473.1 L2126.8,1473.0 L2128.4,1473.1 L2130.0,1473.0 L2131.6,1473.1 L2133.2,1473.3 L2134.8,1473.2 L2136.4,1473.0 L2138.0,1472.9 L2139.6,1473.0 L2141.2,1473.0 L2142.8,1473.1 L2144.4,1473.0 L2146.0,1473.2 L2147.6,1473.1 L2149.2,1473.2 L2150.8,1473.1 L2152.4,1473.2 L2154.0,1473.0 L2155.6,1473.4 L2157.2,1473.2 L2158.8,1473.2 L2160.4,1473.3 L2162.0,1473.4 L2163.6,1473.3 L2165.2,1473.2 L2166.8,1473.2 L2168.4,1473.0 L2170.0,1473.3 L2171.6,1473.2 L2173.2,1473.2 L2174.8,1473.6 L2176.4,1473.0 L2178.0,1473.3 L2179.6,1473.5 L2181.2,1473.4 L2182.8,1473.5 L2184.4,1473.1 L2186.0,1473.2" stroke="#ae75e0"/><path d="M281.0,1447.2 L282.6,1450.8 L284.2,1447.8 L285.8,1449.4 L287.4,1443.8 L289.0,1442.9 L290.6,1445.5 L292.2,1442.6 L293.8,1446.7 L295.4,1445.6 L297.0,1445.9 L298.6,1444.8 L300.2,1440.5 L301.8,1438.4 L303.4,1429.7 L305.0,1418.7 L306.6,1414.5 L308.2,1401.7 L309.8,1395.3 L311.4,1384.1 L313.0,1376.0 L314.6,1369.2 L316.2,1353.7 L317.8,1340.4 L319.4,1327.0 L321.0,1314.0 L322.6,1304.5 L324.2,1288.5 L325.8,1278.7 L327.4,1272.9 L329.0,1260.0 L330.6,1252.1 L332.2,1243.1 L333.8,1228.6 L335.4,1214.4 L337.0,1199.9 L338.6,1184.7 L340.2,1169.8 L341.8,1155.1 L343.4,1140.6 L345.0,1123.2 L346.6,1103.3 L348.2,1085.1 L349.8,1068.3 L351.4,1043.5 L353.0,1024.9 L354.6,1003.8 L356.2,981.2 L357.8,960.7 L359.4,942.7 L361.0,918.4 L362.6,898.9 L364.2,878.4 L365.8,858.9 L367.4,835.8 L369.0,820.1 L370.6,798.1 L372.2,779.4 L373.8,761.4 L375.4,743.7 L377.0,726.1 L378.6,713.1 L380.2,694.9 L381.8,678.3 L383.4,664.8 L385.0,646.9 L386.6,635.2 L388.2,620.8 L389.8,606.9 L391.4,598.5 L393.0,584.6 L394.6,579.4 L396.2,568.1 L397.8,561.7 L399.4,553.4 L401.0,540.4 L402.6,527.8 L404.2,521.7 L405.8,519.7 L407.4,522.1 L409.0,529.6 L410.6,541.1 L412.2,552.0 L413.8,557.3 L415.4,569.0 L417.0,579.1 L418.6,588.0 L420.2,596.2 L421.8,610.7 L423.4,618.3 L425.0,634.6 L426.6,650.5 L428.2,659.1 L429.8,678.6 L431.4,694.3 L433.0,710.7 L434.6,726.2 L436.2,744.7 L437.8,760.1 L439.4,779.4 L441.0,795.4 L442.6,807.6 L444.2,820.9 L445.8,834.9 L447.4,848.7 L449.0,861.8 L450.6,874.7 L452.2,888.8 L453.8,901.0 L455.4,913.2 L457.0,933.2 L458.6,947.3 L460.2,953.0 L461.8,962.4 L463.4,970.5 L465.0,977.2 L466.6,982.0 L468.2,988.4 L469.8,991.4 L471.4,997.4 L473.0,1002.3 L474.6,1005.4 L476.2,1012.2 L477.8,1014.5 L479.4,1017.7 L481.0,1017.7 L482.6,1022.3 L484.2,1020.6 L485.8,1025.0 L487.4,1021.4 L489.0,1025.8 L490.6,1030.4 L492.2,1029.8 L493.8,1032.3 L495.4,1030.5 L497.0,1037.6 L498.6,1037.4 L500.2,1037.8 L501.8,1040.1 L503.4,1041.4 L505.0,1044.7 L506.6,1044.0 L508.2,1042.3 L509.8,1045.8 L511.4,1049.8 L513.0,1049.9 L514.6,1049.5 L516.2,1052.6 L517.8,1053.1 L519.4,1055.3 L521.0,1052.9 L522.6,1055.5 L524.2,1059.7 L525.8,1059.7 L527.4,1062.3 L529.0,1066.6 L530.6,1064.2 L532.2,1066.8 L533.8,1067.0 L535.4,1068.6 L537.0,1071.2 L538.6,1070.5 L540.2,1071.0 L541.8,1078.9 L543.4,1078.1 L545.0,1082.0 L546.6,1082.0 L548.2,1083.9 L549.8,1086.7 L551.4,1088.7 L553.0,1087.2 L554.6,1093.5 L556.2,1091.8 L557.8,1096.1 L559.4,1102.4 L561.0,1100.3 L562.6,1104.0 L564.2,1104.1 L565.8,1107.2 L567.4,1108.6 L569.0,1110.8 L570.6,1111.4 L572.2,1113.2 L573.8,1116.2 L575.4,1116.1 L577.0,1118.5 L578.6,1121.6 L580.2,1122.0 L581.8,1123.4 L583.4,1124.8 L585.0,1127.7 L586.6,1128.8 L588.2,1130.9 L589.8,1132.2 L591.4,1135.8 L593.0,1135.1 L594.6,1135.3 L596.2,1138.9 L597.8,1140.5 L599.4,1142.3 L601.0,1142.3 L602.6,1146.7 L604.2,1147.3 L605.8,1149.0 L607.4,1149.2 L609.0,1153.0 L610.6,1154.2 L612.2,1157.3 L613.8,1157.3 L615.4,1158.3 L617.0,1161.4 L618.6,1162.2 L620.2,1165.3 L621.8,1165.7 L623.4,1168.5 L625.0,1170.4 L626.6,1172.5 L628.2,1174.1 L629.8,1175.8 L631.4,1178.6 L633.0,1180.2 L634.6,1183.1 L636.2,1184.8 L637.8,1185.1 L639.4,1189.4 L641.0,1193.1 L642.6,1194.4 L644.2,1197.0 L645.8,1199.3 L647.4,1200.9 L649.0,1202.5 L650.6,1207.2 L652.2,1210.1 L653.8,1212.4 L655.4,1215.0 L657.0,1218.0 L658.6,1220.8 L660.2,1224.5 L661.8,1227.7 L663.4,1231.5 L665.0,1233.9 L666.6,1237.7 L668.2,1242.4 L669.8,1244.9 L671.4,1246.2 L673.0,1251.8 L674.6,1252.5 L676.2,1259.6 L677.8,1261.5 L679.4,1264.4 L681.0,1266.1 L682.6,1268.5 L684.2,1272.3 L685.8,1275.4 L687.4,1277.5 L689.0,1281.3 L690.6,1284.6 L692.2,1287.5 L693.8,1288.9 L695.4,1290.8 L697.0,1295.8 L698.6,1298.2 L700.2,1302.0 L701.8,1305.5 L703.4,1308.2 L705.0,1310.0 L706.6,1312.9 L708.2,1315.4 L709.8,1316.5 L711.4,1318.6 L713.0,1320.9 L714.6,1322.2 L716.2,1323.7 L717.8,1325.3 L719.4,1327.5 L721.0,1328.7 L722.6,1331.1 L724.2,1331.9 L725.8,1334.3 L727.4,1335.4 L729.0,1335.2 L730.6,1337.7 L732.2,1337.9 L733.8,1339.9 L735.4,1340.3 L737.0,1340.8 L738.6,1342.1 L740.2,1342.2 L741.8,1343.4 L743.4,1344.2 L745.0,1344.6 L746.6,1345.6 L748.2,1345.4 L749.8,1347.0 L751.4,1346.6 L753.0,1348.3 L754.6,1348.8 L756.2,1349.6 L757.8,1349.4 L759.4,1352.1 L761.0,1350.8 L762.6,1351.5 L764.2,1351.6 L765.8,1353.4 L767.4,1352.8 L769.0,1354.2 L770.6,1353.6 L772.2,1354.8 L773.8,1354.9 L775.4,1356.1 L777.0,1355.9 L778.6,1356.0 L780.2,1357.2 L781.8,1356.8 L783.4,1357.4 L785.0,1358.8 L786.6,1357.7 L788.2,1359.6 L789.8,1359.4 L791.4,1359.5 L793.0,1360.6 L794.6,1361.2 L796.2,1360.8 L797.8,1361.5 L799.4,1362.4 L801.0,1362.5 L802.6,1362.7 L804.2,1362.8 L805.8,1363.2 L807.4,1363.6 L809.0,1364.4 L810.6,1364.7 L812.2,1365.0 L813.8,1365.7 L815.4,1365.7 L817.0,1366.1 L818.6,1366.5 L820.2,1367.6 L821.8,1366.9 L823.4,1368.0 L825.0,1368.6 L826.6,1368.9 L828.2,1370.1 L829.8,1370.2 L831.4,1370.6 L833.0,1370.7 L834.6,1371.6 L836.2,1371.9 L837.8,1372.5 L839.4,1373.1 L841.0,1373.4 L842.6,1374.3 L844.2,1375.1 L845.8,1375.5 L847.4,1375.8 L849.0,1375.7 L850.6,1377.1 L852.2,1377.6 L853.8,1377.8 L855.4,1378.3 L857.0,1379.1 L858.6,1379.2 L860.2,1380.2 L861.8,1380.1 L863.4,1380.7 L865.0,1381.4 L866.6,1381.5 L868.2,1382.4 L869.8,1383.0 L871.4,1383.0 L873.0,1384.1 L874.6,1384.1 L876.2,1384.9 L877.8,1385.3 L879.4,1385.6 L881.0,1386.0 L882.6,1386.1 L884.2,1386.9 L885.8,1387.3 L887.4,1388.5 L889.0,1388.7 L890.6,1388.5 L892.2,1389.6 L893.8,1389.8 L895.4,1390.1 L897.0,1390.8 L898.6,1391.3 L900.2,1391.4 L901.8,1391.9 L903.4,1392.4 L905.0,1392.5 L906.6,1393.3 L908.2,1393.6 L909.8,1393.9 L911.4,1394.3 L913.0,1395.0 L914.6,1395.6 L916.2,1395.8 L917.8,1395.9 L919.4,1396.7 L921.0,1397.0 L922.6,1397.5 L924.2,1398.1 L925.8,1397.9 L927.4,1398.5 L929.0,1398.8 L930.6,1399.1 L932.2,1400.3 L933.8,1400.4 L935.4,1400.0 L937.0,1401.0 L938.6,1401.1 L940.2,1402.0 L941.8,1402.1 L943.4,1402.4 L945.0,1402.8 L946.6,1403.3 L948.2,1403.6 L949.8,1403.8 L951.4,1404.2 L953.0,1404.8 L954.6,1404.7 L956.2,1405.3 L957.8,1405.6 L959.4,1405.9 L961.0,1406.6 L962.6,1406.3 L964.2,1406.9 L965.8,1407.1 L967.4,1407.8 L969.0,1407.8 L970.6,1408.3 L972.2,1408.7 L973.8,1408.4 L975.4,1409.2 L977.0,1409.2 L978.6,1409.5 L980.2,1409.8 L981.8,1410.4 L983.4,1410.6 L985.0,1411.1 L986.6,1410.9 L988.2,1411.0 L989.8,1411.2 L991.4,1411.8 L993.0,1412.4 L994.6,1412.3 L996.2,1412.3 L997.8,1412.8 L999.4,1413.2 L1001.0,1413.4 L1002.6,1413.5 L1004.2,1413.4 L1005.8,1414.4 L1007.4,1415.2 L1009.0,1415.4 L1010.6,1415.1 L1012.2,1416.2 L1013.8,1416.1 L1015.4,1417.6 L1017.0,1417.5 L1018.6,1417.5 L1020.2,1418.4 L1021.8,1418.3 L1023.4,1419.1 L1025.0,1419.2 L1026.6,1419.2 L1028.2,1420.0 L1029.8,1419.8 L1031.4,1420.8 L1033.0,1420.7 L1034.6,1420.7 L1036.2,1420.8 L1037.8,1422.0 L1039.4,1422.2 L1041.0,1421.7 L1042.6,1422.8 L1044.2,1422.7 L1045.8,1422.8 L1047.4,1423.1 L1049.0,1423.3 L1050.6,1424.0 L1052.2,1423.9 L1053.8,1423.6 L1055.4,1424.9 L1057.0,1424.8 L1058.6,1424.5 L1060.2,1425.0 L1061.8,1425.1 L1063.4,1425.6 L1065.0,1425.9 L1066.6,1426.1 L1068.2,1426.1 L1069.8,1426.2 L1071.4,1426.9 L1073.0,1426.9 L1074.6,1427.8 L1076.2,1427.1 L1077.8,1427.8 L1079.4,1427.8 L1081.0,1427.8 L1082.6,1428.6 L1084.2,1428.5 L1085.8,1428.5 L1087.4,1428.8 L1089.0,1429.4 L1090.6,1429.0 L1092.2,1430.0 L1093.8,1430.0 L1095.4,1430.0 L1097.0,1430.7 L1098.6,1431.0 L1100.2,1430.9 L1101.8,1431.0 L1103.4,1431.5 L1105.0,1431.7 L1106.6,1431.6 L1108.2,1431.9 L1109.8,1432.2 L1111.4,1432.4 L1113.0,1432.4 L1114.6,1433.0 L1116.2,1433.1 L1117.8,1433.4 L1119.4,1433.8 L1121.0,1433.8 L1122.6,1434.1 L1124.2,1434.4 L1125.8,1434.5 L1127.4,1434.8 L1129.0,1435.1 L1130.6,1435.3 L1132.2,1435.7 L1133.8,1435.6 L1135.4,1436.0 L1137.0,1436.0 L1138.6,1436.4 L1140.2,1436.6 L1141.8,1437.1 L1143.4,1437.2 L1145.0,1437.4 L1146.6,1437.8 L1148.2,1438.0 L1149.8,1438.1 L1151.4,1438.2 L1153.0,1438.3 L1154.6,1438.7 L1156.2,1438.9 L1157.8,1439.1 L1159.4,1439.3 L1161.0,1439.4 L1162.6,1440.0 L1164.2,1439.9 L1165.8,1440.2 L1167.4,1440.5 L1169.0,1440.4 L1170.6,1441.0 L1172.2,1441.2 L1173.8,1441.3 L1175.4,1441.4 L1177.0,1441.6 L1178.6,1441.7 L1180.2,1442.3 L1181.8,1442.3 L1183.4,1442.4 L1185.0,1442.6 L1186.6,1443.0 L1188.2,1443.3 L1189.8,1443.1 L1191.4,1443.4 L1193.0,1443.4 L1194.6,1443.9 L1196.2,1444.0 L1197.8,1444.5 L1199.4,1444.3 L1201.0,1444.5 L1202.6,1444.6 L1204.2,1445.0 L1205.8,1444.8 L1207.4,1445.3 L1209.0,1445.4 L1210.6,1445.4 L1212.2,1445.5 L1213.8,1445.9 L1215.4,1446.2 L1217.0,1446.0 L1218.6,1446.3 L1220.2,1446.6 L1221.8,1446.4 L1223.4,1446.6 L1225.0,1446.6 L1226.6,1446.9 L1228.2,1447.0 L1229.8,1447.1 L1231.4,1447.2 L1233.0,1447.2 L1234.6,1447.3 L1236.2,1447.5 L1237.8,1447.8 L1239.4,1447.8 L1241.0,1447.9 L1242.6,1448.2 L1244.2,1448.3 L1245.8,1448.2 L1247.4,1448.3 L1249.0,1448.6 L1250.6,1448.7 L1252.2,1448.6 L1253.8,1448.9 L1255.4,1449.0 L1257.0,1449.2 L1258.6,1449.1 L1260.2,1449.4 L1261.8,1449.4 L1263.4,1449.3 L1265.0,1449.7 L1266.6,1449.8 L1268.2,1449.6 L1269.8,1450.2 L1271.4,1449.8 L1273.0,1449.9 L1274.6,1450.1 L1276.2,1450.4 L1277.8,1450.4 L1279.4,1450.4 L1281.0,1450.7 L1282.6,1450.7 L1284.2,1450.9 L1285.8,1451.2 L1287.4,1450.9 L1289.0,1450.6 L1290.6,1451.0 L1292.2,1451.0 L1293.8,1451.3 L1295.4,1451.3 L1297.0,1451.2 L1298.6,1451.3 L1300.2,1451.5 L1301.8,1451.6 L1303.4,1451.4 L1305.0,1452.0 L1306.6,1451.9 L1308.2,1452.0 L1309.8,1452.1 L1311.4,1452.0 L1313.0,1452.2 L1314.6,1452.5 L1316.2,1452.6 L1317.8,1452.5 L1319.4,1452.5 L1321.0,1452.5 L1322.6,1452.9 L1324.2,1452.9 L1325.8,1452.8 L1327.4,1452.6 L1329.0,1452.9 L1330.6,1452.8 L1332.2,1453.4 L1333.8,1453.3 L1335.4,1453.2 L1337.0,1453.4 L1338.6,1453.9 L1340.2,1453.8 L1341.8,1453.5 L1343.4,1453.7 L1345.0,1453.6 L1346.6,1453.6 L1348.2,1454.0 L1349.8,1454.4 L1351.4,1454.4 L1353.0,1454.2 L1354.6,1454.2 L1356.2,1454.4 L1357.8,1454.6 L1359.4,1454.3 L1361.0,1454.3 L1362.6,1454.9 L1364.2,1454.8 L1365.8,1455.1 L1367.4,1454.9 L1369.0,1455.2 L1370.6,1455.0 L1372.2,1455.2 L1373.8,1455.4 L1375.4,1455.4 L1377.0,1455.3 L1378.6,1455.6 L1380.2,1455.4 L1381.8,1455.4 L1383.4,1455.7 L1385.0,1455.9 L1386.6,1455.9 L1388.2,1455.7 L1389.8,1456.1 L1391.4,1456.1 L1393.0,1456.0 L1394.6,1455.8 L1396.2,1456.4 L1397.8,1456.5 L1399.4,1456.5 L1401.0,1456.2 L1402.6,1456.3 L1404.2,1456.8 L1405.8,1456.8 L1407.4,1456.8 L1409.0,1456.8 L1410.6,1457.0 L1412.2,1456.9 L1413.8,1457.0 L1415.4,1457.0 L1417.0,1457.2 L1418.6,1457.2 L1420.2,1457.5 L1421.8,1457.5 L1423.4,1457.4 L1425.0,1457.8 L1426.6,1457.5 L1428.2,1457.8 L1429.8,1457.9 L1431.4,1458.0 L1433.0,1457.6 L1434.6,1458.1 L1436.2,1458.2 L1437.8,1458.3 L1439.4,1457.8 L1441.0,1458.1 L1442.6,1458.3 L1444.2,1458.3 L1445.8,1458.6 L1447.4,1458.4 L1449.0,1458.8 L1450.6,1458.7 L1452.2,1458.5 L1453.8,1458.6 L1455.4,1458.8 L1457.0,1458.9 L1458.6,1459.1 L1460.2,1459.0 L1461.8,1459.2 L1463.4,1458.9 L1465.0,1458.8 L1466.6,1459.2 L1468.2,1459.4 L1469.8,1459.3 L1471.4,1459.3 L1473.0,1459.6 L1474.6,1459.9 L1476.2,1459.6 L1477.8,1459.6 L1479.4,1459.6 L1481.0,1460.1 L1482.6,1459.9 L1484.2,1460.0 L1485.8,1460.2 L1487.4,1460.2 L1489.0,1460.0 L1490.6,1460.3 L1492.2,1460.4 L1493.8,1460.4 L1495.4,1460.5 L1497.0,1460.3 L1498.6,1460.4 L1500.2,1460.4 L1501.8,1460.7 L1503.4,1460.5 L1505.0,1460.7 L1506.6,1460.6 L1508.2,1460.8 L1509.8,1460.8 L1511.4,1460.9 L1513.0,1461.0 L1514.6,1461.0 L1516.2,1461.0 L1517.8,1460.8 L1519.4,1461.3 L1521.0,1461.1 L1522.6,1461.2 L1524.2,1461.2 L1525.8,1461.5 L1527.4,1461.3 L1529.0,1461.5 L1530.6,1461.7 L1532.2,1461.8 L1533.8,1461.8 L1535.4,1461.7 L1537.0,1461.5 L1538.6,1461.9 L1540.2,1461.9 L1541.8,1461.9 L1543.4,1462.0 L1545.0,1461.9 L1546.6,1461.9 L1548.2,1462.1 L1549.8,1462.2 L1551.4,1461.9 L1553.0,1462.2 L1554.6,1462.2 L1556.2,1462.3 L1557.8,1462.3 L1559.4,1462.4 L1561.0,1462.4 L1562.6,1462.5 L1564.2,1462.2 L1565.8,1462.5 L1567.4,1462.4 L1569.0,1462.3 L1570.6,1462.6 L1572.2,1462.3 L1573.8,1462.7 L1575.4,1462.9 L1577.0,1462.6 L1578.6,1462.8 L1580.2,1462.8 L1581.8,1462.9 L1583.4,1462.6 L1585.0,1462.9 L1586.6,1462.9 L1588.2,1463.0 L1589.8,1462.9 L1591.4,1463.1 L1593.0,1463.1 L1594.6,1463.1 L1596.2,1463.3 L1597.8,1463.1 L1599.4,1463.3 L1601.0,1463.2 L1602.6,1463.3 L1604.2,1463.2 L1605.8,1463.4 L1607.4,1463.5 L1609.0,1463.3 L1610.6,1463.5 L1612.2,1463.5 L1613.8,1463.3 L1615.4,1463.5 L1617.0,1463.7 L1618.6,1463.5 L1620.2,1463.3 L1621.8,1463.6 L1623.4,1463.5 L1625.0,1463.9 L1626.6,1463.7 L1628.2,1463.7 L1629.8,1463.7 L1631.4,1463.8 L1633.0,1463.7 L1634.6,1463.7 L1636.2,1463.9 L1637.8,1463.8 L1639.4,1464.1 L1641.0,1463.8 L1642.6,1464.0 L1644.2,1463.9 L1645.8,1463.8 L1647.4,1464.3 L1649.0,1463.8 L1650.6,1464.4 L1652.2,1464.0 L1653.8,1464.2 L1655.4,1464.6 L1657.0,1463.9 L1658.6,1464.1 L1660.2,1464.5 L1661.8,1464.4 L1663.4,1464.3 L1665.0,1464.4 L1666.6,1464.3 L1668.2,1464.5 L1669.8,1464.7 L1671.4,1464.4 L1673.0,1464.5 L1674.6,1464.7 L1676.2,1464.9 L1677.8,1464.5 L1679.4,1464.7 L1681.0,1464.6 L1682.6,1464.6 L1684.2,1464.6 L1685.8,1464.6 L1687.4,1464.5 L1689.0,1464.5 L1690.6,1464.7 L1692.2,1464.9 L1693.8,1465.0 L1695.4,1464.8 L1697.0,1464.9 L1698.6,1465.0 L1700.2,1465.1 L1701.8,1465.0 L1703.4,1465.0 L1705.0,1465.3 L1706.6,1465.0 L1708.2,1465.0 L1709.8,1464.9 L1711.4,1465.2 L1713.0,1465.1 L1714.6,1465.5 L1716.2,1465.1 L1717.8,1465.3 L1719.4,1465.4 L1721.0,1465.5 L1722.6,1465.1 L1724.2,1465.5 L1725.8,1465.3 L1727.4,1465.3 L1729.0,1465.3 L1730.6,1465.4 L1732.2,1465.4 L1733.8,1465.1 L1735.4,1465.6 L1737.0,1465.5 L1738.6,1465.4 L1740.2,1465.5 L1741.8,1465.9 L1743.4,1465.7 L1745.0,1465.6 L1746.6,1465.9 L1748.2,1465.5 L1749.8,1465.7 L1751.4,1465.6 L1753.0,1465.7 L1754.6,1465.9 L1756.2,1465.9 L1757.8,1465.7 L1759.4,1465.8 L1761.0,1465.9 L1762.6,1465.8 L1764.2,1465.9 L1765.8,1465.8 L1767.4,1465.8 L1769.0,1466.0 L1770.6,1465.8 L1772.2,1466.1 L1773.8,1466.0 L1775.4,1465.9 L1777.0,1466.0 L1778.6,1466.0 L1780.2,1466.1 L1781.8,1466.1 L1783.4,1466.1 L1785.0,1466.0 L1786.6,1466.4 L1788.2,1466.3 L1789.8,1466.3 L1791.4,1466.4 L1793.0,1466.3 L1794.6,1466.3 L1796.2,1466.3 L1797.8,1466.7 L1799.4,1466.5 L1801.0,1466.5 L1802.6,1466.3 L1804.2,1466.5 L1805.8,1466.8 L1807.4,1466.5 L1809.0,1466.6 L1810.6,1466.7 L1812.2,1466.6 L1813.8,1466.8 L1815.4,1466.6 L1817.0,1466.7 L1818.6,1466.5 L1820.2,1467.0 L1821.8,1466.7 L1823.4,1466.7 L1825.0,1466.9 L1826.6,1466.7 L1828.2,1466.7 L1829.8,1466.7 L1831.4,1466.8 L1833.0,1466.8 L1834.6,1466.9 L1836.2,1466.8 L1837.8,1466.8 L1839.4,1466.9 L1841.0,1466.9 L1842.6,1466.9 L1844.2,1467.1 L1845.8,1467.1 L1847.4,1467.0 L1849.0,1466.8 L1850.6,1467.1 L1852.2,1466.9 L1853.8,1467.1 L1855.4,1467.1 L1857.0,1467.0 L1858.6,1467.0 L1860.2,1467.1 L1861.8,1467.5 L1863.4,1467.2 L1865.0,1467.2 L1866.6,1467.4 L1868.2,1467.3 L1869.8,1467.4 L1871.4,1467.1 L1873.0,1467.2 L1874.6,1467.8 L1876.2,1467.4 L1877.8,1467.3 L1879.4,1467.4 L1881.0,1467.6 L1882.6,1467.3 L1884.2,1467.5 L1885.8,1467.5 L1887.4,1467.6 L1889.0,1467.6 L1890.6,1467.5 L1892.2,1467.4 L1893.8,1467.2 L1895.4,1467.8 L1897.0,1467.4 L1898.6,1467.6 L1900.2,1467.9 L1901.8,1467.6 L1903.4,1467.8 L1905.0,1467.7 L1906.6,1467.9 L1908.2,1467.8 L1909.8,1467.7 L1911.4,1468.0 L1913.0,1467.8 L1914.6,1467.7 L1916.2,1467.8 L1917.8,1468.0 L1919.4,1467.7 L1921.0,1468.0 L1922.6,1468.1 L1924.2,1468.3 L1925.8,1467.9 L1927.4,1468.1 L1929.0,1467.8 L1930.6,1468.0 L1932.2,1468.1 L1933.8,1468.1 L1935.4,1468.1 L1937.0,1468.1 L1938.6,1468.1 L1940.2,1468.1 L1941.8,1468.2 L1943.4,1468.3 L1945.0,1468.3 L1946.6,1468.4 L1948.2,1468.4 L1949.8,1468.0 L1951.4,1468.2 L1953.0,1468.3 L1954.6,1468.2 L1956.2,1468.5 L1957.8,1468.5 L1959.4,1468.4 L1961.0,1468.4 L1962.6,1468.6 L1964.2,1468.4 L1965.8,1468.4 L1967.4,1468.6 L1969.0,1468.6 L1970.6,1468.7 L1972.2,1468.6 L1973.8,1468.7 L1975.4,1468.5 L1977.0,1468.5 L1978.6,1468.6 L1980.2,1468.2 L1981.8,1468.7 L1983.4,1468.8 L1985.0,1468.7 L1986.6,1468.7 L1988.2,1468.9 L1989.8,1468.7 L1991.4,1468.9 L1993.0,1469.1 L1994.6,1468.9 L1996.2,1468.9 L1997.8,1468.9 L1999.4,1468.9 L2001.0,1468.9 L2002.6,1468.9 L2004.2,1469.0 L2005.8,1468.7 L2007.4,1468.9 L2009.0,1469.0 L2010.6,1468.8 L2012.2,1469.0 L2013.8,1468.9 L2015.4,1469.1 L2017.0,1469.1 L2018.6,1469.2 L2020.2,1469.1 L2021.8,1469.0 L2023.4,1469.1 L2025.0,1469.2 L2026.6,1469.3 L2028.2,1468.8 L2029.8,1469.2 L2031.4,1468.9 L2033.0,1469.3 L2034.6,1469.3 L2036.2,1469.3 L2037.8,1469.4 L2039.4,1469.3 L2041.0,1469.2 L2042.6,1469.3 L2044.2,1469.5 L2045.8,1469.3 L2047.4,1469.3 L2049.0,1469.2 L2050.6,1469.5 L2052.2,1469.3 L2053.8,1469.3 L2055.4,1469.4 L2057.0,1469.3 L2058.6,1469.4 L2060.2,1469.6 L2061.8,1469.6 L2063.4,1469.7 L2065.0,1469.7 L2066.6,1469.4 L2068.2,1469.6 L2069.8,1469.8 L2071.4,1469.9 L2073.0,1469.4 L2074.6,1469.4 L2076.2,1469.7 L2077.8,1469.6 L2079.4,1469.5 L2081.0,1469.7 L2082.6,1469.6 L2084.2,1469.4 L2085.8,1469.7 L2087.4,1469.7 L2089.0,1469.8 L2090.6,1469.9 L2092.2,1469.8 L2093.8,1469.7 L2095.4,1469.7 L2097.0,1469.6 L2098.6,1469.8 L2100.2,1470.0 L2101.8,1469.9 L2103.4,1470.2 L2105.0,1469.9 L2106.6,1469.6 L2108.2,1470.0 L2109.8,1470.1 L2111.4,1469.8 L2113.0,1469.7 L2114.6,1470.0 L2116.2,1470.1 L2117.8,1469.8 L2119.4,1470.0 L2121.0,1469.9 L2122.6,1469.9 L2124.2,1469.9 L2125.8,1470.1 L2127.4,1470.0 L2129.0,1470.0 L2130.6,1469.7 L2132.2,1470.4 L2133.8,1470.0 L2135.4,1470.1 L2137.0,1470.0 L2138.6,1470.2 L2140.2,1470.0 L2141.8,1470.2 L2143.4,1470.2 L2145.0,1470.3 L2146.6,1470.1 L2148.2,1470.1 L2149.8,1470.2 L2151.4,1470.6 L2153.0,1470.1 L2154.6,1470.3 L2156.2,1470.2 L2157.8,1470.3 L2159.4,1470.4 L2161.0,1470.3 L2162.6,1470.4 L2164.2,1470.4 L2165.8,1470.3 L2167.4,1470.3 L2169.0,1470.1 L2170.6,1470.3 L2172.2,1470.3 L2173.8,1470.4 L2175.4,1470.5 L2177.0,1470.5 L2178.6,1470.5 L2180.2,1470.6 L2181.8,1470.1 L2183.4,1470.5 L2185.0,1470.5 L2186.0,1470.5" stroke="#cd9600"/><path d="M281.0,1440.9 L282.6,1432.9 L284.2,1428.9 L285.8,1430.2 L287.4,1428.9 L289.0,1429.3 L290.6,1430.2 L292.2,1435.9 L293.8,1437.7 L295.4,1436.1 L297.0,1433.2 L298.6,1430.1 L300.2,1424.1 L301.8,1416.1 L303.4,1407.0 L305.0,1390.4 L306.6,1385.0 L308.2,1376.8 L309.8,1368.7 L311.4,1355.7 L313.0,1349.9 L314.6,1335.6 L316.2,1321.4 L317.8,1310.3 L319.4,1297.7 L321.0,1286.5 L322.6,1280.0 L324.2,1271.6 L325.8,1264.3 L327.4,1260.2 L329.0,1254.8 L330.6,1244.8 L332.2,1238.8 L333.8,1222.6 L335.4,1214.1 L337.0,1197.7 L338.6,1178.5 L340.2,1163.8 L341.8,1148.4 L343.4,1128.4 L345.0,1108.9 L346.6,1093.7 L348.2,1078.2 L349.8,1052.0 L351.4,1034.8 L353.0,1012.6 L354.6,991.0 L356.2,969.6 L357.8,949.4 L359.4,931.3 L361.0,909.7 L362.6,886.0 L364.2,869.9 L365.8,844.2 L367.4,827.4 L369.0,806.8 L370.6,789.5 L372.2,769.6 L373.8,753.5 L375.4,735.9 L377.0,723.4 L378.6,708.7 L380.2,698.8 L381.8,680.4 L383.4,669.9 L385.0,653.5 L386.6,636.3 L388.2,616.2 L389.8,596.2 L391.4,556.5 L393.0,521.6 L394.6,513.6 L396.2,503.6 L397.8,504.1 L399.4,497.3 L401.0,495.6 L402.6,493.7 L404.2,493.9 L405.8,494.0 L407.4,497.3 L409.0,502.8 L410.6,511.0 L412.2,517.8 L413.8,527.5 L415.4,539.2 L417.0,552.9 L418.6,563.6 L420.2,578.0 L421.8,586.9 L423.4,592.5 L425.0,602.8 L426.6,613.1 L428.2,622.8 L429.8,640.4 L431.4,657.7 L433.0,673.5 L434.6,694.1 L436.2,710.3 L437.8,727.2 L439.4,739.4 L441.0,754.7 L442.6,768.6 L444.2,786.7 L445.8,805.9 L447.4,826.4 L449.0,841.8 L450.6,850.3 L452.2,853.4 L453.8,854.7 L455.4,856.4 L457.0,862.5 L458.6,861.9 L460.2,874.8 L461.8,885.1 L463.4,895.4 L465.0,898.5 L466.6,907.5 L468.2,914.7 L469.8,918.3 L471.4,921.0 L473.0,928.5 L474.6,930.7 L476.2,936.9 L477.8,936.7 L479.4,943.7 L481.0,942.7 L482.6,942.9 L484.2,945.1 L485.8,945.7 L487.4,950.0 L489.0,953.6 L490.6,952.2 L492.2,956.0 L493.8,954.2 L495.4,958.1 L497.0,963.2 L498.6,958.1 L500.2,964.3 L501.8,965.5 L503.4,961.4 L505.0,963.4 L506.6,965.4 L508.2,969.9 L509.8,968.4 L511.4,969.7 L513.0,972.0 L514.6,971.6 L516.2,972.5 L517.8,972.2 L519.4,975.5 L521.0,972.8 L522.6,978.1 L524.2,975.5 L525.8,975.8 L527.4,979.8 L529.0,981.1 L530.6,978.5 L532.2,984.5 L533.8,983.7 L535.4,986.8 L537.0,991.9 L538.6,991.1 L540.2,995.4 L541.8,996.1 L543.4,1002.2 L545.0,1000.5 L546.6,1000.5 L548.2,1002.5 L549.8,1004.8 L551.4,1008.6 L553.0,1010.3 L554.6,1014.0 L556.2,1014.4 L557.8,1016.3 L559.4,1018.6 L561.0,1019.7 L562.6,1022.0 L564.2,1024.5 L565.8,1026.4 L567.4,1027.0 L569.0,1027.7 L570.6,1030.5 L572.2,1033.4 L573.8,1032.5 L575.4,1036.4 L577.0,1039.1 L578.6,1039.9 L580.2,1041.2 L581.8,1045.9 L583.4,1047.4 L585.0,1047.6 L586.6,1051.1 L588.2,1053.1 L589.8,1052.6 L591.4,1058.5 L593.0,1057.0 L594.6,1059.8 L596.2,1061.3 L597.8,1064.8 L599.4,1065.8 L601.0,1069.5 L602.6,1073.1 L604.2,1074.8 L605.8,1077.0 L607.4,1081.4 L609.0,1081.6 L610.6,1086.2 L612.2,1087.6 L613.8,1090.8 L615.4,1093.3 L617.0,1096.1 L618.6,1098.5 L620.2,1100.4 L621.8,1103.3 L623.4,1106.9 L625.0,1109.0 L626.6,1110.6 L628.2,1113.7 L629.8,1116.4 L631.4,1119.7 L633.0,1122.6 L634.6,1125.2 L636.2,1127.2 L637.8,1130.5 L639.4,1131.8 L641.0,1133.0 L642.6,1138.5 L644.2,1139.6 L645.8,1143.0 L647.4,1145.4 L649.0,1149.8 L650.6,1150.6 L652.2,1154.7 L653.8,1156.5 L655.4,1158.4 L657.0,1160.6 L658.6,1165.3 L660.2,1167.8 L661.8,1170.8 L663.4,1174.6 L665.0,1175.7 L666.6,1178.4 L668.2,1180.8 L669.8,1183.8 L671.4,1186.2 L673.0,1188.5 L674.6,1194.4 L676.2,1193.5 L677.8,1198.7 L679.4,1201.9 L681.0,1204.8 L682.6,1206.8 L684.2,1210.7 L685.8,1213.7 L687.4,1216.3 L689.0,1220.5 L690.6,1223.4 L692.2,1226.7 L693.8,1231.5 L695.4,1233.4 L697.0,1238.5 L698.6,1241.0 L700.2,1245.1 L701.8,1248.0 L703.4,1250.8 L705.0,1252.6 L706.6,1255.1 L708.2,1257.4 L709.8,1260.3 L711.4,1262.7 L713.0,1265.0 L714.6,1266.0 L716.2,1268.3 L717.8,1269.1 L719.4,1270.5 L721.0,1273.0 L722.6,1274.8 L724.2,1275.9 L725.8,1277.4 L727.4,1280.4 L729.0,1281.1 L730.6,1282.1 L732.2,1286.0 L733.8,1286.1 L735.4,1287.2 L737.0,1289.1 L738.6,1289.6 L740.2,1292.2 L741.8,1291.5 L743.4,1292.8 L745.0,1294.6 L746.6,1295.3 L748.2,1297.6 L749.8,1296.7 L751.4,1298.1 L753.0,1299.4 L754.6,1300.4 L756.2,1301.3 L757.8,1301.5 L759.4,1303.2 L761.0,1302.2 L762.6,1303.2 L764.2,1304.1 L765.8,1304.0 L767.4,1304.5 L769.0,1304.9 L770.6,1305.3 L772.2,1305.5 L773.8,1306.3 L775.4,1306.2 L777.0,1307.8 L778.6,1307.0 L780.2,1309.7 L781.8,1309.9 L783.4,1310.0 L785.0,1309.7 L786.6,1309.9 L788.2,1311.4 L789.8,1311.3 L791.4,1312.0 L793.0,1311.7 L794.6,1313.3 L796.2,1312.7 L797.8,1313.7 L799.4,1313.2 L801.0,1314.6 L802.6,1315.5 L804.2,1315.9 L805.8,1316.5 L807.4,1317.6 L809.0,1318.0 L810.6,1319.1 L812.2,1318.7 L813.8,1320.2 L815.4,1320.9 L817.0,1320.9 L818.6,1321.6 L820.2,1322.8 L821.8,1322.8 L823.4,1323.4 L825.0,1324.3 L826.6,1324.5 L828.2,1325.3 L829.8,1325.3 L831.4,1326.2 L833.0,1326.8 L834.6,1327.1 L836.2,1326.8 L837.8,1328.1 L839.4,1328.3 L841.0,1328.5 L842.6,1329.6 L844.2,1329.1 L845.8,1330.6 L847.4,1330.3 L849.0,1331.5 L850.6,1331.5 L852.2,1331.6 L853.8,1332.5 L855.4,1333.1 L857.0,1333.7 L858.6,1334.4 L860.2,1334.4 L861.8,1335.4 L863.4,1336.0 L865.0,1336.3 L866.6,1336.7 L868.2,1337.4 L869.8,1338.5 L871.4,1339.2 L873.0,1339.3 L874.6,1339.8 L876.2,1341.3 L877.8,1341.1 L879.4,1342.3 L881.0,1342.6 L882.6,1343.0 L884.2,1344.3 L885.8,1344.9 L887.4,1346.0 L889.0,1346.9 L890.6,1346.9 L892.2,1347.9 L893.8,1348.6 L895.4,1348.8 L897.0,1349.3 L898.6,1350.7 L900.2,1350.7 L901.8,1351.4 L903.4,1352.0 L905.0,1352.6 L906.6,1353.1 L908.2,1354.1 L909.8,1354.9 L911.4,1355.0 L913.0,1355.3 L914.6,1356.3 L916.2,1356.5 L917.8,1357.3 L919.4,1358.5 L921.0,1359.4 L922.6,1359.4 L924.2,1359.6 L925.8,1360.8 L927.4,1360.4 L929.0,1361.5 L930.6,1362.7 L932.2,1363.1 L933.8,1363.0 L935.4,1363.5 L937.0,1364.8 L938.6,1365.1 L940.2,1365.5 L941.8,1366.3 L943.4,1366.6 L945.0,1366.7 L946.6,1368.0 L948.2,1368.1 L949.8,1368.5 L951.4,1368.9 L953.0,1369.8 L954.6,1370.0 L956.2,1370.8 L957.8,1371.0 L959.4,1371.8 L961.0,1371.8 L962.6,1372.1 L964.2,1372.1 L965.8,1372.7 L967.4,1373.6 L969.0,1374.7 L970.6,1373.8 L972.2,1374.2 L973.8,1375.0 L975.4,1375.4 L977.0,1375.4 L978.6,1376.0 L980.2,1375.9 L981.8,1376.7 L983.4,1377.5 L985.0,1378.1 L986.6,1378.0 L988.2,1378.4 L989.8,1379.1 L991.4,1379.8 L993.0,1380.1 L994.6,1380.3 L996.2,1381.2 L997.8,1381.9 L999.4,1382.0 L1001.0,1382.5 L1002.6,1384.0 L1004.2,1384.9 L1005.8,1385.9 L1007.4,1386.2 L1009.0,1386.5 L1010.6,1387.1 L1012.2,1387.4 L1013.8,1388.0 L1015.4,1388.5 L1017.0,1389.0 L1018.6,1389.9 L1020.2,1389.7 L1021.8,1390.4 L1023.4,1390.7 L1025.0,1391.7 L1026.6,1391.7 L1028.2,1391.9 L1029.8,1392.6 L1031.4,1392.7 L1033.0,1392.9 L1034.6,1393.8 L1036.2,1393.9 L1037.8,1394.5 L1039.4,1394.6 L1041.0,1394.8 L1042.6,1394.9 L1044.2,1394.9 L1045.8,1395.7 L1047.4,1395.8 L1049.0,1396.3 L1050.6,1396.4 L1052.2,1396.5 L1053.8,1396.7 L1055.4,1397.5 L1057.0,1398.0 L1058.6,1397.9 L1060.2,1398.4 L1061.8,1399.0 L1063.4,1398.7 L1065.0,1399.2 L1066.6,1399.3 L1068.2,1400.3 L1069.8,1400.3 L1071.4,1400.4 L1073.0,1400.4 L1074.6,1401.2 L1076.2,1401.8 L1077.8,1401.7 L1079.4,1402.0 L1081.0,1402.6 L1082.6,1402.4 L1084.2,1403.1 L1085.8,1403.6 L1087.4,1403.4 L1089.0,1403.7 L1090.6,1404.4 L1092.2,1404.6 L1093.8,1404.9 L1095.4,1405.3 L1097.0,1405.7 L1098.6,1405.6 L1100.2,1406.1 L1101.8,1406.6 L1103.4,1407.1 L1105.0,1407.4 L1106.6,1407.5 L1108.2,1408.1 L1109.8,1408.4 L1111.4,1408.6 L1113.0,1409.0 L1114.6,1409.4 L1116.2,1409.9 L1117.8,1409.8 L1119.4,1410.4 L1121.0,1410.6 L1122.6,1411.0 L1124.2,1411.5 L1125.8,1411.8 L1127.4,1411.9 L1129.0,1412.4 L1130.6,1412.8 L1132.2,1412.9 L1133.8,1413.6 L1135.4,1413.8 L1137.0,1414.2 L1138.6,1414.6 L1140.2,1415.2 L1141.8,1415.2 L1143.4,1415.5 L1145.0,1416.2 L1146.6,1416.2 L1148.2,1416.5 L1149.8,1416.8 L1151.4,1417.5 L1153.0,1417.7 L1154.6,1418.1 L1156.2,1418.4 L1157.8,1418.7 L1159.4,1418.9 L1161.0,1419.2 L1162.6,1419.8 L1164.2,1420.0 L1165.8,1420.6 L1167.4,1420.6 L1169.0,1420.9 L1170.6,1421.2 L1172.2,1421.9 L1173.8,1421.8 L1175.4,1422.4 L1177.0,1422.8 L1178.6,1422.9 L1180.2,1423.3 L1181.8,1423.2 L1183.4,1423.8 L1185.0,1423.9 L1186.6,1424.4 L1188.2,1424.7 L1189.8,1424.9 L1191.4,1425.4 L1193.0,1425.6 L1194.6,1425.7 L1196.2,1426.0 L1197.8,1426.1 L1199.4,1426.6 L1201.0,1427.2 L1202.6,1427.0 L1204.2,1427.4 L1205.8,1427.5 L1207.4,1428.0 L1209.0,1428.2 L1210.6,1428.3 L1212.2,1428.3 L1213.8,1428.7 L1215.4,1429.1 L1217.0,1429.1 L1218.6,1429.5 L1220.2,1429.5 L1221.8,1429.5 L1223.4,1430.0 L1225.0,1430.2 L1226.6,1430.2 L1228.2,1430.4 L1229.8,1430.7 L1231.4,1430.7 L1233.0,1431.1 L1234.6,1431.2 L1236.2,1431.0 L1237.8,1431.5 L1239.4,1431.6 L1241.0,1431.7 L1242.6,1432.1 L1244.2,1432.1 L1245.8,1432.5 L1247.4,1432.7 L1249.0,1432.7 L1250.6,1432.6 L1252.2,1432.9 L1253.8,1433.3 L1255.4,1433.3 L1257.0,1433.4 L1258.6,1433.6 L1260.2,1433.9 L1261.8,1434.0 L1263.4,1434.2 L1265.0,1434.1 L1266.6,1434.4 L1268.2,1434.5 L1269.8,1434.7 L1271.4,1434.5 L1273.0,1435.0 L1274.6,1434.9 L1276.2,1435.5 L1277.8,1435.6 L1279.4,1435.8 L1281.0,1435.8 L1282.6,1435.7 L1284.2,1436.1 L1285.8,1436.0 L1287.4,1436.3 L1289.0,1436.2 L1290.6,1436.3 L1292.2,1436.6 L1293.8,1436.9 L1295.4,1436.8 L1297.0,1437.2 L1298.6,1437.4 L1300.2,1436.9 L1301.8,1437.2 L1303.4,1437.2 L1305.0,1437.4 L1306.6,1437.5 L1308.2,1437.6 L1309.8,1437.9 L1311.4,1438.0 L1313.0,1438.0 L1314.6,1438.0 L1316.2,1438.1 L1317.8,1438.2 L1319.4,1438.4 L1321.0,1438.4 L1322.6,1438.5 L1324.2,1438.4 L1325.8,1438.7 L1327.4,1439.0 L1329.0,1438.8 L1330.6,1438.6 L1332.2,1439.1 L1333.8,1438.9 L1335.4,1438.6 L1337.0,1439.1 L1338.6,1439.2 L1340.2,1439.3 L1341.8,1439.5 L1343.4,1439.4 L1345.0,1439.4 L1346.6,1439.1 L1348.2,1439.3 L1349.8,1439.5 L1351.4,1439.7 L1353.0,1439.5 L1354.6,1439.6 L1356.2,1439.8 L1357.8,1439.5 L1359.4,1439.5 L1361.0,1439.8 L1362.6,1439.9 L1364.2,1439.8 L1365.8,1439.6 L1367.4,1440.0 L1369.0,1439.8 L1370.6,1440.1 L1372.2,1440.1 L1373.8,1440.2 L1375.4,1440.3 L1377.0,1440.1 L1378.6,1440.4 L1380.2,1440.5 L1381.8,1440.4 L1383.4,1440.5 L1385.0,1440.3 L1386.6,1440.6 L1388.2,1440.5 L1389.8,1440.4 L1391.4,1440.5 L1393.0,1440.5 L1394.6,1440.6 L1396.2,1440.7 L1397.8,1440.9 L1399.4,1440.7 L1401.0,1440.8 L1402.6,1440.7 L1404.2,1440.9 L1405.8,1441.2 L1407.4,1441.2 L1409.0,1441.2 L1410.6,1441.1 L1412.2,1441.0 L1413.8,1441.2 L1415.4,1441.1 L1417.0,1441.2 L1418.6,1441.5 L1420.2,1441.3 L1421.8,1441.8 L1423.4,1441.4 L1425.0,1441.7 L1426.6,1441.5 L1428.2,1441.8 L1429.8,1441.6 L1431.4,1441.9 L1433.0,1441.9 L1434.6,1441.9 L1436.2,1442.1 L1437.8,1442.3 L1439.4,1442.1 L1441.0,1442.3 L1442.6,1442.3 L1444.2,1442.3 L1445.8,1442.7 L1447.4,1442.1 L1449.0,1442.4 L1450.6,1442.3 L1452.2,1442.6 L1453.8,1442.6 L1455.4,1443.3 L1457.0,1442.9 L1458.6,1443.1 L1460.2,1443.1 L1461.8,1442.9 L1463.4,1443.1 L1465.0,1443.4 L1466.6,1443.2 L1468.2,1443.3 L1469.8,1443.4 L1471.4,1443.1 L1473.0,1443.3 L1474.6,1443.5 L1476.2,1443.6 L1477.8,1443.5 L1479.4,1443.6 L1481.0,1443.7 L1482.6,1443.8 L1484.2,1444.0 L1485.8,1443.9 L1487.4,1444.0 L1489.0,1443.8 L1490.6,1444.0 L1492.2,1444.2 L1493.8,1444.0 L1495.4,1444.3 L1497.0,1444.3 L1498.6,1444.3 L1500.2,1444.6 L1501.8,1444.4 L1503.4,1444.5 L1505.0,1444.6 L1506.6,1444.7 L1508.2,1445.2 L1509.8,1444.5 L1511.4,1444.9 L1513.0,1444.9 L1514.6,1445.2 L1516.2,1445.1 L1517.8,1444.8 L1519.4,1445.4 L1521.0,1445.1 L1522.6,1445.3 L1524.2,1445.2 L1525.8,1445.3 L1527.4,1445.5 L1529.0,1445.7 L1530.6,1445.8 L1532.2,1445.6 L1533.8,1445.8 L1535.4,1445.8 L1537.0,1445.9 L1538.6,1446.0 L1540.2,1446.1 L1541.8,1446.0 L1543.4,1446.1 L1545.0,1446.2 L1546.6,1446.2 L1548.2,1446.2 L1549.8,1446.6 L1551.4,1446.3 L1553.0,1446.6 L1554.6,1446.5 L1556.2,1446.7 L1557.8,1446.3 L1559.4,1447.0 L1561.0,1446.7 L1562.6,1446.6 L1564.2,1446.8 L1565.8,1447.2 L1567.4,1447.0 L1569.0,1446.8 L1570.6,1447.0 L1572.2,1447.3 L1573.8,1446.9 L1575.4,1447.2 L1577.0,1447.2 L1578.6,1447.6 L1580.2,1447.3 L1581.8,1447.6 L1583.4,1447.4 L1585.0,1447.4 L1586.6,1447.7 L1588.2,1447.7 L1589.8,1447.4 L1591.4,1447.8 L1593.0,1447.9 L1594.6,1447.7 L1596.2,1447.9 L1597.8,1448.0 L1599.4,1447.9 L1601.0,1447.9 L1602.6,1448.0 L1604.2,1448.1 L1605.8,1448.0 L1607.4,1448.2 L1609.0,1448.0 L1610.6,1448.3 L1612.2,1448.4 L1613.8,1448.3 L1615.4,1448.6 L1617.0,1448.8 L1618.6,1448.8 L1620.2,1448.4 L1621.8,1448.9 L1623.4,1448.8 L1625.0,1448.8 L1626.6,1448.8 L1628.2,1448.9 L1629.8,1449.2 L1631.4,1449.1 L1633.0,1449.0 L1634.6,1449.0 L1636.2,1449.1 L1637.8,1449.3 L1639.4,1449.5 L1641.0,1449.2 L1642.6,1449.4 L1644.2,1449.4 L1645.8,1449.4 L1647.4,1449.6 L1649.0,1449.7 L1650.6,1449.4 L1652.2,1449.6 L1653.8,1449.9 L1655.4,1449.9 L1657.0,1450.0 L1658.6,1449.9 L1660.2,1449.9 L1661.8,1450.1 L1663.4,1450.0 L1665.0,1450.0 L1666.6,1450.2 L1668.2,1450.4 L1669.8,1450.2 L1671.4,1450.6 L1673.0,1450.6 L1674.6,1450.4 L1676.2,1450.6 L1677.8,1450.7 L1679.4,1450.9 L1681.0,1450.9 L1682.6,1450.7 L1684.2,1450.8 L1685.8,1451.2 L1687.4,1451.1 L1689.0,1451.2 L1690.6,1451.3 L1692.2,1451.5 L1693.8,1451.2 L1695.4,1451.6 L1697.0,1451.4 L1698.6,1451.7 L1700.2,1451.9 L1701.8,1451.6 L1703.4,1451.9 L1705.0,1451.9 L1706.6,1451.9 L1708.2,1452.1 L1709.8,1452.0 L1711.4,1452.1 L1713.0,1452.4 L1714.6,1452.5 L1716.2,1452.3 L1717.8,1452.3 L1719.4,1452.9 L1721.0,1452.8 L1722.6,1452.8 L1724.2,1452.6 L1725.8,1452.8 L1727.4,1453.0 L1729.0,1452.9 L1730.6,1453.3 L1732.2,1453.2 L1733.8,1453.3 L1735.4,1453.2 L1737.0,1453.2 L1738.6,1453.3 L1740.2,1453.6 L1741.8,1453.6 L1743.4,1453.6 L1745.0,1453.8 L1746.6,1453.8 L1748.2,1454.1 L1749.8,1453.9 L1751.4,1453.9 L1753.0,1454.1 L1754.6,1454.4 L1756.2,1454.1 L1757.8,1454.3 L1759.4,1454.3 L1761.0,1454.5 L1762.6,1454.5 L1764.2,1454.4 L1765.8,1454.6 L1767.4,1454.8 L1769.0,1454.9 L1770.6,1454.9 L1772.2,1455.0 L1773.8,1454.9 L1775.4,1454.9 L1777.0,1455.2 L1778.6,1454.9 L1780.2,1455.1 L1781.8,1454.9 L1783.4,1455.2 L1785.0,1455.2 L1786.6,1455.2 L1788.2,1455.5 L1789.8,1455.3 L1791.4,1455.4 L1793.0,1455.5 L1794.6,1455.5 L1796.2,1455.8 L1797.8,1455.6 L1799.4,1455.7 L1801.0,1455.6 L1802.6,1455.7 L1804.2,1455.8 L1805.8,1455.8 L1807.4,1455.8 L1809.0,1456.0 L1810.6,1456.3 L1812.2,1456.0 L1813.8,1456.1 L1815.4,1456.1 L1817.0,1456.6 L1818.6,1456.5 L1820.2,1456.4 L1821.8,1456.4 L1823.4,1456.3 L1825.0,1456.4 L1826.6,1456.5 L1828.2,1456.5 L1829.8,1456.4 L1831.4,1456.4 L1833.0,1456.7 L1834.6,1456.7 L1836.2,1456.4 L1837.8,1456.7 L1839.4,1456.9 L1841.0,1456.7 L1842.6,1456.9 L1844.2,1456.7 L1845.8,1457.0 L1847.4,1456.8 L1849.0,1456.8 L1850.6,1457.0 L1852.2,1457.4 L1853.8,1457.0 L1855.4,1456.9 L1857.0,1457.2 L1858.6,1457.2 L1860.2,1457.5 L1861.8,1457.1 L1863.4,1457.1 L1865.0,1457.3 L1866.6,1457.4 L1868.2,1457.5 L1869.8,1457.6 L1871.4,1457.3 L1873.0,1457.4 L1874.6,1457.5 L1876.2,1457.7 L1877.8,1457.7 L1879.4,1457.6 L1881.0,1457.5 L1882.6,1457.9 L1884.2,1457.9 L1885.8,1458.2 L1887.4,1457.8 L1889.0,1458.1 L1890.6,1457.7 L1892.2,1457.8 L1893.8,1457.9 L1895.4,1457.9 L1897.0,1457.9 L1898.6,1458.0 L1900.2,1458.1 L1901.8,1458.0 L1903.4,1458.2 L1905.0,1458.2 L1906.6,1458.2 L1908.2,1458.5 L1909.8,1458.3 L1911.4,1458.3 L1913.0,1458.3 L1914.6,1458.4 L1916.2,1458.5 L1917.8,1458.3 L1919.4,1458.6 L1921.0,1458.7 L1922.6,1458.7 L1924.2,1458.5 L1925.8,1458.3 L1927.4,1458.5 L1929.0,1458.6 L1930.6,1458.8 L1932.2,1458.6 L1933.8,1458.6 L1935.4,1458.9 L1937.0,1458.6 L1938.6,1458.9 L1940.2,1458.9 L1941.8,1458.6 L1943.4,1458.9 L1945.0,1458.8 L1946.6,1458.7 L1948.2,1458.6 L1949.8,1458.7 L1951.4,1459.0 L1953.0,1458.9 L1954.6,1459.0 L1956.2,1458.9 L1957.8,1459.0 L1959.4,1459.0 L1961.0,1458.9 L1962.6,1458.9 L1964.2,1459.2 L1965.8,1459.2 L1967.4,1459.0 L1969.0,1459.2 L1970.6,1459.3 L1972.2,1459.5 L1973.8,1459.1 L1975.4,1459.4 L1977.0,1459.6 L1978.6,1459.3 L1980.2,1459.6 L1981.8,1459.0 L1983.4,1459.6 L1985.0,1459.4 L1986.6,1459.2 L1988.2,1459.6 L1989.8,1459.6 L1991.4,1459.7 L1993.0,1459.7 L1994.6,1459.5 L1996.2,1459.4 L1997.8,1459.5 L1999.4,1459.6 L2001.0,1459.7 L2002.6,1459.6 L2004.2,1459.7 L2005.8,1459.8 L2007.4,1459.7 L2009.0,1460.0 L2010.6,1460.0 L2012.2,1459.6 L2013.8,1459.7 L2015.4,1459.6 L2017.0,1459.6 L2018.6,1459.9 L2020.2,1459.7 L2021.8,1459.7 L2023.4,1459.8 L2025.0,1460.0 L2026.6,1459.9 L2028.2,1459.9 L2029.8,1460.1 L2031.4,1460.0 L2033.0,1460.1 L2034.6,1460.2 L2036.2,1459.9 L2037.8,1460.1 L2039.4,1460.0 L2041.0,1460.2 L2042.6,1460.2 L2044.2,1460.0 L2045.8,1460.3 L2047.4,1460.0 L2049.0,1460.3 L2050.6,1460.2 L2052.2,1460.1 L2053.8,1460.1 L2055.4,1460.2 L2057.0,1460.3 L2058.6,1460.2 L2060.2,1460.4 L2061.8,1460.1 L2063.4,1460.3 L2065.0,1460.3 L2066.6,1460.1 L2068.2,1460.4 L2069.8,1460.2 L2071.4,1460.0 L2073.0,1460.3 L2074.6,1460.4 L2076.2,1460.6 L2077.8,1460.4 L2079.4,1460.7 L2081.0,1460.7 L2082.6,1460.7 L2084.2,1460.7 L2085.8,1460.6 L2087.4,1460.5 L2089.0,1460.7 L2090.6,1460.7 L2092.2,1460.6 L2093.8,1460.6 L2095.4,1460.4 L2097.0,1460.8 L2098.6,1460.7 L2100.2,1460.5 L2101.8,1460.7 L2103.4,1460.8 L2105.0,1460.7 L2106.6,1460.9 L2108.2,1460.9 L2109.8,1460.5 L2111.4,1460.7 L2113.0,1460.9 L2114.6,1460.9 L2116.2,1461.0 L2117.8,1460.5 L2119.4,1460.8 L2121.0,1461.0 L2122.6,1461.0 L2124.2,1461.1 L2125.8,1460.7 L2127.4,1460.8 L2129.0,1460.8 L2130.6,1461.0 L2132.2,1460.7 L2133.8,1461.1 L2135.4,1461.1 L2137.0,1461.0 L2138.6,1460.7 L2140.2,1460.9 L2141.8,1461.1 L2143.4,1460.8 L2145.0,1461.0 L2146.6,1461.0 L2148.2,1461.2 L2149.8,1461.1 L2151.4,1461.1 L2153.0,1461.0 L2154.6,1461.1 L2156.2,1461.1 L2157.8,1461.2 L2159.4,1461.1 L2161.0,1461.3 L2162.6,1460.9 L2164.2,1461.3 L2165.8,1461.1 L2167.4,1461.3 L2169.0,1461.1 L2170.6,1461.3 L2172.2,1461.4 L2173.8,1461.1 L2175.4,1461.2 L2177.0,1461.1 L2178.6,1461.2 L2180.2,1460.9 L2181.8,1461.2 L2183.4,1461.2 L2185.0,1461.1 L2186.0,1461.2" stroke="#00cdcd"/><path d="M281.0,1420.3 L282.6,1420.9 L284.2,1411.4 L285.8,1415.5 L287.4,1414.0 L289.0,1411.9 L290.6,1414.6 L292.2,1419.5 L293.8,1425.3 L295.4,1427.0 L297.0,1418.2 L298.6,1416.1 L300.2,1403.7 L301.8,1396.7 L303.4,1384.1 L305.0,1375.8 L306.6,1366.3 L308.2,1359.7 L309.8,1350.4 L311.4,1340.9 L313.0,1334.9 L314.6,1324.2 L316.2,1313.2 L317.8,1291.7 L319.4,1282.7 L321.0,1276.1 L322.6,1264.9 L324.2,1260.4 L325.8,1257.5 L327.4,1247.3 L329.0,1233.1 L330.6,1226.3 L332.2,1214.1 L333.8,1200.9 L335.4,1186.9 L337.0,1172.7 L338.6,1156.2 L340.2,1141.7 L341.8,1128.4 L343.4,1111.4 L345.0,1098.0 L346.6,1075.9 L348.2,1052.3 L349.8,1035.0 L351.4,1014.5 L353.0,993.1 L354.6,971.5 L356.2,949.8 L357.8,934.1 L359.4,910.5 L361.0,893.3 L362.6,872.0 L364.2,850.9 L365.8,836.3 L367.4,810.0 L369.0,793.9 L370.6,777.2 L372.2,757.0 L373.8,740.3 L375.4,720.2 L377.0,701.1 L378.6,687.5 L380.2,665.1 L381.8,647.0 L383.4,627.3 L385.0,609.9 L386.6,594.3 L388.2,576.0 L389.8,557.1 L391.4,538.5 L393.0,523.4 L394.6,502.0 L396.2,491.3 L397.8,481.0 L399.4,470.0 L401.0,463.0 L402.6,454.8 L404.2,450.4 L405.8,454.3 L407.4,454.0 L409.0,458.0 L410.6,460.4 L412.2,467.4 L413.8,472.8 L415.4,480.2 L417.0,491.8 L418.6,497.9 L420.2,508.5 L421.8,517.0 L423.4,519.7 L425.0,532.8 L426.6,545.3 L428.2,557.8 L429.8,568.3 L431.4,584.8 L433.0,598.4 L434.6,608.0 L436.2,622.9 L437.8,634.7 L439.4,643.7 L441.0,653.0 L442.6,670.1 L444.2,680.1 L445.8,692.7 L447.4,707.2 L449.0,719.8 L450.6,734.3 L452.2,742.5 L453.8,750.8 L455.4,756.3 L457.0,759.9 L458.6,766.9 L460.2,774.6 L461.8,778.1 L463.4,789.6 L465.0,789.0 L466.6,792.9 L468.2,799.7 L469.8,801.7 L471.4,802.4 L473.0,803.9 L474.6,806.7 L476.2,808.9 L477.8,810.1 L479.4,809.4 L481.0,811.9 L482.6,813.7 L484.2,814.6 L485.8,808.8 L487.4,813.8 L489.0,815.0 L490.6,817.0 L492.2,818.7 L493.8,820.9 L495.4,821.3 L497.0,820.8 L498.6,821.9 L500.2,825.8 L501.8,822.2 L503.4,824.6 L505.0,827.5 L506.6,825.9 L508.2,822.1 L509.8,826.9 L511.4,826.0 L513.0,826.9 L514.6,829.5 L516.2,828.9 L517.8,828.2 L519.4,831.0 L521.0,831.0 L522.6,831.4 L524.2,833.0 L525.8,834.3 L527.4,834.8 L529.0,836.1 L530.6,838.6 L532.2,838.5 L533.8,839.5 L535.4,845.8 L537.0,844.7 L538.6,846.8 L540.2,848.4 L541.8,850.6 L543.4,852.4 L545.0,854.4 L546.6,854.7 L548.2,859.7 L549.8,858.6 L551.4,863.5 L553.0,860.0 L554.6,863.3 L556.2,868.9 L557.8,868.7 L559.4,869.7 L561.0,873.3 L562.6,873.9 L564.2,877.2 L565.8,877.3 L567.4,881.6 L569.0,884.1 L570.6,888.1 L572.2,891.3 L573.8,892.5 L575.4,897.8 L577.0,898.3 L578.6,899.4 L580.2,901.7 L581.8,908.3 L583.4,909.2 L585.0,911.2 L586.6,913.5 L588.2,915.5 L589.8,920.1 L591.4,920.7 L593.0,924.5 L594.6,924.3 L596.2,923.9 L597.8,928.9 L599.4,929.4 L601.0,931.4 L602.6,935.1 L604.2,935.3 L605.8,938.9 L607.4,940.2 L609.0,942.1 L610.6,946.2 L612.2,948.1 L613.8,953.0 L615.4,955.9 L617.0,958.3 L618.6,962.0 L620.2,965.2 L621.8,967.5 L623.4,972.0 L625.0,974.2 L626.6,978.5 L628.2,980.3 L629.8,984.8 L631.4,988.5 L633.0,990.6 L634.6,994.2 L636.2,997.2 L637.8,1001.5 L639.4,1002.8 L641.0,1006.6 L642.6,1010.3 L644.2,1011.8 L645.8,1012.6 L647.4,1017.3 L649.0,1021.2 L650.6,1022.9 L652.2,1027.3 L653.8,1029.9 L655.4,1032.9 L657.0,1035.5 L658.6,1038.5 L660.2,1042.1 L661.8,1045.9 L663.4,1049.9 L665.0,1053.4 L666.6,1056.6 L668.2,1061.0 L669.8,1065.4 L671.4,1067.6 L673.0,1072.7 L674.6,1076.8 L676.2,1081.5 L677.8,1085.5 L679.4,1089.3 L681.0,1092.3 L682.6,1097.3 L684.2,1100.3 L685.8,1101.7 L687.4,1106.6 L689.0,1108.6 L690.6,1114.5 L692.2,1115.5 L693.8,1118.6 L695.4,1122.2 L697.0,1125.1 L698.6,1128.5 L700.2,1132.7 L701.8,1135.3 L703.4,1139.0 L705.0,1142.6 L706.6,1144.7 L708.2,1149.6 L709.8,1152.2 L711.4,1155.4 L713.0,1157.3 L714.6,1161.1 L716.2,1163.5 L717.8,1165.5 L719.4,1169.7 L721.0,1171.2 L722.6,1173.2 L724.2,1175.8 L725.8,1178.5 L727.4,1180.9 L729.0,1182.7 L730.6,1185.1 L732.2,1187.1 L733.8,1187.3 L735.4,1189.4 L737.0,1190.6 L738.6,1192.6 L740.2,1194.8 L741.8,1195.6 L743.4,1195.8 L745.0,1197.5 L746.6,1199.4 L748.2,1199.6 L749.8,1200.9 L751.4,1202.1 L753.0,1201.8 L754.6,1204.4 L756.2,1205.1 L757.8,1206.1 L759.4,1206.1 L761.0,1207.1 L762.6,1208.1 L764.2,1209.4 L765.8,1210.1 L767.4,1211.0 L769.0,1212.8 L770.6,1213.2 L772.2,1212.8 L773.8,1213.6 L775.4,1215.7 L777.0,1215.2 L778.6,1216.9 L780.2,1217.8 L781.8,1217.2 L783.4,1218.0 L785.0,1218.9 L786.6,1219.0 L788.2,1219.7 L789.8,1220.7 L791.4,1222.1 L793.0,1222.0 L794.6,1222.9 L796.2,1223.4 L797.8,1223.5 L799.4,1225.9 L801.0,1225.0 L802.6,1226.1 L804.2,1227.2 L805.8,1227.2 L807.4,1228.4 L809.0,1229.3 L810.6,1229.3 L812.2,1230.2 L813.8,1230.5 L815.4,1231.6 L817.0,1232.1 L818.6,1232.8 L820.2,1233.7 L821.8,1234.1 L823.4,1235.0 L825.0,1235.5 L826.6,1235.6 L828.2,1236.7 L829.8,1237.5 L831.4,1237.6 L833.0,1239.2 L834.6,1239.5 L836.2,1240.3 L837.8,1240.7 L839.4,1241.7 L841.0,1242.6 L842.6,1243.2 L844.2,1244.1 L845.8,1244.2 L847.4,1246.1 L849.0,1246.1 L850.6,1246.6 L852.2,1247.8 L853.8,1248.6 L855.4,1249.9 L857.0,1250.3 L858.6,1251.5 L860.2,1251.9 L861.8,1253.7 L863.4,1254.0 L865.0,1255.3 L866.6,1255.2 L868.2,1256.5 L869.8,1256.8 L871.4,1258.1 L873.0,1259.0 L874.6,1259.1 L876.2,1260.0 L877.8,1260.8 L879.4,1261.5 L881.0,1262.6 L882.6,1263.3 L884.2,1264.0 L885.8,1265.3 L887.4,1266.3 L889.0,1266.5 L890.6,1267.6 L892.2,1268.6 L893.8,1269.4 L895.4,1270.1 L897.0,1271.3 L898.6,1272.2 L900.2,1272.9 L901.8,1273.5 L903.4,1275.0 L905.0,1275.7 L906.6,1275.8 L908.2,1276.7 L909.8,1277.9 L911.4,1278.1 L913.0,1279.2 L914.6,1279.9 L916.2,1280.4 L917.8,1281.3 L919.4,1281.6 L921.0,1282.6 L922.6,1282.9 L924.2,1284.8 L925.8,1285.3 L927.4,1285.9 L929.0,1286.3 L930.6,1287.1 L932.2,1287.8 L933.8,1288.4 L935.4,1289.0 L937.0,1289.1 L938.6,1290.1 L940.2,1290.5 L941.8,1290.9 L943.4,1291.6 L945.0,1292.7 L946.6,1293.5 L948.2,1293.4 L949.8,1295.0 L951.4,1295.6 L953.0,1295.7 L954.6,1296.3 L956.2,1297.1 L957.8,1298.0 L959.4,1298.3 L961.0,1298.7 L962.6,1299.8 L964.2,1299.7 L965.8,1301.0 L967.4,1301.9 L969.0,1302.3 L970.6,1303.1 L972.2,1303.6 L973.8,1304.4 L975.4,1304.8 L977.0,1305.2 L978.6,1306.0 L980.2,1306.7 L981.8,1307.8 L983.4,1308.6 L985.0,1308.9 L986.6,1309.2 L988.2,1310.0 L989.8,1310.8 L991.4,1312.0 L993.0,1312.4 L994.6,1313.0 L996.2,1313.6 L997.8,1314.8 L999.4,1315.4 L1001.0,1316.1 L1002.6,1317.0 L1004.2,1318.4 L1005.8,1318.7 L1007.4,1320.0 L1009.0,1320.7 L1010.6,1321.1 L1012.2,1322.1 L1013.8,1322.6 L1015.4,1323.2 L1017.0,1324.1 L1018.6,1324.7 L1020.2,1325.9 L1021.8,1326.5 L1023.4,1327.5 L1025.0,1328.3 L1026.6,1327.9 L1028.2,1329.6 L1029.8,1329.7 L1031.4,1331.0 L1033.0,1331.4 L1034.6,1332.4 L1036.2,1333.5 L1037.8,1333.2 L1039.4,1334.5 L1041.0,1335.0 L1042.6,1335.1 L1044.2,1336.5 L1045.8,1336.9 L1047.4,1337.4 L1049.0,1337.9 L1050.6,1339.6 L1052.2,1339.0 L1053.8,1339.1 L1055.4,1339.9 L1057.0,1340.5 L1058.6,1341.0 L1060.2,1341.5 L1061.8,1341.6 L1063.4,1342.5 L1065.0,1342.6 L1066.6,1342.8 L1068.2,1343.3 L1069.8,1343.8 L1071.4,1344.6 L1073.0,1344.9 L1074.6,1345.0 L1076.2,1345.5 L1077.8,1346.0 L1079.4,1346.9 L1081.0,1346.6 L1082.6,1347.3 L1084.2,1347.9 L1085.8,1347.9 L1087.4,1348.7 L1089.0,1349.2 L1090.6,1349.5 L1092.2,1350.4 L1093.8,1351.1 L1095.4,1351.7 L1097.0,1351.8 L1098.6,1352.5 L1100.2,1353.4 L1101.8,1353.5 L1103.4,1354.3 L1105.0,1355.0 L1106.6,1355.4 L1108.2,1356.1 L1109.8,1356.7 L1111.4,1357.3 L1113.0,1358.0 L1114.6,1358.4 L1116.2,1359.0 L1117.8,1359.6 L1119.4,1360.1 L1121.0,1360.7 L1122.6,1361.1 L1124.2,1362.0 L1125.8,1362.7 L1127.4,1363.2 L1129.0,1363.6 L1130.6,1363.8 L1132.2,1364.7 L1133.8,1364.8 L1135.4,1365.4 L1137.0,1366.2 L1138.6,1366.2 L1140.2,1367.0 L1141.8,1367.3 L1143.4,1367.7 L1145.0,1368.1 L1146.6,1368.8 L1148.2,1369.1 L1149.8,1369.8 L1151.4,1370.2 L1153.0,1370.3 L1154.6,1370.9 L1156.2,1371.4 L1157.8,1371.7 L1159.4,1372.1 L1161.0,1372.7 L1162.6,1373.1 L1164.2,1373.3 L1165.8,1373.9 L1167.4,1374.5 L1169.0,1374.7 L1170.6,1375.1 L1172.2,1375.9 L1173.8,1376.3 L1175.4,1376.3 L1177.0,1376.7 L1178.6,1377.4 L1180.2,1377.5 L1181.8,1378.1 L1183.4,1378.4 L1185.0,1379.0 L1186.6,1378.9 L1188.2,1379.4 L1189.8,1379.9 L1191.4,1380.6 L1193.0,1380.8 L1194.6,1380.9 L1196.2,1381.7 L1197.8,1382.1 L1199.4,1382.3 L1201.0,1382.6 L1202.6,1383.1 L1204.2,1383.6 L1205.8,1383.8 L1207.4,1384.2 L1209.0,1384.5 L1210.6,1384.8 L1212.2,1385.1 L1213.8,1385.6 L1215.4,1385.9 L1217.0,1386.3 L1218.6,1386.8 L1220.2,1387.1 L1221.8,1387.5 L1223.4,1387.5 L1225.0,1388.2 L1226.6,1388.4 L1228.2,1388.7 L1229.8,1389.0 L1231.4,1389.7 L1233.0,1390.0 L1234.6,1390.1 L1236.2,1390.3 L1237.8,1390.8 L1239.4,1391.1 L1241.0,1391.7 L1242.6,1391.6 L1244.2,1391.8 L1245.8,1392.4 L1247.4,1392.7 L1249.0,1393.0 L1250.6,1393.4 L1252.2,1393.9 L1253.8,1393.8 L1255.4,1394.1 L1257.0,1394.2 L1258.6,1394.7 L1260.2,1395.1 L1261.8,1395.2 L1263.4,1395.6 L1265.0,1395.7 L1266.6,1396.2 L1268.2,1396.2 L1269.8,1396.2 L1271.4,1396.5 L1273.0,1396.6 L1274.6,1396.7 L1276.2,1397.2 L1277.8,1397.5 L1279.4,1397.9 L1281.0,1397.7 L1282.6,1397.9 L1284.2,1397.9 L1285.8,1398.4 L1287.4,1398.5 L1289.0,1398.5 L1290.6,1398.9 L1292.2,1399.0 L1293.8,1398.8 L1295.4,1399.4 L1297.0,1399.5 L1298.6,1399.5 L1300.2,1399.7 L1301.8,1400.2 L1303.4,1400.3 L1305.0,1400.5 L1306.6,1400.2 L1308.2,1400.4 L1309.8,1400.8 L1311.4,1400.6 L1313.0,1400.8 L1314.6,1400.8 L1316.2,1401.5 L1317.8,1401.5 L1319.4,1401.6 L1321.0,1401.7 L1322.6,1401.8 L1324.2,1401.9 L1325.8,1402.2 L1327.4,1402.2 L1329.0,1402.6 L1330.6,1402.5 L1332.2,1402.6 L1333.8,1403.1 L1335.4,1403.1 L1337.0,1403.4 L1338.6,1403.4 L1340.2,1403.3 L1341.8,1403.9 L1343.4,1403.8 L1345.0,1404.3 L1346.6,1404.1 L1348.2,1404.2 L1349.8,1404.7 L1351.4,1404.9 L1353.0,1405.0 L1354.6,1405.0 L1356.2,1405.5 L1357.8,1405.3 L1359.4,1405.6 L1361.0,1405.8 L1362.6,1406.0 L1364.2,1406.4 L1365.8,1406.3 L1367.4,1406.7 L1369.0,1406.9 L1370.6,1406.7 L1372.2,1406.9 L1373.8,1407.2 L1375.4,1407.4 L1377.0,1407.7 L1378.6,1407.5 L1380.2,1408.1 L1381.8,1408.3 L1383.4,1408.3 L1385.0,1408.3 L1386.6,1408.7 L1388.2,1408.8 L1389.8,1409.1 L1391.4,1409.2 L1393.0,1409.5 L1394.6,1409.5 L1396.2,1409.9 L1397.8,1409.5 L1399.4,1409.9 L1401.0,1410.3 L1402.6,1410.1 L1404.2,1410.6 L1405.8,1410.5 L1407.4,1410.9 L1409.0,1410.9 L1410.6,1411.2 L1412.2,1411.4 L1413.8,1411.5 L1415.4,1411.7 L1417.0,1412.2 L1418.6,1412.1 L1420.2,1412.1 L1421.8,1412.6 L1423.4,1412.7 L1425.0,1412.9 L1426.6,1413.2 L1428.2,1413.0 L1429.8,1413.4 L1431.4,1413.6 L1433.0,1413.6 L1434.6,1413.8 L1436.2,1413.5 L1437.8,1414.0 L1439.4,1414.5 L1441.0,1414.2 L1442.6,1414.5 L1444.2,1414.8 L1445.8,1415.0 L1447.4,1415.3 L1449.0,1415.0 L1450.6,1415.4 L1452.2,1415.7 L1453.8,1415.5 L1455.4,1415.9 L1457.0,1416.3 L1458.6,1416.4 L1460.2,1416.4 L1461.8,1416.1 L1463.4,1416.6 L1465.0,1416.8 L1466.6,1416.8 L1468.2,1417.0 L1469.8,1417.6 L1471.4,1417.2 L1473.0,1417.3 L1474.6,1417.6 L1476.2,1417.6 L1477.8,1417.7 L1479.4,1417.9 L1481.0,1418.1 L1482.6,1418.1 L1484.2,1418.0 L1485.8,1418.3 L1487.4,1418.5 L1489.0,1418.5 L1490.6,1418.8 L1492.2,1418.9 L1493.8,1418.7 L1495.4,1419.0 L1497.0,1419.3 L1498.6,1419.4 L1500.2,1419.2 L1501.8,1419.5 L1503.4,1419.3 L1505.0,1419.3 L1506.6,1419.7 L1508.2,1419.7 L1509.8,1419.9 L1511.4,1419.9 L1513.0,1420.0 L1514.6,1420.0 L1516.2,1420.2 L1517.8,1420.4 L1519.4,1420.3 L1521.0,1420.6 L1522.6,1420.3 L1524.2,1420.5 L1525.8,1420.9 L1527.4,1421.1 L1529.0,1420.9 L1530.6,1421.0 L1532.2,1420.9 L1533.8,1421.3 L1535.4,1421.4 L1537.0,1421.2 L1538.6,1421.6 L1540.2,1421.7 L1541.8,1421.8 L1543.4,1421.7 L1545.0,1422.0 L1546.6,1421.8 L1548.2,1422.4 L1549.8,1422.3 L1551.4,1422.2 L1553.0,1422.7 L1554.6,1422.8 L1556.2,1422.7 L1557.8,1423.3 L1559.4,1422.9 L1561.0,1423.2 L1562.6,1423.5 L1564.2,1423.1 L1565.8,1423.8 L1567.4,1423.7 L1569.0,1423.9 L1570.6,1423.9 L1572.2,1424.2 L1573.8,1424.2 L1575.4,1424.3 L1577.0,1424.6 L1578.6,1424.6 L1580.2,1425.2 L1581.8,1424.9 L1583.4,1425.1 L1585.0,1425.3 L1586.6,1425.5 L1588.2,1425.8 L1589.8,1426.0 L1591.4,1425.9 L1593.0,1426.1 L1594.6,1426.3 L1596.2,1426.6 L1597.8,1426.7 L1599.4,1426.7 L1601.0,1426.6 L1602.6,1427.4 L1604.2,1427.3 L1605.8,1427.4 L1607.4,1427.5 L1609.0,1427.5 L1610.6,1427.6 L1612.2,1427.8 L1613.8,1428.0 L1615.4,1428.0 L1617.0,1428.0 L1618.6,1428.3 L1620.2,1428.6 L1621.8,1428.5 L1623.4,1428.7 L1625.0,1428.5 L1626.6,1428.9 L1628.2,1429.1 L1629.8,1429.0 L1631.4,1429.0 L1633.0,1429.5 L1634.6,1429.4 L1636.2,1429.7 L1637.8,1429.7 L1639.4,1430.0 L1641.0,1429.9 L1642.6,1429.9 L1644.2,1430.2 L1645.8,1430.2 L1647.4,1430.5 L1649.0,1430.4 L1650.6,1430.6 L1652.2,1430.8 L1653.8,1431.0 L1655.4,1431.0 L1657.0,1431.2 L1658.6,1431.2 L1660.2,1431.3 L1661.8,1431.5 L1663.4,1431.5 L1665.0,1431.5 L1666.6,1431.6 L1668.2,1432.1 L1669.8,1431.8 L1671.4,1431.9 L1673.0,1431.9 L1674.6,1432.1 L1676.2,1432.2 L1677.8,1432.1 L1679.4,1432.1 L1681.0,1432.5 L1682.6,1432.3 L1684.2,1432.7 L1685.8,1432.7 L1687.4,1433.0 L1689.0,1433.1 L1690.6,1433.0 L1692.2,1433.0 L1693.8,1433.0 L1695.4,1433.1 L1697.0,1433.3 L1698.6,1433.1 L1700.2,1433.5 L1701.8,1433.5 L1703.4,1433.7 L1705.0,1433.6 L1706.6,1433.8 L1708.2,1433.7 L1709.8,1433.8 L1711.4,1433.7 L1713.0,1434.0 L1714.6,1434.3 L1716.2,1434.2 L1717.8,1434.3 L1719.4,1434.2 L1721.0,1434.6 L1722.6,1434.3 L1724.2,1434.6 L1725.8,1434.6 L1727.4,1434.5 L1729.0,1434.9 L1730.6,1434.8 L1732.2,1434.9 L1733.8,1435.0 L1735.4,1435.0 L1737.0,1435.0 L1738.6,1435.2 L1740.2,1435.1 L1741.8,1435.2 L1743.4,1435.2 L1745.0,1435.1 L1746.6,1435.3 L1748.2,1435.4 L1749.8,1435.5 L1751.4,1435.8 L1753.0,1435.4 L1754.6,1435.7 L1756.2,1435.5 L1757.8,1435.7 L1759.4,1435.8 L1761.0,1435.6 L1762.6,1435.7 L1764.2,1436.1 L1765.8,1436.1 L1767.4,1436.2 L1769.0,1436.1 L1770.6,1436.6 L1772.2,1436.3 L1773.8,1436.3 L1775.4,1436.7 L1777.0,1436.6 L1778.6,1436.5 L1780.2,1436.8 L1781.8,1436.7 L1783.4,1436.8 L1785.0,1436.8 L1786.6,1436.7 L1788.2,1437.0 L1789.8,1437.0 L1791.4,1436.8 L1793.0,1436.9 L1794.6,1437.2 L1796.2,1437.1 L1797.8,1437.2 L1799.4,1437.3 L1801.0,1437.3 L1802.6,1437.1 L1804.2,1437.5 L1805.8,1437.6 L1807.4,1437.6 L1809.0,1437.8 L1810.6,1437.6 L1812.2,1437.7 L1813.8,1437.9 L1815.4,1437.7 L1817.0,1438.0 L1818.6,1438.0 L1820.2,1437.9 L1821.8,1438.1 L1823.4,1438.0 L1825.0,1437.8 L1826.6,1438.2 L1828.2,1438.1 L1829.8,1438.1 L1831.4,1438.1 L1833.0,1438.4 L1834.6,1438.3 L1836.2,1438.1 L1837.8,1438.4 L1839.4,1438.4 L1841.0,1438.3 L1842.6,1438.3 L1844.2,1438.4 L1845.8,1438.4 L1847.4,1438.6 L1849.0,1438.7 L1850.6,1438.9 L1852.2,1438.8 L1853.8,1438.8 L1855.4,1438.9 L1857.0,1439.0 L1858.6,1438.7 L1860.2,1438.9 L1861.8,1438.9 L1863.4,1438.9 L1865.0,1438.9 L1866.6,1438.9 L1868.2,1439.0 L1869.8,1438.9 L1871.4,1439.2 L1873.0,1439.2 L1874.6,1439.2 L1876.2,1439.3 L1877.8,1439.4 L1879.4,1439.2 L1881.0,1439.3 L1882.6,1439.2 L1884.2,1439.1 L1885.8,1439.2 L1887.4,1439.7 L1889.0,1439.3 L1890.6,1439.7 L1892.2,1439.8 L1893.8,1439.6 L1895.4,1439.9 L1897.0,1440.0 L1898.6,1439.9 L1900.2,1440.2 L1901.8,1439.9 L1903.4,1439.8 L1905.0,1440.0 L1906.6,1439.9 L1908.2,1439.8 L1909.8,1439.8 L1911.4,1440.4 L1913.0,1440.0 L1914.6,1440.1 L1916.2,1440.1 L1917.8,1440.2 L1919.4,1440.2 L1921.0,1440.2 L1922.6,1440.1 L1924.2,1440.2 L1925.8,1440.3 L1927.4,1440.5 L1929.0,1440.8 L1930.6,1440.7 L1932.2,1440.8 L1933.8,1440.7 L1935.4,1440.6 L1937.0,1440.5 L1938.6,1440.7 L1940.2,1440.4 L1941.8,1440.7 L1943.4,1441.0 L1945.0,1440.9 L1946.6,1441.0 L1948.2,1440.9 L1949.8,1440.7 L1951.4,1440.9 L1953.0,1441.0 L1954.6,1441.3 L1956.2,1441.4 L1957.8,1441.0 L1959.4,1441.1 L1961.0,1441.2 L1962.6,1441.2 L1964.2,1441.1 L1965.8,1441.4 L1967.4,1441.4 L1969.0,1441.5 L1970.6,1441.3 L1972.2,1441.5 L1973.8,1441.3 L1975.4,1441.7 L1977.0,1441.5 L1978.6,1441.6 L1980.2,1441.7 L1981.8,1441.7 L1983.4,1441.7 L1985.0,1441.6 L1986.6,1442.2 L1988.2,1442.0 L1989.8,1442.0 L1991.4,1442.3 L1993.0,1442.1 L1994.6,1442.2 L1996.2,1442.2 L1997.8,1442.4 L1999.4,1442.3 L2001.0,1442.4 L2002.6,1442.3 L2004.2,1442.4 L2005.8,1442.6 L2007.4,1442.2 L2009.0,1442.5 L2010.6,1442.5 L2012.2,1442.6 L2013.8,1442.4 L2015.4,1442.9 L2017.0,1442.7 L2018.6,1442.8 L2020.2,1442.8 L2021.8,1442.7 L2023.4,1442.9 L2025.0,1442.8 L2026.6,1442.9 L2028.2,1443.1 L2029.8,1443.2 L2031.4,1443.2 L2033.0,1443.3 L2034.6,1443.7 L2036.2,1443.4 L2037.8,1443.3 L2039.4,1443.4 L2041.0,1443.4 L2042.6,1443.6 L2044.2,1443.5 L2045.8,1443.6 L2047.4,1444.0 L2049.0,1443.8 L2050.6,1443.8 L2052.2,1443.8 L2053.8,1443.9 L2055.4,1444.2 L2057.0,1444.1 L2058.6,1444.3 L2060.2,1443.7 L2061.8,1444.2 L2063.4,1444.4 L2065.0,1444.6 L2066.6,1444.3 L2068.2,1444.1 L2069.8,1444.5 L2071.4,1444.4 L2073.0,1444.3 L2074.6,1444.5 L2076.2,1444.8 L2077.8,1444.9 L2079.4,1444.8 L2081.0,1444.6 L2082.6,1445.2 L2084.2,1444.7 L2085.8,1444.9 L2087.4,1444.8 L2089.0,1445.2 L2090.6,1445.2 L2092.2,1445.3 L2093.8,1445.2 L2095.4,1445.2 L2097.0,1445.3 L2098.6,1445.1 L2100.2,1445.5 L2101.8,1445.6 L2103.4,1445.4 L2105.0,1445.5 L2106.6,1445.6 L2108.2,1445.9 L2109.8,1445.8 L2111.4,1445.8 L2113.0,1445.7 L2114.6,1445.6 L2116.2,1445.8 L2117.8,1446.0 L2119.4,1446.0 L2121.0,1446.1 L2122.6,1446.2 L2124.2,1446.2 L2125.8,1446.3 L2127.4,1446.4 L2129.0,1446.4 L2130.6,1446.4 L2132.2,1446.5 L2133.8,1446.2 L2135.4,1446.7 L2137.0,1446.4 L2138.6,1446.8 L2140.2,1446.7 L2141.8,1446.9 L2143.4,1446.8 L2145.0,1446.7 L2146.6,1447.1 L2148.2,1447.0 L2149.8,1447.0 L2151.4,1447.1 L2153.0,1447.3 L2154.6,1447.3 L2156.2,1447.2 L2157.8,1447.0 L2159.4,1447.3 L2161.0,1447.4 L2162.6,1447.7 L2164.2,1447.5 L2165.8,1447.5 L2167.4,1447.8 L2169.0,1447.6 L2170.6,1447.7 L2172.2,1447.8 L2173.8,1447.6 L2175.4,1448.0 L2177.0,1448.0 L2178.6,1447.9 L2180.2,1447.8 L2181.8,1448.1 L2183.4,1448.3 L2185.0,1448.1 L2186.0,1448.0" stroke="#7d4848"/><path d="M281.0,1402.9 L282.6,1399.8 L284.2,1396.6 L285.8,1396.6 L287.4,1395.1 L289.0,1398.5 L290.6,1394.3 L292.2,1401.8 L293.8,1409.3 L295.4,1402.3 L297.0,1394.2 L298.6,1386.6 L300.2,1378.0 L301.8,1364.7 L303.4,1357.2 L305.0,1349.5 L306.6,1342.5 L308.2,1342.7 L309.8,1330.4 L311.4,1321.2 L313.0,1310.6 L314.6,1299.9 L316.2,1287.9 L317.8,1278.5 L319.4,1269.2 L321.0,1258.9 L322.6,1254.3 L324.2,1243.5 L325.8,1233.8 L327.4,1221.5 L329.0,1212.5 L330.6,1201.3 L332.2,1191.1 L333.8,1176.7 L335.4,1166.9 L337.0,1154.1 L338.6,1138.4 L340.2,1125.1 L341.8,1109.9 L343.4,1097.6 L345.0,1073.9 L346.6,1058.1 L348.2,1034.6 L349.8,1014.9 L351.4,995.3 L353.0,971.5 L354.6,952.9 L356.2,931.7 L357.8,917.5 L359.4,896.7 L361.0,878.2 L362.6,855.0 L364.2,836.8 L365.8,822.1 L367.4,801.3 L369.0,782.7 L370.6,765.2 L372.2,743.4 L373.8,726.8 L375.4,704.5 L377.0,684.4 L378.6,661.9 L380.2,644.9 L381.8,625.4 L383.4,613.5 L385.0,602.0 L386.6,593.8 L388.2,587.6 L389.8,581.7 L391.4,565.9 L393.0,541.6 L394.6,490.2 L396.2,457.1 L397.8,441.8 L399.4,428.9 L401.0,421.7 L402.6,415.4 L404.2,406.4 L405.8,393.6 L407.4,392.2 L409.0,398.5 L410.6,397.7 L412.2,407.2 L413.8,407.9 L415.4,410.3 L417.0,418.2 L418.6,424.7 L420.2,425.3 L421.8,438.1 L423.4,443.0 L425.0,455.0 L426.6,460.8 L428.2,468.4 L429.8,482.7 L431.4,494.5 L433.0,508.9 L434.6,520.9 L436.2,530.6 L437.8,538.7 L439.4,547.5 L441.0,557.6 L442.6,566.7 L444.2,577.6 L445.8,584.0 L447.4,599.9 L449.0,609.8 L450.6,622.2 L452.2,624.0 L453.8,625.5 L455.4,631.3 L457.0,633.3 L458.6,641.1 L460.2,645.3 L461.8,656.3 L463.4,659.3 L465.0,660.5 L466.6,666.5 L468.2,671.8 L469.8,673.7 L471.4,675.3 L473.0,673.9 L474.6,675.0 L476.2,676.8 L477.8,678.8 L479.4,676.0 L481.0,675.8 L482.6,680.2 L484.2,676.7 L485.8,680.6 L487.4,679.5 L489.0,681.0 L490.6,683.0 L492.2,681.6 L493.8,682.2 L495.4,679.7 L497.0,680.6 L498.6,683.6 L500.2,685.8 L501.8,686.1 L503.4,688.3 L505.0,685.2 L506.6,685.6 L508.2,687.5 L509.8,686.2 L511.4,686.5 L513.0,685.2 L514.6,689.4 L516.2,686.2 L517.8,689.6 L519.4,686.7 L521.0,691.9 L522.6,688.8 L524.2,693.1 L525.8,689.7 L527.4,692.9 L529.0,697.0 L530.6,694.7 L532.2,697.6 L533.8,698.0 L535.4,696.3 L537.0,702.7 L538.6,704.9 L540.2,704.1 L541.8,709.3 L543.4,709.0 L545.0,710.8 L546.6,714.9 L548.2,715.8 L549.8,723.5 L551.4,718.9 L553.0,725.5 L554.6,728.4 L556.2,725.6 L557.8,728.5 L559.4,735.1 L561.0,736.1 L562.6,739.4 L564.2,742.6 L565.8,743.6 L567.4,745.4 L569.0,746.2 L570.6,751.6 L572.2,752.9 L573.8,756.7 L575.4,759.1 L577.0,759.9 L578.6,765.5 L580.2,767.3 L581.8,769.5 L583.4,769.9 L585.0,773.1 L586.6,775.4 L588.2,777.9 L589.8,779.4 L591.4,783.3 L593.0,785.3 L594.6,787.6 L596.2,789.0 L597.8,793.0 L599.4,794.1 L601.0,793.5 L602.6,797.9 L604.2,800.8 L605.8,804.2 L607.4,805.5 L609.0,808.1 L610.6,810.3 L612.2,814.4 L613.8,816.1 L615.4,819.0 L617.0,822.0 L618.6,826.6 L620.2,828.8 L621.8,831.0 L623.4,836.6 L625.0,838.6 L626.6,843.0 L628.2,846.3 L629.8,850.3 L631.4,853.3 L633.0,854.7 L634.6,858.2 L636.2,860.2 L637.8,866.2 L639.4,868.1 L641.0,872.3 L642.6,873.8 L644.2,875.4 L645.8,882.5 L647.4,884.7 L649.0,888.5 L650.6,892.2 L652.2,896.8 L653.8,900.8 L655.4,902.7 L657.0,909.5 L658.6,912.1 L660.2,916.3 L661.8,922.5 L663.4,925.8 L665.0,928.5 L666.6,930.9 L668.2,936.8 L669.8,941.1 L671.4,944.4 L673.0,947.2 L674.6,951.6 L676.2,955.1 L677.8,960.7 L679.4,965.4 L681.0,969.9 L682.6,972.5 L684.2,978.0 L685.8,982.9 L687.4,986.4 L689.0,991.4 L690.6,998.4 L692.2,1001.4 L693.8,1007.3 L695.4,1011.2 L697.0,1016.8 L698.6,1019.8 L700.2,1025.9 L701.8,1030.4 L703.4,1034.3 L705.0,1036.9 L706.6,1039.5 L708.2,1041.9 L709.8,1044.1 L711.4,1047.0 L713.0,1049.9 L714.6,1051.5 L716.2,1055.0 L717.8,1056.4 L719.4,1058.5 L721.0,1061.6 L722.6,1063.8 L724.2,1066.6 L725.8,1070.6 L727.4,1072.3 L729.0,1075.0 L730.6,1077.9 L732.2,1080.2 L733.8,1081.2 L735.4,1084.3 L737.0,1085.5 L738.6,1087.1 L740.2,1089.1 L741.8,1089.6 L743.4,1091.7 L745.0,1093.6 L746.6,1095.6 L748.2,1096.5 L749.8,1098.0 L751.4,1100.1 L753.0,1101.6 L754.6,1102.5 L756.2,1103.9 L757.8,1104.0 L759.4,1105.1 L761.0,1106.5 L762.6,1107.0 L764.2,1107.8 L765.8,1109.9 L767.4,1109.6 L769.0,1109.9 L770.6,1111.6 L772.2,1113.1 L773.8,1112.8 L775.4,1114.2 L777.0,1113.8 L778.6,1114.5 L780.2,1115.0 L781.8,1116.0 L783.4,1117.8 L785.0,1116.7 L786.6,1119.1 L788.2,1118.1 L789.8,1119.3 L791.4,1120.7 L793.0,1121.3 L794.6,1121.8 L796.2,1121.4 L797.8,1123.3 L799.4,1123.2 L801.0,1125.3 L802.6,1125.2 L804.2,1126.1 L805.8,1126.4 L807.4,1127.4 L809.0,1127.8 L810.6,1129.2 L812.2,1129.6 L813.8,1130.6 L815.4,1131.0 L817.0,1131.8 L818.6,1133.0 L820.2,1133.1 L821.8,1133.6 L823.4,1135.0 L825.0,1135.3 L826.6,1136.3 L828.2,1137.5 L829.8,1137.8 L831.4,1139.1 L833.0,1139.4 L834.6,1140.9 L836.2,1141.7 L837.8,1142.0 L839.4,1142.9 L841.0,1143.6 L842.6,1144.8 L844.2,1145.9 L845.8,1146.0 L847.4,1147.6 L849.0,1147.8 L850.6,1148.9 L852.2,1149.5 L853.8,1151.5 L855.4,1151.8 L857.0,1152.8 L858.6,1153.4 L860.2,1154.9 L861.8,1154.8 L863.4,1156.4 L865.0,1158.0 L866.6,1158.1 L868.2,1159.2 L869.8,1160.3 L871.4,1160.8 L873.0,1162.0 L874.6,1163.2 L876.2,1163.9 L877.8,1164.8 L879.4,1165.5 L881.0,1166.7 L882.6,1167.5 L884.2,1168.9 L885.8,1169.6 L887.4,1170.3 L889.0,1170.5 L890.6,1172.4 L892.2,1173.4 L893.8,1173.8 L895.4,1174.5 L897.0,1175.7 L898.6,1177.3 L900.2,1177.6 L901.8,1178.8 L903.4,1179.9 L905.0,1181.2 L906.6,1181.8 L908.2,1182.8 L909.8,1183.6 L911.4,1185.2 L913.0,1186.0 L914.6,1186.7 L916.2,1187.3 L917.8,1188.4 L919.4,1189.9 L921.0,1190.5 L922.6,1191.9 L924.2,1192.8 L925.8,1193.8 L927.4,1194.9 L929.0,1195.9 L930.6,1196.5 L932.2,1197.7 L933.8,1199.5 L935.4,1199.5 L937.0,1200.7 L938.6,1202.2 L940.2,1202.9 L941.8,1203.7 L943.4,1204.6 L945.0,1206.2 L946.6,1207.4 L948.2,1208.6 L949.8,1209.2 L951.4,1210.6 L953.0,1211.0 L954.6,1212.4 L956.2,1213.2 L957.8,1214.5 L959.4,1215.8 L961.0,1216.9 L962.6,1217.4 L964.2,1219.1 L965.8,1219.7 L967.4,1220.6 L969.0,1221.9 L970.6,1222.7 L972.2,1224.2 L973.8,1225.5 L975.4,1226.5 L977.0,1227.8 L978.6,1228.7 L980.2,1230.0 L981.8,1230.7 L983.4,1232.3 L985.0,1233.2 L986.6,1234.5 L988.2,1235.7 L989.8,1236.9 L991.4,1237.4 L993.0,1238.5 L994.6,1239.9 L996.2,1241.2 L997.8,1242.1 L999.4,1243.2 L1001.0,1244.3 L1002.6,1244.9 L1004.2,1245.6 L1005.8,1246.1 L1007.4,1247.0 L1009.0,1247.9 L1010.6,1248.9 L1012.2,1249.7 L1013.8,1250.4 L1015.4,1251.1 L1017.0,1252.1 L1018.6,1252.7 L1020.2,1253.5 L1021.8,1254.3 L1023.4,1254.8 L1025.0,1255.5 L1026.6,1256.8 L1028.2,1257.5 L1029.8,1258.1 L1031.4,1258.9 L1033.0,1260.5 L1034.6,1260.4 L1036.2,1261.4 L1037.8,1262.3 L1039.4,1262.7 L1041.0,1263.9 L1042.6,1265.2 L1044.2,1265.7 L1045.8,1266.4 L1047.4,1267.2 L1049.0,1267.9 L1050.6,1268.9 L1052.2,1269.4 L1053.8,1270.1 L1055.4,1271.1 L1057.0,1272.1 L1058.6,1272.8 L1060.2,1273.7 L1061.8,1273.6 L1063.4,1275.4 L1065.0,1276.6 L1066.6,1277.1 L1068.2,1277.4 L1069.8,1278.0 L1071.4,1279.1 L1073.0,1279.6 L1074.6,1280.9 L1076.2,1281.3 L1077.8,1282.6 L1079.4,1283.5 L1081.0,1283.3 L1082.6,1284.8 L1084.2,1285.3 L1085.8,1285.9 L1087.4,1286.9 L1089.0,1287.8 L1090.6,1288.9 L1092.2,1288.9 L1093.8,1290.5 L1095.4,1291.5 L1097.0,1291.9 L1098.6,1292.6 L1100.2,1293.2 L1101.8,1293.8 L1103.4,1294.8 L1105.0,1295.5 L1106.6,1296.3 L1108.2,1297.3 L1109.8,1297.8 L1111.4,1298.4 L1113.0,1299.3 L1114.6,1299.5 L1116.2,1300.2 L1117.8,1301.0 L1119.4,1301.6 L1121.0,1302.5 L1122.6,1303.0 L1124.2,1304.0 L1125.8,1304.6 L1127.4,1305.1 L1129.0,1305.6 L1130.6,1306.4 L1132.2,1307.1 L1133.8,1307.4 L1135.4,1308.3 L1137.0,1308.9 L1138.6,1309.5 L1140.2,1310.3 L1141.8,1310.9 L1143.4,1311.2 L1145.0,1311.9 L1146.6,1312.4 L1148.2,1313.2 L1149.8,1313.6 L1151.4,1314.5 L1153.0,1315.0 L1154.6,1315.7 L1156.2,1316.1 L1157.8,1316.5 L1159.4,1317.5 L1161.0,1317.8 L1162.6,1318.6 L1164.2,1319.0 L1165.8,1319.6 L1167.4,1320.4 L1169.0,1320.7 L1170.6,1321.4 L1172.2,1321.5 L1173.8,1322.4 L1175.4,1322.8 L1177.0,1323.4 L1178.6,1323.9 L1180.2,1324.5 L1181.8,1325.2 L1183.4,1325.2 L1185.0,1326.0 L1186.6,1326.4 L1188.2,1327.2 L1189.8,1327.5 L1191.4,1328.1 L1193.0,1328.5 L1194.6,1329.1 L1196.2,1329.7 L1197.8,1330.0 L1199.4,1330.5 L1201.0,1330.8 L1202.6,1331.5 L1204.2,1332.0 L1205.8,1332.3 L1207.4,1333.0 L1209.0,1333.0 L1210.6,1333.5 L1212.2,1334.0 L1213.8,1334.6 L1215.4,1335.1 L1217.0,1335.5 L1218.6,1336.0 L1220.2,1336.5 L1221.8,1336.8 L1223.4,1337.1 L1225.0,1337.6 L1226.6,1338.5 L1228.2,1338.2 L1229.8,1339.0 L1231.4,1339.7 L1233.0,1339.9 L1234.6,1340.2 L1236.2,1340.7 L1237.8,1341.2 L1239.4,1341.7 L1241.0,1341.8 L1242.6,1342.5 L1244.2,1342.8 L1245.8,1343.3 L1247.4,1343.8 L1249.0,1343.9 L1250.6,1344.2 L1252.2,1344.9 L1253.8,1345.5 L1255.4,1345.7 L1257.0,1346.1 L1258.6,1346.8 L1260.2,1346.7 L1261.8,1347.4 L1263.4,1347.6 L1265.0,1348.1 L1266.6,1348.5 L1268.2,1349.2 L1269.8,1349.2 L1271.4,1349.7 L1273.0,1349.9 L1274.6,1350.6 L1276.2,1350.9 L1277.8,1351.4 L1279.4,1351.6 L1281.0,1352.1 L1282.6,1352.7 L1284.2,1352.9 L1285.8,1353.4 L1287.4,1353.8 L1289.0,1354.0 L1290.6,1354.2 L1292.2,1354.9 L1293.8,1355.2 L1295.4,1355.6 L1297.0,1355.5 L1298.6,1355.9 L1300.2,1356.2 L1301.8,1356.7 L1303.4,1357.3 L1305.0,1357.6 L1306.6,1357.8 L1308.2,1358.1 L1309.8,1358.5 L1311.4,1358.7 L1313.0,1359.1 L1314.6,1359.3 L1316.2,1359.2 L1317.8,1359.7 L1319.4,1360.3 L1321.0,1360.2 L1322.6,1360.5 L1324.2,1360.7 L1325.8,1361.0 L1327.4,1361.4 L1329.0,1361.5 L1330.6,1361.6 L1332.2,1361.5 L1333.8,1362.1 L1335.4,1362.1 L1337.0,1362.4 L1338.6,1363.0 L1340.2,1363.2 L1341.8,1363.0 L1343.4,1363.6 L1345.0,1363.7 L1346.6,1363.8 L1348.2,1364.2 L1349.8,1364.0 L1351.4,1364.3 L1353.0,1364.5 L1354.6,1364.7 L1356.2,1365.2 L1357.8,1365.0 L1359.4,1365.3 L1361.0,1365.5 L1362.6,1365.8 L1364.2,1365.9 L1365.8,1366.3 L1367.4,1366.3 L1369.0,1366.4 L1370.6,1366.7 L1372.2,1366.9 L1373.8,1367.0 L1375.4,1367.3 L1377.0,1367.7 L1378.6,1367.6 L1380.2,1367.8 L1381.8,1368.2 L1383.4,1368.1 L1385.0,1368.3 L1386.6,1368.4 L1388.2,1368.8 L1389.8,1369.0 L1391.4,1369.1 L1393.0,1369.3 L1394.6,1369.7 L1396.2,1369.9 L1397.8,1369.7 L1399.4,1370.1 L1401.0,1370.3 L1402.6,1370.6 L1404.2,1370.7 L1405.8,1370.8 L1407.4,1371.1 L1409.0,1371.1 L1410.6,1371.5 L1412.2,1371.6 L1413.8,1372.0 L1415.4,1372.0 L1417.0,1372.3 L1418.6,1372.4 L1420.2,1372.6 L1421.8,1373.0 L1423.4,1373.1 L1425.0,1373.4 L1426.6,1373.4 L1428.2,1373.8 L1429.8,1373.7 L1431.4,1374.1 L1433.0,1374.3 L1434.6,1374.6 L1436.2,1374.8 L1437.8,1374.9 L1439.4,1375.3 L1441.0,1375.4 L1442.6,1375.6 L1444.2,1375.9 L1445.8,1375.9 L1447.4,1376.1 L1449.0,1376.4 L1450.6,1376.5 L1452.2,1376.8 L1453.8,1377.1 L1455.4,1377.2 L1457.0,1377.3 L1458.6,1377.3 L1460.2,1377.7 L1461.8,1377.9 L1463.4,1378.3 L1465.0,1378.2 L1466.6,1378.4 L1468.2,1378.8 L1469.8,1378.8 L1471.4,1379.0 L1473.0,1379.5 L1474.6,1379.7 L1476.2,1379.7 L1477.8,1379.8 L1479.4,1379.8 L1481.0,1380.3 L1482.6,1380.4 L1484.2,1380.6 L1485.8,1380.7 L1487.4,1380.9 L1489.0,1381.1 L1490.6,1381.4 L1492.2,1381.7 L1493.8,1381.7 L1495.4,1381.6 L1497.0,1381.9 L1498.6,1382.0 L1500.2,1382.3 L1501.8,1382.7 L1503.4,1382.8 L1505.0,1382.9 L1506.6,1383.2 L1508.2,1383.2 L1509.8,1383.3 L1511.4,1383.5 L1513.0,1383.8 L1514.6,1384.3 L1516.2,1384.0 L1517.8,1384.6 L1519.4,1384.8 L1521.0,1384.8 L1522.6,1385.0 L1524.2,1385.0 L1525.8,1385.3 L1527.4,1385.6 L1529.0,1385.7 L1530.6,1386.0 L1532.2,1386.2 L1533.8,1386.3 L1535.4,1386.4 L1537.0,1386.5 L1538.6,1386.8 L1540.2,1386.7 L1541.8,1387.1 L1543.4,1387.3 L1545.0,1387.3 L1546.6,1387.9 L1548.2,1387.6 L1549.8,1387.8 L1551.4,1388.1 L1553.0,1388.0 L1554.6,1388.3 L1556.2,1388.4 L1557.8,1388.6 L1559.4,1388.9 L1561.0,1389.1 L1562.6,1389.4 L1564.2,1389.5 L1565.8,1389.7 L1567.4,1389.8 L1569.0,1389.8 L1570.6,1390.2 L1572.2,1390.1 L1573.8,1390.2 L1575.4,1390.7 L1577.0,1390.7 L1578.6,1390.8 L1580.2,1391.0 L1581.8,1391.2 L1583.4,1391.0 L1585.0,1391.4 L1586.6,1391.4 L1588.2,1391.7 L1589.8,1391.7 L1591.4,1392.2 L1593.0,1392.2 L1594.6,1392.2 L1596.2,1392.4 L1597.8,1392.4 L1599.4,1392.8 L1601.0,1393.0 L1602.6,1393.1 L1604.2,1392.9 L1605.8,1393.3 L1607.4,1393.6 L1609.0,1393.8 L1610.6,1394.1 L1612.2,1393.9 L1613.8,1394.3 L1615.4,1394.3 L1617.0,1394.6 L1618.6,1394.8 L1620.2,1395.0 L1621.8,1395.0 L1623.4,1395.3 L1625.0,1395.3 L1626.6,1395.4 L1628.2,1395.9 L1629.8,1396.0 L1631.4,1395.9 L1633.0,1396.3 L1634.6,1396.6 L1636.2,1397.0 L1637.8,1397.2 L1639.4,1397.3 L1641.0,1397.2 L1642.6,1397.6 L1644.2,1397.9 L1645.8,1398.1 L1647.4,1398.4 L1649.0,1398.5 L1650.6,1399.0 L1652.2,1399.2 L1653.8,1399.2 L1655.4,1399.2 L1657.0,1399.9 L1658.6,1399.7 L1660.2,1400.2 L1661.8,1400.6 L1663.4,1400.3 L1665.0,1400.7 L1666.6,1400.9 L1668.2,1401.2 L1669.8,1401.4 L1671.4,1401.9 L1673.0,1401.9 L1674.6,1402.0 L1676.2,1402.3 L1677.8,1402.3 L1679.4,1402.5 L1681.0,1403.1 L1682.6,1402.8 L1684.2,1403.1 L1685.8,1403.3 L1687.4,1403.3 L1689.0,1403.4 L1690.6,1404.0 L1692.2,1403.9 L1693.8,1404.1 L1695.4,1404.3 L1697.0,1404.3 L1698.6,1404.4 L1700.2,1404.8 L1701.8,1405.2 L1703.4,1405.1 L1705.0,1405.3 L1706.6,1405.1 L1708.2,1405.4 L1709.8,1405.4 L1711.4,1405.8 L1713.0,1405.8 L1714.6,1405.9 L1716.2,1406.0 L1717.8,1406.1 L1719.4,1406.1 L1721.0,1406.5 L1722.6,1406.3 L1724.2,1406.5 L1725.8,1406.7 L1727.4,1406.8 L1729.0,1407.0 L1730.6,1407.3 L1732.2,1407.3 L1733.8,1407.4 L1735.4,1407.4 L1737.0,1407.7 L1738.6,1407.4 L1740.2,1407.8 L1741.8,1407.7 L1743.4,1407.8 L1745.0,1408.1 L1746.6,1408.1 L1748.2,1408.4 L1749.8,1408.5 L1751.4,1408.1 L1753.0,1408.6 L1754.6,1409.0 L1756.2,1408.9 L1757.8,1409.1 L1759.4,1409.0 L1761.0,1408.9 L1762.6,1409.0 L1764.2,1409.4 L1765.8,1409.5 L1767.4,1409.4 L1769.0,1409.5 L1770.6,1409.7 L1772.2,1409.5 L1773.8,1409.8 L1775.4,1410.2 L1777.0,1410.4 L1778.6,1410.1 L1780.2,1410.5 L1781.8,1410.3 L1783.4,1410.3 L1785.0,1410.2 L1786.6,1410.8 L1788.2,1410.7 L1789.8,1411.2 L1791.4,1411.0 L1793.0,1411.1 L1794.6,1410.9 L1796.2,1411.5 L1797.8,1411.3 L1799.4,1411.5 L1801.0,1411.2 L1802.6,1411.8 L1804.2,1411.9 L1805.8,1411.8 L1807.4,1412.0 L1809.0,1412.2 L1810.6,1412.3 L1812.2,1412.3 L1813.8,1412.7 L1815.4,1412.5 L1817.0,1412.5 L1818.6,1412.6 L1820.2,1412.4 L1821.8,1412.8 L1823.4,1413.2 L1825.0,1413.2 L1826.6,1413.1 L1828.2,1413.4 L1829.8,1413.1 L1831.4,1413.5 L1833.0,1413.7 L1834.6,1413.8 L1836.2,1413.7 L1837.8,1414.1 L1839.4,1414.3 L1841.0,1414.1 L1842.6,1414.3 L1844.2,1414.1 L1845.8,1414.1 L1847.4,1414.6 L1849.0,1414.6 L1850.6,1414.7 L1852.2,1414.7 L1853.8,1414.9 L1855.4,1415.1 L1857.0,1415.4 L1858.6,1415.2 L1860.2,1415.0 L1861.8,1415.6 L1863.4,1415.6 L1865.0,1415.7 L1866.6,1415.7 L1868.2,1416.1 L1869.8,1415.9 L1871.4,1416.0 L1873.0,1415.8 L1874.6,1416.0 L1876.2,1416.1 L1877.8,1416.3 L1879.4,1416.5 L1881.0,1416.4 L1882.6,1416.8 L1884.2,1416.5 L1885.8,1416.7 L1887.4,1416.9 L1889.0,1416.7 L1890.6,1417.1 L1892.2,1417.2 L1893.8,1417.1 L1895.4,1417.6 L1897.0,1417.4 L1898.6,1417.5 L1900.2,1417.4 L1901.8,1417.4 L1903.4,1417.6 L1905.0,1417.7 L1906.6,1417.8 L1908.2,1418.1 L1909.8,1417.7 L1911.4,1417.9 L1913.0,1417.9 L1914.6,1418.5 L1916.2,1418.3 L1917.8,1418.4 L1919.4,1418.4 L1921.0,1418.7 L1922.6,1418.6 L1924.2,1418.8 L1925.8,1418.5 L1927.4,1419.1 L1929.0,1419.1 L1930.6,1419.2 L1932.2,1419.3 L1933.8,1419.2 L1935.4,1419.3 L1937.0,1419.5 L1938.6,1419.5 L1940.2,1419.5 L1941.8,1419.6 L1943.4,1419.6 L1945.0,1419.9 L1946.6,1420.0 L1948.2,1419.9 L1949.8,1420.3 L1951.4,1419.9 L1953.0,1420.1 L1954.6,1420.5 L1956.2,1420.2 L1957.8,1420.1 L1959.4,1420.7 L1961.0,1420.6 L1962.6,1420.4 L1964.2,1420.8 L1965.8,1420.6 L1967.4,1420.6 L1969.0,1420.9 L1970.6,1420.9 L1972.2,1420.9 L1973.8,1421.0 L1975.4,1421.0 L1977.0,1421.3 L1978.6,1421.3 L1980.2,1421.5 L1981.8,1421.4 L1983.4,1421.3 L1985.0,1421.4 L1986.6,1421.6 L1988.2,1422.0 L1989.8,1421.9 L1991.4,1421.8 L1993.0,1422.1 L1994.6,1421.8 L1996.2,1422.2 L1997.8,1422.1 L1999.4,1422.3 L2001.0,1422.4 L2002.6,1422.3 L2004.2,1422.5 L2005.8,1422.3 L2007.4,1422.5 L2009.0,1422.8 L2010.6,1423.3 L2012.2,1422.8 L2013.8,1422.8 L2015.4,1422.7 L2017.0,1423.1 L2018.6,1422.7 L2020.2,1422.9 L2021.8,1423.2 L2023.4,1423.0 L2025.0,1423.5 L2026.6,1423.5 L2028.2,1423.3 L2029.8,1423.3 L2031.4,1423.3 L2033.0,1423.3 L2034.6,1423.7 L2036.2,1423.8 L2037.8,1423.8 L2039.4,1423.8 L2041.0,1423.8 L2042.6,1424.0 L2044.2,1423.8 L2045.8,1424.0 L2047.4,1424.3 L2049.0,1424.4 L2050.6,1424.2 L2052.2,1424.2 L2053.8,1424.6 L2055.4,1424.7 L2057.0,1424.2 L2058.6,1424.5 L2060.2,1424.6 L2061.8,1424.8 L2063.4,1424.6 L2065.0,1424.9 L2066.6,1424.8 L2068.2,1425.2 L2069.8,1425.0 L2071.4,1425.0 L2073.0,1425.0 L2074.6,1425.3 L2076.2,1425.3 L2077.8,1425.1 L2079.4,1425.3 L2081.0,1425.1 L2082.6,1425.3 L2084.2,1425.3 L2085.8,1425.3 L2087.4,1425.5 L2089.0,1425.5 L2090.6,1425.8 L2092.2,1425.9 L2093.8,1425.8 L2095.4,1425.7 L2097.0,1426.0 L2098.6,1425.7 L2100.2,1425.7 L2101.8,1426.2 L2103.4,1426.2 L2105.0,1426.3 L2106.6,1426.2 L2108.2,1426.1 L2109.8,1426.3 L2111.4,1426.5 L2113.0,1426.3 L2114.6,1426.4 L2116.2,1426.4 L2117.8,1426.4 L2119.4,1426.8 L2121.0,1426.8 L2122.6,1426.6 L2124.2,1426.7 L2125.8,1426.8 L2127.4,1427.0 L2129.0,1426.8 L2130.6,1427.0 L2132.2,1426.8 L2133.8,1427.0 L2135.4,1427.3 L2137.0,1427.4 L2138.6,1427.1 L2140.2,1427.3 L2141.8,1427.5 L2143.4,1427.4 L2145.0,1427.4 L2146.6,1427.7 L2148.2,1427.7 L2149.8,1427.8 L2151.4,1427.8 L2153.0,1427.7 L2154.6,1427.8 L2156.2,1427.9 L2157.8,1427.7 L2159.4,1427.8 L2161.0,1428.2 L2162.6,1427.8 L2164.2,1428.3 L2165.8,1428.2 L2167.4,1428.2 L2169.0,1428.4 L2170.6,1428.4 L2172.2,1428.6 L2173.8,1428.4 L2175.4,1428.4 L2177.0,1428.5 L2178.6,1428.9 L2180.2,1428.8 L2181.8,1428.5 L2183.4,1428.7 L2185.0,1428.7 L2186.0,1428.8" stroke="#878a03"/><path d="M281.0,1379.5 L282.6,1379.1 L284.2,1376.7 L285.8,1375.7 L287.4,1370.4 L289.0,1369.4 L290.6,1370.8 L292.2,1377.0 L293.8,1388.5 L295.4,1384.2 L297.0,1378.4 L298.6,1366.0 L300.2,1352.4 L301.8,1345.0 L303.4,1337.1 L305.0,1327.9 L306.6,1318.4 L308.2,1312.9 L309.8,1301.9 L311.4,1293.4 L313.0,1281.8 L314.6,1272.5 L316.2,1259.5 L317.8,1249.4 L319.4,1239.1 L321.0,1226.9 L322.6,1215.4 L324.2,1204.3 L325.8,1196.9 L327.4,1187.9 L329.0,1177.5 L330.6,1167.2 L332.2,1160.0 L333.8,1153.6 L335.4,1138.7 L337.0,1130.2 L338.6,1119.9 L340.2,1102.6 L341.8,1092.6 L343.4,1072.5 L345.0,1054.8 L346.6,1028.8 L348.2,1004.2 L349.8,982.1 L351.4,961.5 L353.0,940.7 L354.6,922.9 L356.2,902.3 L357.8,886.5 L359.4,870.7 L361.0,855.2 L362.6,835.1 L364.2,816.2 L365.8,799.1 L367.4,779.5 L369.0,760.4 L370.6,736.6 L372.2,709.4 L373.8,684.1 L375.4,658.4 L377.0,634.9 L378.6,614.4 L380.2,596.9 L381.8,584.3 L383.4,578.0 L385.0,562.1 L386.6,539.7 L388.2,505.3 L389.8,468.7 L391.4,448.7 L393.0,435.1 L394.6,422.7 L396.2,416.1 L397.8,407.4 L399.4,391.8 L401.0,385.1 L402.6,373.9 L404.2,365.7 L405.8,361.6 L407.4,354.7 L409.0,351.7 L410.6,349.0 L412.2,348.3 L413.8,350.8 L415.4,351.8 L417.0,357.2 L418.6,365.3 L420.2,369.8 L421.8,377.8 L423.4,382.2 L425.0,393.3 L426.6,403.0 L428.2,414.8 L429.8,425.2 L431.4,438.9 L433.0,446.4 L434.6,453.8 L436.2,459.9 L437.8,467.0 L439.4,470.9 L441.0,480.7 L442.6,487.1 L444.2,494.6 L445.8,503.3 L447.4,515.1 L449.0,525.8 L450.6,532.3 L452.2,536.9 L453.8,542.6 L455.4,545.7 L457.0,552.0 L458.6,553.6 L460.2,553.4 L461.8,562.6 L463.4,563.6 L465.0,564.5 L466.6,569.2 L468.2,570.4 L469.8,577.5 L471.4,575.3 L473.0,571.5 L474.6,575.3 L476.2,573.4 L477.8,577.4 L479.4,571.9 L481.0,569.5 L482.6,573.5 L484.2,572.5 L485.8,572.2 L487.4,569.0 L489.0,573.5 L490.6,575.7 L492.2,569.3 L493.8,575.0 L495.4,572.0 L497.0,577.5 L498.6,574.3 L500.2,573.5 L501.8,576.0 L503.4,575.2 L505.0,573.4 L506.6,575.9 L508.2,573.9 L509.8,571.7 L511.4,578.7 L513.0,574.5 L514.6,574.2 L516.2,576.1 L517.8,572.9 L519.4,573.6 L521.0,575.6 L522.6,576.5 L524.2,578.9 L525.8,582.4 L527.4,581.5 L529.0,585.2 L530.6,587.4 L532.2,586.4 L533.8,590.5 L535.4,590.1 L537.0,595.3 L538.6,595.9 L540.2,596.8 L541.8,596.0 L543.4,600.4 L545.0,600.5 L546.6,605.0 L548.2,605.4 L549.8,606.0 L551.4,611.2 L553.0,612.9 L554.6,612.8 L556.2,618.3 L557.8,618.0 L559.4,620.5 L561.0,623.7 L562.6,625.3 L564.2,628.2 L565.8,631.0 L567.4,635.2 L569.0,637.6 L570.6,638.4 L572.2,642.7 L573.8,643.6 L575.4,646.6 L577.0,649.6 L578.6,651.6 L580.2,656.3 L581.8,656.7 L583.4,657.9 L585.0,663.0 L586.6,663.9 L588.2,666.6 L589.8,666.6 L591.4,673.2 L593.0,675.7 L594.6,678.4 L596.2,681.3 L597.8,684.7 L599.4,685.8 L601.0,689.6 L602.6,690.8 L604.2,694.1 L605.8,698.5 L607.4,700.8 L609.0,702.1 L610.6,706.8 L612.2,709.4 L613.8,711.9 L615.4,716.4 L617.0,718.8 L618.6,721.1 L620.2,725.0 L621.8,731.5 L623.4,732.1 L625.0,737.8 L626.6,742.2 L628.2,746.4 L629.8,748.7 L631.4,753.8 L633.0,758.4 L634.6,763.1 L636.2,765.6 L637.8,768.9 L639.4,774.7 L641.0,778.3 L642.6,781.0 L644.2,783.4 L645.8,787.8 L647.4,790.9 L649.0,795.1 L650.6,796.5 L652.2,801.5 L653.8,805.0 L655.4,808.0 L657.0,813.5 L658.6,817.6 L660.2,821.7 L661.8,827.0 L663.4,829.9 L665.0,835.9 L666.6,841.0 L668.2,845.5 L669.8,850.8 L671.4,853.0 L673.0,856.9 L674.6,862.8 L676.2,867.2 L677.8,872.9 L679.4,875.4 L681.0,877.9 L682.6,883.6 L684.2,886.0 L685.8,889.5 L687.4,897.7 L689.0,899.6 L690.6,904.4 L692.2,908.7 L693.8,914.6 L695.4,917.7 L697.0,923.3 L698.6,925.7 L700.2,930.3 L701.8,936.2 L703.4,940.4 L705.0,943.9 L706.6,947.8 L708.2,951.6 L709.8,954.9 L711.4,959.8 L713.0,962.6 L714.6,965.7 L716.2,968.7 L717.8,972.1 L719.4,974.7 L721.0,977.6 L722.6,979.2 L724.2,982.8 L725.8,986.3 L727.4,987.1 L729.0,989.5 L730.6,992.3 L732.2,994.4 L733.8,996.1 L735.4,996.7 L737.0,999.7 L738.6,1000.5 L740.2,1002.4 L741.8,1004.9 L743.4,1006.1 L745.0,1008.4 L746.6,1011.4 L748.2,1011.7 L749.8,1013.4 L751.4,1014.2 L753.0,1016.1 L754.6,1017.5 L756.2,1019.3 L757.8,1020.4 L759.4,1021.9 L761.0,1023.3 L762.6,1023.9 L764.2,1024.7 L765.8,1025.7 L767.4,1027.8 L769.0,1028.4 L770.6,1029.9 L772.2,1030.7 L773.8,1030.7 L775.4,1032.1 L777.0,1031.7 L778.6,1034.7 L780.2,1034.8 L781.8,1034.7 L783.4,1034.8 L785.0,1036.5 L786.6,1035.9 L788.2,1037.4 L789.8,1039.1 L791.4,1039.5 L793.0,1039.9 L794.6,1041.6 L796.2,1041.3 L797.8,1042.9 L799.4,1043.3 L801.0,1044.2 L802.6,1045.4 L804.2,1045.8 L805.8,1047.5 L807.4,1047.6 L809.0,1049.2 L810.6,1049.1 L812.2,1050.4 L813.8,1050.7 L815.4,1051.5 L817.0,1052.8 L818.6,1053.7 L820.2,1054.0 L821.8,1055.6 L823.4,1055.8 L825.0,1057.0 L826.6,1057.9 L828.2,1058.9 L829.8,1059.0 L831.4,1060.9 L833.0,1061.5 L834.6,1062.1 L836.2,1062.9 L837.8,1063.6 L839.4,1064.6 L841.0,1066.1 L842.6,1066.8 L844.2,1067.5 L845.8,1068.6 L847.4,1070.2 L849.0,1070.5 L850.6,1071.4 L852.2,1073.0 L853.8,1073.7 L855.4,1074.5 L857.0,1075.3 L858.6,1076.0 L860.2,1077.1 L861.8,1078.3 L863.4,1079.4 L865.0,1080.6 L866.6,1081.7 L868.2,1082.6 L869.8,1083.7 L871.4,1084.4 L873.0,1085.1 L874.6,1086.6 L876.2,1087.6 L877.8,1088.8 L879.4,1090.0 L881.0,1090.8 L882.6,1092.0 L884.2,1093.4 L885.8,1094.7 L887.4,1095.6 L889.0,1097.1 L890.6,1098.1 L892.2,1099.0 L893.8,1100.5 L895.4,1102.3 L897.0,1102.7 L898.6,1104.5 L900.2,1105.8 L901.8,1107.0 L903.4,1107.5 L905.0,1109.6 L906.6,1110.3 L908.2,1111.4 L909.8,1112.6 L911.4,1114.1 L913.0,1115.2 L914.6,1116.4 L916.2,1118.1 L917.8,1118.8 L919.4,1120.0 L921.0,1121.9 L922.6,1123.1 L924.2,1124.6 L925.8,1125.2 L927.4,1127.2 L929.0,1128.3 L930.6,1130.0 L932.2,1130.4 L933.8,1132.1 L935.4,1133.2 L937.0,1134.1 L938.6,1135.6 L940.2,1137.4 L941.8,1138.2 L943.4,1139.3 L945.0,1141.0 L946.6,1142.2 L948.2,1143.4 L949.8,1144.0 L951.4,1145.4 L953.0,1146.9 L954.6,1147.6 L956.2,1148.7 L957.8,1150.3 L959.4,1151.7 L961.0,1152.0 L962.6,1152.7 L964.2,1154.1 L965.8,1155.4 L967.4,1156.8 L969.0,1158.1 L970.6,1159.0 L972.2,1159.9 L973.8,1161.3 L975.4,1162.0 L977.0,1163.4 L978.6,1164.3 L980.2,1166.4 L981.8,1166.9 L983.4,1167.5 L985.0,1168.6 L986.6,1169.8 L988.2,1170.5 L989.8,1171.9 L991.4,1172.9 L993.0,1174.5 L994.6,1175.1 L996.2,1176.1 L997.8,1176.9 L999.4,1178.0 L1001.0,1179.5 L1002.6,1180.5 L1004.2,1182.0 L1005.8,1182.5 L1007.4,1184.1 L1009.0,1185.0 L1010.6,1186.0 L1012.2,1186.5 L1013.8,1187.9 L1015.4,1189.6 L1017.0,1190.9 L1018.6,1191.7 L1020.2,1193.1 L1021.8,1193.9 L1023.4,1195.1 L1025.0,1196.2 L1026.6,1198.0 L1028.2,1199.1 L1029.8,1200.3 L1031.4,1201.6 L1033.0,1203.2 L1034.6,1204.5 L1036.2,1205.5 L1037.8,1207.6 L1039.4,1208.4 L1041.0,1209.6 L1042.6,1211.3 L1044.2,1212.4 L1045.8,1213.2 L1047.4,1214.4 L1049.0,1215.0 L1050.6,1216.2 L1052.2,1216.7 L1053.8,1218.7 L1055.4,1218.7 L1057.0,1220.4 L1058.6,1220.9 L1060.2,1221.8 L1061.8,1222.9 L1063.4,1224.0 L1065.0,1225.0 L1066.6,1226.3 L1068.2,1226.8 L1069.8,1227.9 L1071.4,1228.4 L1073.0,1229.7 L1074.6,1230.5 L1076.2,1231.3 L1077.8,1232.4 L1079.4,1233.3 L1081.0,1234.4 L1082.6,1235.4 L1084.2,1236.1 L1085.8,1237.0 L1087.4,1238.4 L1089.0,1238.6 L1090.6,1239.9 L1092.2,1241.5 L1093.8,1241.2 L1095.4,1242.7 L1097.0,1244.1 L1098.6,1244.4 L1100.2,1246.3 L1101.8,1246.5 L1103.4,1248.1 L1105.0,1249.1 L1106.6,1250.0 L1108.2,1250.7 L1109.8,1251.8 L1111.4,1252.5 L1113.0,1253.7 L1114.6,1254.3 L1116.2,1255.3 L1117.8,1256.4 L1119.4,1256.9 L1121.0,1257.8 L1122.6,1258.7 L1124.2,1259.3 L1125.8,1260.5 L1127.4,1261.1 L1129.0,1261.6 L1130.6,1262.6 L1132.2,1263.3 L1133.8,1264.1 L1135.4,1265.0 L1137.0,1265.7 L1138.6,1266.7 L1140.2,1267.3 L1141.8,1268.4 L1143.4,1269.0 L1145.0,1270.0 L1146.6,1270.6 L1148.2,1271.4 L1149.8,1272.2 L1151.4,1273.2 L1153.0,1274.1 L1154.6,1275.1 L1156.2,1275.7 L1157.8,1276.3 L1159.4,1277.0 L1161.0,1277.8 L1162.6,1278.5 L1164.2,1279.4 L1165.8,1280.0 L1167.4,1280.4 L1169.0,1281.0 L1170.6,1282.0 L1172.2,1282.4 L1173.8,1283.0 L1175.4,1283.8 L1177.0,1284.2 L1178.6,1284.8 L1180.2,1285.4 L1181.8,1285.8 L1183.4,1286.9 L1185.0,1287.2 L1186.6,1287.9 L1188.2,1288.6 L1189.8,1289.5 L1191.4,1290.0 L1193.0,1290.7 L1194.6,1291.1 L1196.2,1292.0 L1197.8,1292.4 L1199.4,1293.3 L1201.0,1294.0 L1202.6,1294.5 L1204.2,1295.5 L1205.8,1295.8 L1207.4,1296.4 L1209.0,1296.9 L1210.6,1297.4 L1212.2,1298.1 L1213.8,1298.6 L1215.4,1298.8 L1217.0,1299.6 L1218.6,1300.1 L1220.2,1300.6 L1221.8,1301.1 L1223.4,1301.3 L1225.0,1301.8 L1226.6,1302.7 L1228.2,1302.9 L1229.8,1303.2 L1231.4,1303.9 L1233.0,1304.2 L1234.6,1304.5 L1236.2,1304.9 L1237.8,1305.4 L1239.4,1306.1 L1241.0,1306.5 L1242.6,1306.9 L1244.2,1307.5 L1245.8,1307.9 L1247.4,1308.0 L1249.0,1308.7 L1250.6,1309.0 L1252.2,1309.4 L1253.8,1309.9 L1255.4,1310.4 L1257.0,1310.8 L1258.6,1311.1 L1260.2,1311.7 L1261.8,1312.5 L1263.4,1312.4 L1265.0,1312.8 L1266.6,1313.5 L1268.2,1313.9 L1269.8,1314.3 L1271.4,1314.5 L1273.0,1315.2 L1274.6,1315.4 L1276.2,1315.7 L1277.8,1316.2 L1279.4,1316.7 L1281.0,1317.2 L1282.6,1317.6 L1284.2,1317.9 L1285.8,1318.5 L1287.4,1318.8 L1289.0,1319.3 L1290.6,1319.3 L1292.2,1319.7 L1293.8,1320.4 L1295.4,1320.5 L1297.0,1321.1 L1298.6,1321.5 L1300.2,1321.8 L1301.8,1322.2 L1303.4,1322.8 L1305.0,1322.6 L1306.6,1323.5 L1308.2,1324.1 L1309.8,1324.1 L1311.4,1324.5 L1313.0,1325.0 L1314.6,1325.5 L1316.2,1325.4 L1317.8,1325.9 L1319.4,1326.3 L1321.0,1326.7 L1322.6,1327.0 L1324.2,1327.4 L1325.8,1327.6 L1327.4,1328.0 L1329.0,1328.3 L1330.6,1328.6 L1332.2,1329.0 L1333.8,1329.4 L1335.4,1329.5 L1337.0,1330.3 L1338.6,1330.3 L1340.2,1330.5 L1341.8,1331.2 L1343.4,1331.2 L1345.0,1331.7 L1346.6,1331.9 L1348.2,1332.3 L1349.8,1332.6 L1351.4,1332.8 L1353.0,1333.2 L1354.6,1333.8 L1356.2,1333.4 L1357.8,1334.1 L1359.4,1334.4 L1361.0,1334.5 L1362.6,1334.7 L1364.2,1335.5 L1365.8,1335.4 L1367.4,1336.1 L1369.0,1336.1 L1370.6,1336.4 L1372.2,1336.7 L1373.8,1337.0 L1375.4,1337.4 L1377.0,1337.5 L1378.6,1337.8 L1380.2,1338.0 L1381.8,1338.5 L1383.4,1338.7 L1385.0,1338.7 L1386.6,1339.0 L1388.2,1339.4 L1389.8,1339.6 L1391.4,1339.9 L1393.0,1340.1 L1394.6,1340.4 L1396.2,1340.8 L1397.8,1341.2 L1399.4,1341.3 L1401.0,1341.9 L1402.6,1341.8 L1404.2,1342.6 L1405.8,1342.5 L1407.4,1342.7 L1409.0,1342.9 L1410.6,1342.8 L1412.2,1343.4 L1413.8,1343.8 L1415.4,1344.3 L1417.0,1344.1 L1418.6,1344.8 L1420.2,1344.8 L1421.8,1345.2 L1423.4,1345.0 L1425.0,1345.6 L1426.6,1345.8 L1428.2,1346.2 L1429.8,1346.4 L1431.4,1346.5 L1433.0,1347.1 L1434.6,1347.3 L1436.2,1347.5 L1437.8,1347.9 L1439.4,1348.1 L1441.0,1348.2 L1442.6,1348.3 L1444.2,1348.5 L1445.8,1349.2 L1447.4,1349.4 L1449.0,1349.5 L1450.6,1349.7 L1452.2,1350.0 L1453.8,1350.3 L1455.4,1350.5 L1457.0,1350.7 L1458.6,1351.3 L1460.2,1351.3 L1461.8,1351.4 L1463.4,1351.6 L1465.0,1351.9 L1466.6,1352.3 L1468.2,1352.6 L1469.8,1352.7 L1471.4,1353.0 L1473.0,1353.2 L1474.6,1353.3 L1476.2,1353.9 L1477.8,1354.0 L1479.4,1354.5 L1481.0,1354.3 L1482.6,1354.6 L1484.2,1355.0 L1485.8,1355.1 L1487.4,1355.1 L1489.0,1355.4 L1490.6,1355.8 L1492.2,1356.1 L1493.8,1356.2 L1495.4,1356.6 L1497.0,1356.8 L1498.6,1357.0 L1500.2,1357.2 L1501.8,1357.3 L1503.4,1357.7 L1505.0,1358.0 L1506.6,1358.1 L1508.2,1358.3 L1509.8,1358.4 L1511.4,1358.5 L1513.0,1358.8 L1514.6,1359.3 L1516.2,1359.4 L1517.8,1359.8 L1519.4,1359.8 L1521.0,1360.2 L1522.6,1360.4 L1524.2,1360.6 L1525.8,1360.6 L1527.4,1360.9 L1529.0,1361.1 L1530.6,1361.2 L1532.2,1361.6 L1533.8,1361.9 L1535.4,1361.9 L1537.0,1362.5 L1538.6,1362.3 L1540.2,1362.6 L1541.8,1362.8 L1543.4,1362.9 L1545.0,1363.3 L1546.6,1363.4 L1548.2,1363.9 L1549.8,1363.9 L1551.4,1364.1 L1553.0,1364.2 L1554.6,1364.3 L1556.2,1364.7 L1557.8,1364.8 L1559.4,1365.2 L1561.0,1365.3 L1562.6,1365.8 L1564.2,1365.8 L1565.8,1366.0 L1567.4,1366.2 L1569.0,1366.4 L1570.6,1366.6 L1572.2,1366.9 L1573.8,1366.8 L1575.4,1367.2 L1577.0,1367.7 L1578.6,1367.5 L1580.2,1367.7 L1581.8,1367.8 L1583.4,1367.9 L1585.0,1368.5 L1586.6,1368.5 L1588.2,1368.8 L1589.8,1369.2 L1591.4,1369.5 L1593.0,1369.2 L1594.6,1369.7 L1596.2,1369.8 L1597.8,1370.0 L1599.4,1370.2 L1601.0,1370.3 L1602.6,1370.7 L1604.2,1370.8 L1605.8,1370.9 L1607.4,1371.2 L1609.0,1371.4 L1610.6,1371.5 L1612.2,1371.7 L1613.8,1372.1 L1615.4,1372.1 L1617.0,1372.2 L1618.6,1372.3 L1620.2,1372.5 L1621.8,1372.6 L1623.4,1373.0 L1625.0,1373.2 L1626.6,1373.0 L1628.2,1373.5 L1629.8,1373.8 L1631.4,1373.9 L1633.0,1374.0 L1634.6,1374.5 L1636.2,1374.4 L1637.8,1374.5 L1639.4,1374.7 L1641.0,1375.0 L1642.6,1375.4 L1644.2,1375.6 L1645.8,1375.6 L1647.4,1375.6 L1649.0,1375.9 L1650.6,1376.0 L1652.2,1376.3 L1653.8,1376.3 L1655.4,1376.7 L1657.0,1377.0 L1658.6,1377.1 L1660.2,1377.3 L1661.8,1377.3 L1663.4,1377.4 L1665.0,1377.7 L1666.6,1378.2 L1668.2,1378.3 L1669.8,1378.3 L1671.4,1378.7 L1673.0,1378.7 L1674.6,1379.1 L1676.2,1379.2 L1677.8,1379.2 L1679.4,1379.5 L1681.0,1379.5 L1682.6,1379.6 L1684.2,1379.7 L1685.8,1380.2 L1687.4,1380.3 L1689.0,1380.4 L1690.6,1380.6 L1692.2,1381.0 L1693.8,1380.9 L1695.4,1381.0 L1697.0,1381.5 L1698.6,1381.6 L1700.2,1381.6 L1701.8,1381.5 L1703.4,1381.8 L1705.0,1382.2 L1706.6,1382.2 L1708.2,1382.6 L1709.8,1382.3 L1711.4,1382.8 L1713.0,1382.7 L1714.6,1383.2 L1716.2,1383.1 L1717.8,1383.4 L1719.4,1383.3 L1721.0,1383.4 L1722.6,1383.6 L1724.2,1383.8 L1725.8,1383.9 L1727.4,1384.4 L1729.0,1384.5 L1730.6,1384.5 L1732.2,1384.5 L1733.8,1384.7 L1735.4,1384.8 L1737.0,1385.3 L1738.6,1385.2 L1740.2,1385.4 L1741.8,1385.4 L1743.4,1385.3 L1745.0,1385.6 L1746.6,1385.7 L1748.2,1386.1 L1749.8,1386.2 L1751.4,1386.2 L1753.0,1386.4 L1754.6,1386.8 L1756.2,1386.6 L1757.8,1386.7 L1759.4,1387.0 L1761.0,1387.0 L1762.6,1387.2 L1764.2,1387.5 L1765.8,1387.8 L1767.4,1387.4 L1769.0,1387.8 L1770.6,1388.0 L1772.2,1388.1 L1773.8,1388.2 L1775.4,1388.3 L1777.0,1388.6 L1778.6,1388.6 L1780.2,1388.7 L1781.8,1388.9 L1783.4,1389.0 L1785.0,1389.1 L1786.6,1389.4 L1788.2,1389.4 L1789.8,1389.6 L1791.4,1389.7 L1793.0,1389.7 L1794.6,1389.8 L1796.2,1389.9 L1797.8,1390.3 L1799.4,1390.3 L1801.0,1390.3 L1802.6,1390.7 L1804.2,1390.8 L1805.8,1390.6 L1807.4,1391.3 L1809.0,1391.2 L1810.6,1391.3 L1812.2,1391.6 L1813.8,1391.6 L1815.4,1391.6 L1817.0,1392.2 L1818.6,1391.8 L1820.2,1392.1 L1821.8,1392.3 L1823.4,1392.2 L1825.0,1392.5 L1826.6,1392.7 L1828.2,1393.1 L1829.8,1392.7 L1831.4,1393.0 L1833.0,1393.2 L1834.6,1393.3 L1836.2,1393.2 L1837.8,1393.6 L1839.4,1393.7 L1841.0,1393.8 L1842.6,1394.1 L1844.2,1394.2 L1845.8,1394.2 L1847.4,1394.3 L1849.0,1394.2 L1850.6,1394.5 L1852.2,1394.7 L1853.8,1394.7 L1855.4,1394.9 L1857.0,1394.9 L1858.6,1395.4 L1860.2,1395.6 L1861.8,1395.3 L1863.4,1395.6 L1865.0,1395.6 L1866.6,1396.0 L1868.2,1396.0 L1869.8,1396.0 L1871.4,1396.1 L1873.0,1396.3 L1874.6,1396.2 L1876.2,1396.6 L1877.8,1396.5 L1879.4,1396.8 L1881.0,1396.9 L1882.6,1397.1 L1884.2,1397.1 L1885.8,1397.4 L1887.4,1397.2 L1889.0,1397.5 L1890.6,1397.5 L1892.2,1397.7 L1893.8,1397.8 L1895.4,1398.1 L1897.0,1397.7 L1898.6,1398.2 L1900.2,1398.1 L1901.8,1398.6 L1903.4,1398.2 L1905.0,1398.5 L1906.6,1398.5 L1908.2,1399.1 L1909.8,1398.8 L1911.4,1399.1 L1913.0,1399.1 L1914.6,1399.0 L1916.2,1399.4 L1917.8,1399.6 L1919.4,1399.6 L1921.0,1399.9 L1922.6,1399.8 L1924.2,1400.0 L1925.8,1400.1 L1927.4,1400.3 L1929.0,1400.6 L1930.6,1400.5 L1932.2,1400.6 L1933.8,1400.6 L1935.4,1400.7 L1937.0,1401.1 L1938.6,1400.8 L1940.2,1401.0 L1941.8,1401.2 L1943.4,1401.3 L1945.0,1401.7 L1946.6,1401.2 L1948.2,1401.7 L1949.8,1401.9 L1951.4,1401.7 L1953.0,1401.9 L1954.6,1402.2 L1956.2,1402.5 L1957.8,1402.2 L1959.4,1402.2 L1961.0,1402.7 L1962.6,1402.9 L1964.2,1402.7 L1965.8,1402.5 L1967.4,1403.2 L1969.0,1403.0 L1970.6,1403.3 L1972.2,1403.3 L1973.8,1403.3 L1975.4,1403.4 L1977.0,1403.8 L1978.6,1403.9 L1980.2,1403.5 L1981.8,1403.7 L1983.4,1404.3 L1985.0,1404.0 L1986.6,1404.0 L1988.2,1404.3 L1989.8,1404.4 L1991.4,1404.5 L1993.0,1404.5 L1994.6,1404.7 L1996.2,1404.7 L1997.8,1405.0 L1999.4,1404.9 L2001.0,1405.1 L2002.6,1405.2 L2004.2,1405.5 L2005.8,1405.5 L2007.4,1405.5 L2009.0,1405.7 L2010.6,1405.8 L2012.2,1406.0 L2013.8,1406.0 L2015.4,1406.3 L2017.0,1406.3 L2018.6,1406.2 L2020.2,1406.2 L2021.8,1406.5 L2023.4,1406.6 L2025.0,1406.6 L2026.6,1406.5 L2028.2,1406.5 L2029.8,1406.9 L2031.4,1407.1 L2033.0,1407.2 L2034.6,1407.0 L2036.2,1407.4 L2037.8,1407.3 L2039.4,1407.5 L2041.0,1407.6 L2042.6,1407.5 L2044.2,1407.6 L2045.8,1407.5 L2047.4,1407.8 L2049.0,1407.7 L2050.6,1408.1 L2052.2,1408.2 L2053.8,1408.4 L2055.4,1408.4 L2057.0,1408.4 L2058.6,1408.6 L2060.2,1408.6 L2061.8,1408.8 L2063.4,1408.9 L2065.0,1408.7 L2066.6,1409.0 L2068.2,1409.1 L2069.8,1409.1 L2071.4,1409.4 L2073.0,1409.6 L2074.6,1409.4 L2076.2,1409.5 L2077.8,1409.3 L2079.4,1409.7 L2081.0,1409.7 L2082.6,1409.5 L2084.2,1410.0 L2085.8,1410.1 L2087.4,1410.0 L2089.0,1410.1 L2090.6,1410.1 L2092.2,1410.5 L2093.8,1410.2 L2095.4,1410.5 L2097.0,1410.9 L2098.6,1410.7 L2100.2,1410.9 L2101.8,1410.9 L2103.4,1410.8 L2105.0,1411.0 L2106.6,1411.2 L2108.2,1411.1 L2109.8,1411.4 L2111.4,1411.6 L2113.0,1411.6 L2114.6,1411.3 L2116.2,1411.5 L2117.8,1411.5 L2119.4,1412.0 L2121.0,1412.0 L2122.6,1412.1 L2124.2,1411.9 L2125.8,1411.9 L2127.4,1412.2 L2129.0,1412.3 L2130.6,1412.2 L2132.2,1412.5 L2133.8,1412.6 L2135.4,1412.6 L2137.0,1412.5 L2138.6,1412.4 L2140.2,1412.8 L2141.8,1412.9 L2143.4,1413.0 L2145.0,1413.0 L2146.6,1413.1 L2148.2,1413.3 L2149.8,1413.3 L2151.4,1413.4 L2153.0,1413.3 L2154.6,1413.5 L2156.2,1413.6 L2157.8,1413.5 L2159.4,1413.6 L2161.0,1413.8 L2162.6,1414.1 L2164.2,1414.0 L2165.8,1414.3 L2167.4,1414.1 L2169.0,1414.2 L2170.6,1414.1 L2172.2,1414.3 L2173.8,1414.7 L2175.4,1414.6 L2177.0,1414.7 L2178.6,1414.8 L2180.2,1414.7 L2181.8,1414.8 L2183.4,1414.9 L2185.0,1415.1 L2186.0,1415.1" stroke="#fd6205"/><path d="M281.0,1344.1 L282.6,1336.9 L284.2,1332.7 L285.8,1333.8 L287.4,1343.5 L289.0,1346.7 L290.6,1343.1 L292.2,1339.0 L293.8,1333.0 L295.4,1335.3 L297.0,1333.6 L298.6,1333.2 L300.2,1327.8 L301.8,1319.0 L303.4,1305.8 L305.0,1291.7 L306.6,1278.3 L308.2,1263.6 L309.8,1250.4 L311.4,1236.3 L313.0,1225.6 L314.6,1211.7 L316.2,1200.8 L317.8,1190.4 L319.4,1174.9 L321.0,1160.2 L322.6,1149.7 L324.2,1137.6 L325.8,1126.8 L327.4,1118.9 L329.0,1106.3 L330.6,1097.5 L332.2,1101.2 L333.8,1102.2 L335.4,1095.7 L337.0,1087.0 L338.6,1075.6 L340.2,1061.7 L341.8,1045.2 L343.4,1027.5 L345.0,1008.2 L346.6,989.0 L348.2,971.0 L349.8,952.8 L351.4,931.3 L353.0,915.5 L354.6,897.3 L356.2,876.4 L357.8,858.7 L359.4,836.0 L361.0,814.3 L362.6,797.8 L364.2,775.5 L365.8,753.8 L367.4,732.1 L369.0,707.7 L370.6,681.3 L372.2,651.9 L373.8,632.7 L375.4,614.0 L377.0,598.2 L378.6,590.8 L380.2,585.4 L381.8,573.1 L383.4,553.2 L385.0,524.0 L386.6,477.8 L388.2,438.5 L389.8,416.1 L391.4,398.1 L393.0,380.5 L394.6,369.0 L396.2,352.5 L397.8,337.0 L399.4,324.6 L401.0,312.3 L402.6,298.1 L404.2,290.5 L405.8,281.9 L407.4,279.7 L409.0,264.6 L410.6,259.5 L412.2,252.8 L413.8,254.4 L415.4,259.8 L417.0,264.3 L418.6,269.6 L420.2,273.4 L421.8,277.5 L423.4,283.2 L425.0,290.5 L426.6,295.9 L428.2,302.7 L429.8,306.3 L431.4,312.8 L433.0,319.0 L434.6,321.9 L436.2,324.2 L437.8,329.8 L439.4,334.2 L441.0,344.5 L442.6,344.8 L444.2,353.3 L445.8,357.1 L447.4,364.4 L449.0,368.3 L450.6,370.7 L452.2,374.1 L453.8,377.6 L455.4,380.3 L457.0,381.5 L458.6,384.7 L460.2,390.2 L461.8,387.0 L463.4,393.0 L465.0,392.8 L466.6,395.7 L468.2,396.7 L469.8,394.3 L471.4,394.7 L473.0,389.1 L474.6,392.5 L476.2,388.2 L477.8,389.4 L479.4,387.8 L481.0,382.1 L482.6,384.7 L484.2,385.9 L485.8,387.6 L487.4,384.7 L489.0,384.1 L490.6,380.5 L492.2,385.0 L493.8,385.1 L495.4,381.2 L497.0,380.0 L498.6,376.7 L500.2,380.4 L501.8,382.8 L503.4,378.4 L505.0,378.6 L506.6,376.7 L508.2,373.4 L509.8,377.2 L511.4,372.4 L513.0,374.3 L514.6,375.3 L516.2,376.7 L517.8,376.2 L519.4,376.6 L521.0,375.0 L522.6,374.6 L524.2,377.7 L525.8,376.9 L527.4,376.6 L529.0,377.6 L530.6,380.0 L532.2,378.4 L533.8,380.1 L535.4,380.4 L537.0,384.6 L538.6,386.0 L540.2,390.0 L541.8,385.0 L543.4,388.1 L545.0,393.1 L546.6,393.4 L548.2,395.7 L549.8,401.9 L551.4,400.7 L553.0,401.4 L554.6,403.1 L556.2,407.8 L557.8,409.5 L559.4,408.2 L561.0,411.5 L562.6,415.0 L564.2,417.3 L565.8,418.7 L567.4,423.2 L569.0,426.8 L570.6,428.4 L572.2,433.8 L573.8,438.3 L575.4,440.8 L577.0,442.2 L578.6,446.9 L580.2,450.5 L581.8,453.9 L583.4,452.6 L585.0,459.8 L586.6,458.5 L588.2,462.9 L589.8,465.4 L591.4,467.3 L593.0,468.5 L594.6,469.3 L596.2,473.3 L597.8,474.3 L599.4,475.2 L601.0,483.6 L602.6,485.0 L604.2,489.8 L605.8,491.0 L607.4,497.3 L609.0,501.3 L610.6,505.1 L612.2,507.0 L613.8,509.3 L615.4,513.6 L617.0,514.9 L618.6,518.7 L620.2,523.7 L621.8,525.9 L623.4,530.0 L625.0,533.4 L626.6,538.9 L628.2,541.8 L629.8,544.1 L631.4,549.0 L633.0,550.9 L634.6,555.2 L636.2,560.3 L637.8,562.2 L639.4,567.1 L641.0,570.1 L642.6,575.5 L644.2,581.0 L645.8,582.5 L647.4,587.4 L649.0,590.2 L650.6,593.9 L652.2,597.9 L653.8,604.8 L655.4,610.1 L657.0,612.8 L658.6,616.4 L660.2,622.8 L661.8,626.8 L663.4,633.1 L665.0,637.7 L666.6,642.9 L668.2,648.3 L669.8,652.3 L671.4,657.8 L673.0,661.8 L674.6,668.5 L676.2,672.9 L677.8,679.4 L679.4,683.8 L681.0,689.8 L682.6,695.0 L684.2,697.8 L685.8,703.0 L687.4,707.4 L689.0,713.7 L690.6,719.4 L692.2,723.3 L693.8,727.0 L695.4,733.7 L697.0,735.6 L698.6,743.4 L700.2,746.3 L701.8,749.7 L703.4,757.7 L705.0,761.8 L706.6,765.0 L708.2,770.4 L709.8,774.6 L711.4,779.0 L713.0,781.8 L714.6,785.8 L716.2,790.0 L717.8,793.1 L719.4,797.0 L721.0,799.4 L722.6,803.8 L724.2,804.9 L725.8,808.3 L727.4,809.8 L729.0,812.8 L730.6,816.9 L732.2,818.0 L733.8,821.3 L735.4,823.2 L737.0,824.8 L738.6,827.3 L740.2,829.3 L741.8,831.3 L743.4,834.0 L745.0,835.9 L746.6,836.9 L748.2,838.5 L749.8,840.9 L751.4,842.3 L753.0,844.5 L754.6,846.9 L756.2,847.2 L757.8,848.0 L759.4,849.1 L761.0,849.9 L762.6,851.0 L764.2,852.0 L765.8,853.5 L767.4,854.5 L769.0,856.1 L770.6,856.4 L772.2,857.5 L773.8,857.8 L775.4,860.4 L777.0,860.7 L778.6,862.4 L780.2,862.7 L781.8,864.1 L783.4,864.0 L785.0,865.5 L786.6,867.6 L788.2,866.1 L789.8,868.4 L791.4,869.6 L793.0,869.7 L794.6,870.8 L796.2,871.9 L797.8,871.6 L799.4,873.1 L801.0,873.4 L802.6,874.3 L804.2,875.2 L805.8,876.1 L807.4,877.1 L809.0,878.0 L810.6,878.3 L812.2,880.2 L813.8,880.9 L815.4,881.7 L817.0,882.2 L818.6,883.3 L820.2,884.4 L821.8,885.4 L823.4,885.8 L825.0,887.5 L826.6,889.3 L828.2,888.9 L829.8,890.9 L831.4,891.9 L833.0,892.9 L834.6,894.6 L836.2,895.0 L837.8,896.6 L839.4,898.3 L841.0,899.0 L842.6,900.2 L844.2,901.6 L845.8,902.7 L847.4,904.5 L849.0,905.0 L850.6,906.8 L852.2,907.4 L853.8,909.2 L855.4,910.2 L857.0,910.7 L858.6,912.7 L860.2,913.6 L861.8,915.0 L863.4,916.9 L865.0,917.3 L866.6,918.6 L868.2,920.7 L869.8,921.6 L871.4,923.3 L873.0,924.3 L874.6,925.3 L876.2,926.9 L877.8,928.7 L879.4,930.0 L881.0,931.2 L882.6,932.7 L884.2,934.1 L885.8,935.4 L887.4,937.7 L889.0,938.6 L890.6,939.8 L892.2,941.5 L893.8,943.4 L895.4,944.9 L897.0,946.2 L898.6,947.6 L900.2,949.4 L901.8,950.4 L903.4,952.0 L905.0,954.2 L906.6,955.3 L908.2,957.1 L909.8,958.8 L911.4,960.1 L913.0,961.4 L914.6,963.6 L916.2,964.6 L917.8,965.8 L919.4,967.6 L921.0,969.0 L922.6,970.1 L924.2,971.9 L925.8,973.3 L927.4,974.3 L929.0,976.3 L930.6,977.8 L932.2,979.2 L933.8,980.3 L935.4,982.2 L937.0,983.8 L938.6,985.4 L940.2,986.5 L941.8,988.5 L943.4,989.4 L945.0,991.2 L946.6,993.2 L948.2,994.1 L949.8,995.6 L951.4,997.6 L953.0,998.6 L954.6,1000.2 L956.2,1001.8 L957.8,1003.5 L959.4,1004.0 L961.0,1006.0 L962.6,1007.4 L964.2,1008.9 L965.8,1010.4 L967.4,1011.9 L969.0,1013.8 L970.6,1014.9 L972.2,1016.7 L973.8,1018.3 L975.4,1019.4 L977.0,1021.2 L978.6,1023.2 L980.2,1024.3 L981.8,1025.5 L983.4,1027.2 L985.0,1028.5 L986.6,1030.3 L988.2,1032.1 L989.8,1033.1 L991.4,1034.8 L993.0,1036.7 L994.6,1037.7 L996.2,1039.4 L997.8,1040.5 L999.4,1042.1 L1001.0,1043.7 L1002.6,1045.9 L1004.2,1046.6 L1005.8,1048.0 L1007.4,1049.4 L1009.0,1050.9 L1010.6,1052.6 L1012.2,1053.9 L1013.8,1055.8 L1015.4,1056.7 L1017.0,1058.5 L1018.6,1059.6 L1020.2,1061.2 L1021.8,1062.0 L1023.4,1063.9 L1025.0,1065.5 L1026.6,1067.0 L1028.2,1068.0 L1029.8,1070.5 L1031.4,1071.8 L1033.0,1073.4 L1034.6,1075.1 L1036.2,1076.7 L1037.8,1078.5 L1039.4,1079.6 L1041.0,1081.3 L1042.6,1083.3 L1044.2,1084.8 L1045.8,1086.2 L1047.4,1087.7 L1049.0,1089.1 L1050.6,1090.8 L1052.2,1092.6 L1053.8,1093.4 L1055.4,1095.6 L1057.0,1096.9 L1058.6,1097.9 L1060.2,1099.7 L1061.8,1100.4 L1063.4,1101.8 L1065.0,1103.3 L1066.6,1105.0 L1068.2,1106.5 L1069.8,1107.9 L1071.4,1109.5 L1073.0,1110.3 L1074.6,1112.5 L1076.2,1113.4 L1077.8,1115.1 L1079.4,1116.6 L1081.0,1117.9 L1082.6,1119.3 L1084.2,1120.8 L1085.8,1122.5 L1087.4,1124.1 L1089.0,1125.5 L1090.6,1126.4 L1092.2,1127.9 L1093.8,1129.2 L1095.4,1130.9 L1097.0,1131.5 L1098.6,1133.8 L1100.2,1134.7 L1101.8,1135.9 L1103.4,1137.4 L1105.0,1138.8 L1106.6,1139.9 L1108.2,1141.3 L1109.8,1142.4 L1111.4,1143.8 L1113.0,1145.0 L1114.6,1146.0 L1116.2,1147.5 L1117.8,1148.5 L1119.4,1149.6 L1121.0,1150.7 L1122.6,1151.9 L1124.2,1153.2 L1125.8,1154.1 L1127.4,1155.5 L1129.0,1156.6 L1130.6,1157.7 L1132.2,1158.4 L1133.8,1159.8 L1135.4,1161.0 L1137.0,1161.8 L1138.6,1163.0 L1140.2,1163.6 L1141.8,1165.1 L1143.4,1165.9 L1145.0,1167.1 L1146.6,1167.6 L1148.2,1168.9 L1149.8,1169.7 L1151.4,1170.8 L1153.0,1171.5 L1154.6,1172.5 L1156.2,1173.8 L1157.8,1174.3 L1159.4,1175.3 L1161.0,1176.3 L1162.6,1177.1 L1164.2,1178.4 L1165.8,1179.5 L1167.4,1180.1 L1169.0,1181.0 L1170.6,1182.4 L1172.2,1183.4 L1173.8,1184.3 L1175.4,1185.3 L1177.0,1186.0 L1178.6,1187.0 L1180.2,1187.8 L1181.8,1188.7 L1183.4,1190.0 L1185.0,1190.6 L1186.6,1191.9 L1188.2,1192.4 L1189.8,1193.1 L1191.4,1194.1 L1193.0,1195.1 L1194.6,1195.6 L1196.2,1196.2 L1197.8,1197.2 L1199.4,1198.1 L1201.0,1198.6 L1202.6,1199.3 L1204.2,1200.4 L1205.8,1201.0 L1207.4,1201.6 L1209.0,1202.5 L1210.6,1203.3 L1212.2,1204.3 L1213.8,1205.0 L1215.4,1206.0 L1217.0,1206.7 L1218.6,1207.2 L1220.2,1208.3 L1221.8,1209.2 L1223.4,1209.9 L1225.0,1210.8 L1226.6,1211.4 L1228.2,1212.2 L1229.8,1213.2 L1231.4,1213.7 L1233.0,1214.4 L1234.6,1215.7 L1236.2,1216.2 L1237.8,1217.1 L1239.4,1217.8 L1241.0,1218.6 L1242.6,1219.5 L1244.2,1220.4 L1245.8,1221.3 L1247.4,1221.7 L1249.0,1222.9 L1250.6,1223.4 L1252.2,1224.2 L1253.8,1225.1 L1255.4,1225.7 L1257.0,1226.2 L1258.6,1227.4 L1260.2,1227.6 L1261.8,1228.4 L1263.4,1229.0 L1265.0,1229.8 L1266.6,1230.2 L1268.2,1231.0 L1269.8,1231.4 L1271.4,1232.3 L1273.0,1232.6 L1274.6,1233.3 L1276.2,1234.3 L1277.8,1234.7 L1279.4,1235.3 L1281.0,1236.2 L1282.6,1236.6 L1284.2,1237.1 L1285.8,1237.9 L1287.4,1238.3 L1289.0,1239.3 L1290.6,1239.9 L1292.2,1240.3 L1293.8,1240.9 L1295.4,1241.7 L1297.0,1242.3 L1298.6,1242.8 L1300.2,1243.7 L1301.8,1243.9 L1303.4,1244.8 L1305.0,1245.4 L1306.6,1246.1 L1308.2,1246.8 L1309.8,1247.2 L1311.4,1248.1 L1313.0,1248.6 L1314.6,1249.2 L1316.2,1249.7 L1317.8,1250.4 L1319.4,1251.3 L1321.0,1251.7 L1322.6,1252.5 L1324.2,1253.3 L1325.8,1254.0 L1327.4,1254.7 L1329.0,1255.1 L1330.6,1255.7 L1332.2,1256.7 L1333.8,1257.2 L1335.4,1258.0 L1337.0,1258.5 L1338.6,1259.4 L1340.2,1259.9 L1341.8,1260.5 L1343.4,1261.1 L1345.0,1261.7 L1346.6,1262.2 L1348.2,1262.7 L1349.8,1263.4 L1351.4,1263.7 L1353.0,1264.5 L1354.6,1264.7 L1356.2,1265.4 L1357.8,1265.7 L1359.4,1266.1 L1361.0,1266.9 L1362.6,1267.0 L1364.2,1267.3 L1365.8,1267.8 L1367.4,1268.3 L1369.0,1269.1 L1370.6,1269.2 L1372.2,1269.7 L1373.8,1269.8 L1375.4,1270.3 L1377.0,1270.8 L1378.6,1271.3 L1380.2,1271.2 L1381.8,1271.8 L1383.4,1272.1 L1385.0,1272.2 L1386.6,1272.7 L1388.2,1273.0 L1389.8,1273.0 L1391.4,1273.7 L1393.0,1274.1 L1394.6,1274.3 L1396.2,1274.5 L1397.8,1275.2 L1399.4,1275.4 L1401.0,1275.9 L1402.6,1276.3 L1404.2,1276.4 L1405.8,1277.0 L1407.4,1277.2 L1409.0,1277.6 L1410.6,1278.0 L1412.2,1278.4 L1413.8,1278.9 L1415.4,1279.1 L1417.0,1279.5 L1418.6,1279.9 L1420.2,1280.4 L1421.8,1280.6 L1423.4,1281.0 L1425.0,1281.5 L1426.6,1281.8 L1428.2,1282.3 L1429.8,1282.6 L1431.4,1283.4 L1433.0,1283.7 L1434.6,1284.0 L1436.2,1284.3 L1437.8,1285.0 L1439.4,1285.1 L1441.0,1285.5 L1442.6,1285.9 L1444.2,1286.3 L1445.8,1286.9 L1447.4,1287.0 L1449.0,1287.7 L1450.6,1287.7 L1452.2,1288.3 L1453.8,1288.4 L1455.4,1289.2 L1457.0,1289.3 L1458.6,1289.7 L1460.2,1290.2 L1461.8,1290.6 L1463.4,1290.6 L1465.0,1291.1 L1466.6,1291.3 L1468.2,1291.9 L1469.8,1292.2 L1471.4,1292.5 L1473.0,1292.7 L1474.6,1293.1 L1476.2,1293.4 L1477.8,1293.9 L1479.4,1294.3 L1481.0,1294.1 L1482.6,1294.7 L1484.2,1295.0 L1485.8,1295.4 L1487.4,1295.5 L1489.0,1295.9 L1490.6,1296.1 L1492.2,1296.6 L1493.8,1296.8 L1495.4,1297.1 L1497.0,1297.4 L1498.6,1297.6 L1500.2,1297.7 L1501.8,1298.3 L1503.4,1298.5 L1505.0,1298.7 L1506.6,1299.2 L1508.2,1299.5 L1509.8,1299.4 L1511.4,1299.7 L1513.0,1300.3 L1514.6,1300.6 L1516.2,1300.5 L1517.8,1300.7 L1519.4,1301.1 L1521.0,1301.4 L1522.6,1301.5 L1524.2,1302.0 L1525.8,1302.0 L1527.4,1302.3 L1529.0,1302.9 L1530.6,1302.9 L1532.2,1303.3 L1533.8,1303.7 L1535.4,1304.0 L1537.0,1304.1 L1538.6,1304.4 L1540.2,1304.5 L1541.8,1305.2 L1543.4,1305.3 L1545.0,1305.3 L1546.6,1305.8 L1548.2,1306.1 L1549.8,1306.4 L1551.4,1306.9 L1553.0,1307.1 L1554.6,1307.1 L1556.2,1307.4 L1557.8,1307.5 L1559.4,1308.0 L1561.0,1308.3 L1562.6,1309.0 L1564.2,1308.9 L1565.8,1308.8 L1567.4,1309.3 L1569.0,1309.7 L1570.6,1309.8 L1572.2,1310.2 L1573.8,1310.5 L1575.4,1310.9 L1577.0,1311.1 L1578.6,1311.3 L1580.2,1311.9 L1581.8,1311.9 L1583.4,1312.2 L1585.0,1312.4 L1586.6,1312.8 L1588.2,1313.3 L1589.8,1313.2 L1591.4,1313.7 L1593.0,1314.1 L1594.6,1314.2 L1596.2,1314.6 L1597.8,1314.7 L1599.4,1315.3 L1601.0,1315.6 L1602.6,1315.7 L1604.2,1315.7 L1605.8,1316.1 L1607.4,1316.7 L1609.0,1317.1 L1610.6,1317.1 L1612.2,1317.5 L1613.8,1317.5 L1615.4,1317.8 L1617.0,1318.1 L1618.6,1318.5 L1620.2,1318.4 L1621.8,1319.1 L1623.4,1319.4 L1625.0,1319.3 L1626.6,1319.5 L1628.2,1320.0 L1629.8,1320.1 L1631.4,1320.1 L1633.0,1320.9 L1634.6,1321.0 L1636.2,1321.2 L1637.8,1321.8 L1639.4,1321.8 L1641.0,1321.9 L1642.6,1322.3 L1644.2,1322.4 L1645.8,1322.7 L1647.4,1323.1 L1649.0,1323.2 L1650.6,1323.5 L1652.2,1324.0 L1653.8,1324.2 L1655.4,1324.4 L1657.0,1324.6 L1658.6,1324.9 L1660.2,1325.3 L1661.8,1325.3 L1663.4,1325.8 L1665.0,1325.6 L1666.6,1326.0 L1668.2,1326.0 L1669.8,1326.4 L1671.4,1326.8 L1673.0,1327.2 L1674.6,1327.1 L1676.2,1327.4 L1677.8,1327.6 L1679.4,1327.7 L1681.0,1327.9 L1682.6,1328.3 L1684.2,1328.3 L1685.8,1328.8 L1687.4,1328.9 L1689.0,1329.1 L1690.6,1329.2 L1692.2,1329.4 L1693.8,1330.0 L1695.4,1329.8 L1697.0,1330.4 L1698.6,1330.4 L1700.2,1330.5 L1701.8,1330.6 L1703.4,1331.1 L1705.0,1331.4 L1706.6,1331.1 L1708.2,1331.4 L1709.8,1331.8 L1711.4,1331.9 L1713.0,1332.3 L1714.6,1332.1 L1716.2,1332.4 L1717.8,1332.3 L1719.4,1333.0 L1721.0,1332.7 L1722.6,1332.7 L1724.2,1333.1 L1725.8,1333.3 L1727.4,1333.8 L1729.0,1333.6 L1730.6,1333.8 L1732.2,1334.0 L1733.8,1334.4 L1735.4,1334.3 L1737.0,1334.6 L1738.6,1334.7 L1740.2,1334.7 L1741.8,1334.9 L1743.4,1335.0 L1745.0,1335.0 L1746.6,1335.5 L1748.2,1335.3 L1749.8,1335.8 L1751.4,1335.9 L1753.0,1335.9 L1754.6,1336.0 L1756.2,1336.2 L1757.8,1336.5 L1759.4,1336.6 L1761.0,1336.7 L1762.6,1337.0 L1764.2,1336.9 L1765.8,1337.2 L1767.4,1337.0 L1769.0,1337.5 L1770.6,1337.6 L1772.2,1337.7 L1773.8,1338.1 L1775.4,1338.1 L1777.0,1337.8 L1778.6,1338.4 L1780.2,1338.3 L1781.8,1338.8 L1783.4,1339.2 L1785.0,1338.9 L1786.6,1339.1 L1788.2,1339.3 L1789.8,1339.5 L1791.4,1339.7 L1793.0,1340.0 L1794.6,1339.8 L1796.2,1340.4 L1797.8,1340.2 L1799.4,1340.5 L1801.0,1340.8 L1802.6,1340.9 L1804.2,1340.8 L1805.8,1341.1 L1807.4,1341.3 L1809.0,1341.5 L1810.6,1341.9 L1812.2,1341.7 L1813.8,1342.1 L1815.4,1342.3 L1817.0,1342.5 L1818.6,1342.7 L1820.2,1343.0 L1821.8,1343.0 L1823.4,1343.3 L1825.0,1343.4 L1826.6,1343.8 L1828.2,1343.4 L1829.8,1344.1 L1831.4,1344.0 L1833.0,1344.2 L1834.6,1344.3 L1836.2,1344.3 L1837.8,1344.7 L1839.4,1344.9 L1841.0,1345.2 L1842.6,1345.1 L1844.2,1345.7 L1845.8,1345.7 L1847.4,1345.8 L1849.0,1346.0 L1850.6,1346.1 L1852.2,1346.3 L1853.8,1346.5 L1855.4,1346.8 L1857.0,1346.9 L1858.6,1346.9 L1860.2,1347.3 L1861.8,1347.4 L1863.4,1347.7 L1865.0,1348.1 L1866.6,1348.1 L1868.2,1348.1 L1869.8,1348.1 L1871.4,1348.3 L1873.0,1348.4 L1874.6,1349.0 L1876.2,1348.9 L1877.8,1349.2 L1879.4,1349.3 L1881.0,1349.5 L1882.6,1349.9 L1884.2,1349.7 L1885.8,1349.9 L1887.4,1350.0 L1889.0,1350.4 L1890.6,1350.3 L1892.2,1350.4 L1893.8,1350.5 L1895.4,1350.7 L1897.0,1351.1 L1898.6,1351.6 L1900.2,1351.2 L1901.8,1351.6 L1903.4,1351.7 L1905.0,1351.6 L1906.6,1351.9 L1908.2,1352.0 L1909.8,1352.1 L1911.4,1352.6 L1913.0,1352.2 L1914.6,1352.7 L1916.2,1352.8 L1917.8,1352.8 L1919.4,1353.1 L1921.0,1353.3 L1922.6,1353.3 L1924.2,1353.5 L1925.8,1353.7 L1927.4,1353.4 L1929.0,1354.1 L1930.6,1354.4 L1932.2,1354.3 L1933.8,1354.4 L1935.4,1354.2 L1937.0,1354.5 L1938.6,1354.6 L1940.2,1354.7 L1941.8,1355.1 L1943.4,1355.0 L1945.0,1355.2 L1946.6,1355.1 L1948.2,1355.5 L1949.8,1355.7 L1951.4,1355.7 L1953.0,1355.8 L1954.6,1356.4 L1956.2,1356.0 L1957.8,1356.2 L1959.4,1356.4 L1961.0,1356.8 L1962.6,1357.1 L1964.2,1357.0 L1965.8,1357.0 L1967.4,1357.2 L1969.0,1357.5 L1970.6,1357.4 L1972.2,1357.9 L1973.8,1358.0 L1975.4,1358.0 L1977.0,1358.2 L1978.6,1358.4 L1980.2,1358.7 L1981.8,1358.4 L1983.4,1358.9 L1985.0,1358.8 L1986.6,1358.9 L1988.2,1359.2 L1989.8,1359.3 L1991.4,1359.4 L1993.0,1359.4 L1994.6,1359.7 L1996.2,1360.2 L1997.8,1360.5 L1999.4,1360.4 L2001.0,1360.7 L2002.6,1360.6 L2004.2,1360.8 L2005.8,1361.0 L2007.4,1361.0 L2009.0,1361.2 L2010.6,1361.5 L2012.2,1361.6 L2013.8,1361.7 L2015.4,1362.0 L2017.0,1362.1 L2018.6,1362.5 L2020.2,1362.5 L2021.8,1362.6 L2023.4,1362.8 L2025.0,1363.0 L2026.6,1363.0 L2028.2,1363.2 L2029.8,1363.6 L2031.4,1363.7 L2033.0,1364.0 L2034.6,1363.7 L2036.2,1364.1 L2037.8,1364.2 L2039.4,1364.5 L2041.0,1364.6 L2042.6,1364.7 L2044.2,1365.1 L2045.8,1365.1 L2047.4,1365.1 L2049.0,1365.6 L2050.6,1365.7 L2052.2,1365.7 L2053.8,1366.0 L2055.4,1365.9 L2057.0,1366.4 L2058.6,1366.3 L2060.2,1366.4 L2061.8,1366.6 L2063.4,1366.7 L2065.0,1367.0 L2066.6,1367.1 L2068.2,1367.3 L2069.8,1367.3 L2071.4,1367.0 L2073.0,1367.7 L2074.6,1367.5 L2076.2,1368.0 L2077.8,1368.3 L2079.4,1368.3 L2081.0,1368.4 L2082.6,1368.5 L2084.2,1368.7 L2085.8,1368.8 L2087.4,1368.9 L2089.0,1369.0 L2090.6,1369.4 L2092.2,1369.4 L2093.8,1369.7 L2095.4,1369.6 L2097.0,1369.8 L2098.6,1369.9 L2100.2,1370.2 L2101.8,1370.4 L2103.4,1370.4 L2105.0,1370.4 L2106.6,1370.5 L2108.2,1371.0 L2109.8,1370.9 L2111.4,1371.0 L2113.0,1371.4 L2114.6,1371.5 L2116.2,1371.6 L2117.8,1371.6 L2119.4,1372.1 L2121.0,1371.9 L2122.6,1372.1 L2124.2,1372.1 L2125.8,1372.1 L2127.4,1372.2 L2129.0,1372.6 L2130.6,1372.7 L2132.2,1372.8 L2133.8,1372.8 L2135.4,1372.9 L2137.0,1373.2 L2138.6,1373.1 L2140.2,1373.6 L2141.8,1373.8 L2143.4,1374.2 L2145.0,1374.0 L2146.6,1373.9 L2148.2,1374.0 L2149.8,1373.7 L2151.4,1374.3 L2153.0,1374.5 L2154.6,1374.8 L2156.2,1374.8 L2157.8,1375.0 L2159.4,1375.0 L2161.0,1375.2 L2162.6,1375.5 L2164.2,1375.2 L2165.8,1375.4 L2167.4,1375.4 L2169.0,1376.0 L2170.6,1376.0 L2172.2,1376.1 L2173.8,1375.9 L2175.4,1376.2 L2177.0,1376.3 L2178.6,1376.5 L2180.2,1376.5 L2181.8,1376.8 L2183.4,1376.8 L2185.0,1377.1 L2186.0,1377.0" stroke="#6096d1"/><path d="M281.0,1304.0 L282.6,1296.9 L284.2,1292.0 L285.8,1291.5 L287.4,1298.3 L289.0,1301.2 L290.6,1297.5 L292.2,1291.1 L293.8,1287.5 L295.4,1294.3 L297.0,1300.9 L298.6,1292.0 L300.2,1274.2 L301.8,1259.3 L303.4,1254.6 L305.0,1250.6 L306.6,1239.2 L308.2,1229.4 L309.8,1213.2 L311.4,1200.5 L313.0,1187.3 L314.6,1180.0 L316.2,1168.8 L317.8,1162.5 L319.4,1153.0 L321.0,1142.0 L322.6,1126.0 L324.2,1117.8 L325.8,1108.5 L327.4,1102.0 L329.0,1093.0 L330.6,1086.5 L332.2,1075.5 L333.8,1064.1 L335.4,1054.6 L337.0,1037.2 L338.6,1023.7 L340.2,1009.8 L341.8,991.2 L343.4,975.9 L345.0,960.2 L346.6,943.3 L348.2,922.8 L349.8,905.8 L351.4,887.8 L353.0,861.6 L354.6,844.4 L356.2,821.2 L357.8,798.0 L359.4,781.0 L361.0,757.3 L362.6,730.7 L364.2,708.2 L365.8,683.8 L367.4,657.8 L369.0,636.7 L370.6,615.8 L372.2,602.0 L373.8,593.7 L375.4,583.0 L377.0,575.4 L378.6,551.4 L380.2,503.1 L381.8,453.6 L383.4,431.6 L385.0,417.0 L386.6,404.9 L388.2,389.4 L389.8,369.0 L391.4,353.9 L393.0,340.5 L394.6,319.6 L396.2,305.6 L397.8,289.6 L399.4,276.2 L401.0,260.9 L402.6,246.6 L404.2,234.8 L405.8,223.3 L407.4,212.9 L409.0,197.9 L410.6,193.3 L412.2,191.7 L413.8,188.8 L415.4,187.3 L417.0,185.3 L418.6,187.4 L420.2,187.0 L421.8,190.4 L423.4,190.3 L425.0,190.1 L426.6,192.6 L428.2,192.3 L429.8,200.0 L431.4,207.7 L433.0,217.2 L434.6,219.3 L436.2,227.2 L437.8,228.0 L439.4,231.4 L441.0,238.2 L442.6,240.6 L444.2,245.8 L445.8,252.6 L447.4,249.8 L449.0,252.8 L450.6,256.8 L452.2,259.7 L453.8,261.1 L455.4,263.7 L457.0,267.7 L458.6,269.1 L460.2,267.2 L461.8,268.9 L463.4,268.8 L465.0,266.5 L466.6,268.4 L468.2,265.8 L469.8,268.6 L471.4,266.7 L473.0,266.1 L474.6,264.3 L476.2,264.4 L477.8,260.1 L479.4,260.1 L481.0,260.5 L482.6,253.4 L484.2,256.2 L485.8,249.1 L487.4,251.5 L489.0,246.6 L490.6,247.4 L492.2,244.4 L493.8,239.6 L495.4,243.1 L497.0,241.9 L498.6,237.7 L500.2,235.9 L501.8,234.8 L503.4,232.1 L505.0,234.8 L506.6,231.0 L508.2,231.2 L509.8,229.4 L511.4,229.2 L513.0,227.6 L514.6,231.8 L516.2,228.9 L517.8,230.7 L519.4,228.8 L521.0,227.4 L522.6,228.0 L524.2,228.1 L525.8,230.1 L527.4,230.6 L529.0,231.9 L530.6,230.8 L532.2,232.5 L533.8,237.4 L535.4,233.8 L537.0,233.6 L538.6,236.7 L540.2,239.4 L541.8,235.2 L543.4,238.8 L545.0,240.0 L546.6,240.2 L548.2,247.2 L549.8,248.5 L551.4,251.3 L553.0,252.3 L554.6,256.9 L556.2,257.5 L557.8,260.7 L559.4,261.5 L561.0,264.9 L562.6,270.1 L564.2,271.0 L565.8,274.7 L567.4,277.5 L569.0,280.4 L570.6,283.7 L572.2,288.2 L573.8,290.5 L575.4,293.8 L577.0,296.8 L578.6,300.6 L580.2,302.6 L581.8,304.7 L583.4,306.2 L585.0,307.9 L586.6,312.8 L588.2,315.7 L589.8,317.6 L591.4,321.6 L593.0,325.2 L594.6,328.6 L596.2,332.0 L597.8,333.8 L599.4,338.7 L601.0,338.7 L602.6,343.3 L604.2,345.3 L605.8,348.1 L607.4,351.6 L609.0,353.8 L610.6,354.0 L612.2,356.5 L613.8,362.3 L615.4,364.0 L617.0,368.7 L618.6,373.2 L620.2,374.4 L621.8,377.5 L623.4,383.4 L625.0,386.6 L626.6,389.8 L628.2,393.6 L629.8,396.2 L631.4,399.1 L633.0,404.0 L634.6,406.9 L636.2,409.9 L637.8,415.7 L639.4,418.9 L641.0,423.2 L642.6,425.8 L644.2,430.2 L645.8,434.1 L647.4,438.7 L649.0,444.4 L650.6,448.2 L652.2,454.2 L653.8,459.2 L655.4,465.9 L657.0,467.6 L658.6,475.1 L660.2,479.6 L661.8,485.2 L663.4,489.3 L665.0,495.9 L666.6,502.6 L668.2,507.1 L669.8,512.5 L671.4,517.3 L673.0,523.8 L674.6,527.7 L676.2,530.5 L677.8,537.0 L679.4,540.8 L681.0,544.5 L682.6,552.1 L684.2,558.9 L685.8,562.5 L687.4,566.3 L689.0,571.7 L690.6,579.2 L692.2,584.1 L693.8,590.2 L695.4,596.3 L697.0,602.4 L698.6,608.8 L700.2,613.3 L701.8,617.8 L703.4,621.5 L705.0,626.7 L706.6,630.2 L708.2,635.3 L709.8,637.9 L711.4,642.6 L713.0,646.8 L714.6,650.2 L716.2,656.4 L717.8,660.5 L719.4,663.7 L721.0,668.6 L722.6,672.4 L724.2,674.3 L725.8,679.4 L727.4,682.1 L729.0,685.0 L730.6,686.8 L732.2,689.8 L733.8,692.2 L735.4,695.3 L737.0,696.9 L738.6,698.7 L740.2,701.6 L741.8,702.3 L743.4,704.2 L745.0,705.1 L746.6,708.9 L748.2,710.2 L749.8,711.8 L751.4,713.3 L753.0,714.5 L754.6,716.1 L756.2,717.3 L757.8,718.8 L759.4,720.4 L761.0,722.7 L762.6,723.4 L764.2,724.4 L765.8,725.4 L767.4,726.6 L769.0,729.2 L770.6,729.7 L772.2,730.6 L773.8,731.5 L775.4,732.2 L777.0,733.9 L778.6,735.5 L780.2,735.7 L781.8,736.8 L783.4,737.7 L785.0,738.8 L786.6,738.6 L788.2,740.2 L789.8,740.7 L791.4,742.5 L793.0,742.3 L794.6,743.9 L796.2,745.3 L797.8,745.0 L799.4,745.6 L801.0,746.9 L802.6,747.7 L804.2,748.2 L805.8,749.6 L807.4,751.0 L809.0,751.4 L810.6,752.4 L812.2,753.2 L813.8,754.7 L815.4,755.3 L817.0,756.4 L818.6,758.3 L820.2,758.8 L821.8,760.5 L823.4,761.8 L825.0,762.6 L826.6,763.9 L828.2,765.6 L829.8,766.1 L831.4,767.2 L833.0,768.2 L834.6,769.9 L836.2,771.6 L837.8,772.7 L839.4,773.4 L841.0,774.7 L842.6,776.0 L844.2,777.6 L845.8,778.7 L847.4,780.1 L849.0,781.4 L850.6,782.6 L852.2,784.0 L853.8,785.4 L855.4,786.6 L857.0,788.1 L858.6,789.9 L860.2,790.9 L861.8,792.1 L863.4,793.0 L865.0,795.1 L866.6,795.8 L868.2,797.4 L869.8,799.5 L871.4,801.0 L873.0,802.2 L874.6,803.3 L876.2,805.2 L877.8,806.7 L879.4,808.7 L881.0,810.8 L882.6,811.8 L884.2,813.2 L885.8,814.8 L887.4,816.8 L889.0,818.5 L890.6,820.0 L892.2,822.1 L893.8,823.5 L895.4,825.9 L897.0,827.6 L898.6,829.4 L900.2,830.7 L901.8,832.8 L903.4,834.3 L905.0,836.0 L906.6,837.7 L908.2,839.2 L909.8,840.8 L911.4,843.2 L913.0,844.6 L914.6,846.5 L916.2,848.4 L917.8,849.3 L919.4,851.3 L921.0,853.4 L922.6,855.2 L924.2,856.7 L925.8,858.8 L927.4,860.3 L929.0,861.6 L930.6,863.4 L932.2,865.6 L933.8,867.2 L935.4,868.2 L937.0,870.8 L938.6,872.3 L940.2,874.2 L941.8,875.3 L943.4,877.0 L945.0,878.4 L946.6,881.1 L948.2,881.9 L949.8,884.0 L951.4,884.9 L953.0,886.7 L954.6,887.7 L956.2,889.6 L957.8,891.6 L959.4,892.5 L961.0,894.7 L962.6,896.1 L964.2,897.3 L965.8,899.1 L967.4,900.8 L969.0,902.6 L970.6,904.2 L972.2,905.8 L973.8,907.7 L975.4,909.2 L977.0,910.9 L978.6,913.0 L980.2,915.1 L981.8,916.1 L983.4,918.4 L985.0,920.0 L986.6,921.7 L988.2,924.0 L989.8,925.4 L991.4,927.8 L993.0,928.9 L994.6,931.0 L996.2,932.6 L997.8,934.2 L999.4,936.4 L1001.0,938.0 L1002.6,939.9 L1004.2,941.5 L1005.8,943.0 L1007.4,945.0 L1009.0,946.8 L1010.6,948.9 L1012.2,950.1 L1013.8,952.1 L1015.4,953.3 L1017.0,955.8 L1018.6,957.0 L1020.2,958.6 L1021.8,960.9 L1023.4,963.0 L1025.0,963.9 L1026.6,965.8 L1028.2,967.7 L1029.8,969.3 L1031.4,971.6 L1033.0,973.0 L1034.6,974.7 L1036.2,976.9 L1037.8,978.2 L1039.4,980.4 L1041.0,981.7 L1042.6,983.4 L1044.2,985.0 L1045.8,987.8 L1047.4,988.9 L1049.0,990.9 L1050.6,992.6 L1052.2,994.4 L1053.8,996.2 L1055.4,998.5 L1057.0,999.4 L1058.6,1001.1 L1060.2,1003.0 L1061.8,1004.7 L1063.4,1007.0 L1065.0,1008.8 L1066.6,1010.0 L1068.2,1011.5 L1069.8,1013.5 L1071.4,1015.7 L1073.0,1016.1 L1074.6,1018.7 L1076.2,1019.9 L1077.8,1022.1 L1079.4,1023.1 L1081.0,1024.9 L1082.6,1026.2 L1084.2,1027.9 L1085.8,1030.2 L1087.4,1031.6 L1089.0,1032.7 L1090.6,1034.1 L1092.2,1035.3 L1093.8,1037.3 L1095.4,1038.9 L1097.0,1040.3 L1098.6,1041.8 L1100.2,1043.1 L1101.8,1044.7 L1103.4,1046.2 L1105.0,1047.8 L1106.6,1049.3 L1108.2,1050.4 L1109.8,1051.8 L1111.4,1053.3 L1113.0,1054.6 L1114.6,1056.0 L1116.2,1057.6 L1117.8,1058.9 L1119.4,1060.6 L1121.0,1062.0 L1122.6,1063.5 L1124.2,1064.9 L1125.8,1066.3 L1127.4,1067.7 L1129.0,1069.3 L1130.6,1070.7 L1132.2,1072.2 L1133.8,1073.6 L1135.4,1074.8 L1137.0,1076.4 L1138.6,1077.5 L1140.2,1079.0 L1141.8,1080.4 L1143.4,1081.4 L1145.0,1083.1 L1146.6,1084.4 L1148.2,1085.7 L1149.8,1086.9 L1151.4,1088.2 L1153.0,1089.4 L1154.6,1090.7 L1156.2,1091.9 L1157.8,1093.3 L1159.4,1094.3 L1161.0,1095.7 L1162.6,1096.9 L1164.2,1098.0 L1165.8,1099.2 L1167.4,1100.5 L1169.0,1101.3 L1170.6,1102.8 L1172.2,1103.9 L1173.8,1105.0 L1175.4,1106.1 L1177.0,1107.1 L1178.6,1108.2 L1180.2,1109.4 L1181.8,1110.4 L1183.4,1111.4 L1185.0,1112.2 L1186.6,1113.6 L1188.2,1114.7 L1189.8,1115.6 L1191.4,1116.5 L1193.0,1117.2 L1194.6,1118.6 L1196.2,1119.4 L1197.8,1120.0 L1199.4,1121.3 L1201.0,1122.0 L1202.6,1122.9 L1204.2,1123.9 L1205.8,1125.1 L1207.4,1125.7 L1209.0,1126.7 L1210.6,1127.8 L1212.2,1128.6 L1213.8,1129.1 L1215.4,1129.9 L1217.0,1130.6 L1218.6,1131.4 L1220.2,1132.4 L1221.8,1133.2 L1223.4,1133.9 L1225.0,1134.8 L1226.6,1135.3 L1228.2,1136.2 L1229.8,1137.1 L1231.4,1137.9 L1233.0,1138.8 L1234.6,1139.5 L1236.2,1140.1 L1237.8,1141.0 L1239.4,1141.6 L1241.0,1142.3 L1242.6,1143.5 L1244.2,1144.2 L1245.8,1145.0 L1247.4,1145.5 L1249.0,1146.5 L1250.6,1147.3 L1252.2,1148.0 L1253.8,1148.6 L1255.4,1149.7 L1257.0,1150.7 L1258.6,1151.4 L1260.2,1152.1 L1261.8,1153.0 L1263.4,1153.9 L1265.0,1154.2 L1266.6,1155.4 L1268.2,1156.3 L1269.8,1157.1 L1271.4,1158.1 L1273.0,1158.8 L1274.6,1159.5 L1276.2,1160.3 L1277.8,1161.2 L1279.4,1161.8 L1281.0,1162.7 L1282.6,1163.7 L1284.2,1164.6 L1285.8,1165.2 L1287.4,1166.0 L1289.0,1166.9 L1290.6,1167.8 L1292.2,1168.4 L1293.8,1169.5 L1295.4,1169.9 L1297.0,1170.7 L1298.6,1171.5 L1300.2,1172.3 L1301.8,1173.1 L1303.4,1173.3 L1305.0,1174.1 L1306.6,1174.9 L1308.2,1175.4 L1309.8,1175.9 L1311.4,1176.9 L1313.0,1177.5 L1314.6,1178.1 L1316.2,1178.5 L1317.8,1179.4 L1319.4,1179.8 L1321.0,1180.6 L1322.6,1181.0 L1324.2,1181.6 L1325.8,1182.4 L1327.4,1182.9 L1329.0,1183.8 L1330.6,1184.3 L1332.2,1184.8 L1333.8,1185.6 L1335.4,1186.2 L1337.0,1187.0 L1338.6,1187.4 L1340.2,1188.1 L1341.8,1189.0 L1343.4,1189.8 L1345.0,1190.4 L1346.6,1190.7 L1348.2,1191.4 L1349.8,1192.2 L1351.4,1192.6 L1353.0,1193.2 L1354.6,1194.0 L1356.2,1194.7 L1357.8,1195.2 L1359.4,1195.7 L1361.0,1196.3 L1362.6,1197.3 L1364.2,1197.7 L1365.8,1198.4 L1367.4,1199.1 L1369.0,1199.7 L1370.6,1200.1 L1372.2,1200.8 L1373.8,1201.1 L1375.4,1201.8 L1377.0,1202.2 L1378.6,1203.0 L1380.2,1203.4 L1381.8,1203.8 L1383.4,1204.3 L1385.0,1204.9 L1386.6,1205.5 L1388.2,1205.7 L1389.8,1206.3 L1391.4,1206.9 L1393.0,1207.8 L1394.6,1208.1 L1396.2,1208.4 L1397.8,1209.1 L1399.4,1209.8 L1401.0,1210.0 L1402.6,1210.5 L1404.2,1211.3 L1405.8,1211.7 L1407.4,1212.3 L1409.0,1212.7 L1410.6,1213.6 L1412.2,1214.2 L1413.8,1214.5 L1415.4,1215.1 L1417.0,1215.3 L1418.6,1216.3 L1420.2,1216.7 L1421.8,1217.4 L1423.4,1218.0 L1425.0,1218.4 L1426.6,1218.8 L1428.2,1219.7 L1429.8,1220.1 L1431.4,1220.7 L1433.0,1221.3 L1434.6,1221.9 L1436.2,1222.2 L1437.8,1223.3 L1439.4,1223.7 L1441.0,1224.4 L1442.6,1225.1 L1444.2,1225.4 L1445.8,1225.7 L1447.4,1226.4 L1449.0,1226.9 L1450.6,1227.6 L1452.2,1228.2 L1453.8,1228.5 L1455.4,1229.4 L1457.0,1229.6 L1458.6,1230.5 L1460.2,1230.9 L1461.8,1231.4 L1463.4,1232.0 L1465.0,1232.5 L1466.6,1233.0 L1468.2,1233.3 L1469.8,1234.1 L1471.4,1234.9 L1473.0,1235.4 L1474.6,1235.8 L1476.2,1236.2 L1477.8,1236.5 L1479.4,1237.3 L1481.0,1237.5 L1482.6,1238.0 L1484.2,1238.4 L1485.8,1239.0 L1487.4,1239.4 L1489.0,1239.9 L1490.6,1240.2 L1492.2,1240.8 L1493.8,1241.6 L1495.4,1241.7 L1497.0,1242.2 L1498.6,1242.8 L1500.2,1243.2 L1501.8,1243.4 L1503.4,1244.0 L1505.0,1244.6 L1506.6,1245.0 L1508.2,1245.4 L1509.8,1246.0 L1511.4,1246.1 L1513.0,1246.7 L1514.6,1247.0 L1516.2,1247.8 L1517.8,1247.7 L1519.4,1248.3 L1521.0,1248.7 L1522.6,1249.4 L1524.2,1249.8 L1525.8,1250.3 L1527.4,1250.3 L1529.0,1251.0 L1530.6,1251.3 L1532.2,1251.7 L1533.8,1252.3 L1535.4,1252.4 L1537.0,1252.7 L1538.6,1253.3 L1540.2,1253.6 L1541.8,1254.1 L1543.4,1254.7 L1545.0,1255.1 L1546.6,1255.6 L1548.2,1255.8 L1549.8,1256.0 L1551.4,1256.5 L1553.0,1256.8 L1554.6,1257.2 L1556.2,1257.8 L1557.8,1258.0 L1559.4,1258.2 L1561.0,1259.0 L1562.6,1259.2 L1564.2,1259.7 L1565.8,1260.0 L1567.4,1260.5 L1569.0,1260.7 L1570.6,1261.3 L1572.2,1261.5 L1573.8,1261.9 L1575.4,1262.2 L1577.0,1262.3 L1578.6,1262.9 L1580.2,1263.2 L1581.8,1263.6 L1583.4,1263.7 L1585.0,1264.5 L1586.6,1264.7 L1588.2,1264.8 L1589.8,1265.1 L1591.4,1265.7 L1593.0,1266.0 L1594.6,1266.3 L1596.2,1266.8 L1597.8,1267.0 L1599.4,1267.5 L1601.0,1267.7 L1602.6,1268.1 L1604.2,1268.6 L1605.8,1269.2 L1607.4,1269.0 L1609.0,1269.5 L1610.6,1269.7 L1612.2,1270.3 L1613.8,1270.4 L1615.4,1270.9 L1617.0,1271.3 L1618.6,1271.5 L1620.2,1271.9 L1621.8,1272.3 L1623.4,1272.4 L1625.0,1272.9 L1626.6,1273.4 L1628.2,1273.8 L1629.8,1274.1 L1631.4,1274.3 L1633.0,1274.8 L1634.6,1275.4 L1636.2,1275.8 L1637.8,1276.0 L1639.4,1276.3 L1641.0,1276.9 L1642.6,1277.1 L1644.2,1277.4 L1645.8,1277.8 L1647.4,1278.5 L1649.0,1278.7 L1650.6,1279.3 L1652.2,1279.4 L1653.8,1280.0 L1655.4,1280.1 L1657.0,1280.6 L1658.6,1281.4 L1660.2,1281.5 L1661.8,1281.7 L1663.4,1282.1 L1665.0,1282.5 L1666.6,1283.0 L1668.2,1283.2 L1669.8,1283.3 L1671.4,1283.9 L1673.0,1284.3 L1674.6,1284.7 L1676.2,1285.2 L1677.8,1285.4 L1679.4,1285.8 L1681.0,1285.9 L1682.6,1286.5 L1684.2,1287.1 L1685.8,1287.2 L1687.4,1287.4 L1689.0,1287.7 L1690.6,1288.3 L1692.2,1288.2 L1693.8,1288.6 L1695.4,1289.0 L1697.0,1289.4 L1698.6,1289.5 L1700.2,1289.9 L1701.8,1290.1 L1703.4,1290.4 L1705.0,1290.6 L1706.6,1290.8 L1708.2,1291.2 L1709.8,1291.6 L1711.4,1291.6 L1713.0,1292.0 L1714.6,1292.4 L1716.2,1292.4 L1717.8,1292.8 L1719.4,1292.9 L1721.0,1293.5 L1722.6,1293.9 L1724.2,1294.1 L1725.8,1294.0 L1727.4,1294.4 L1729.0,1294.5 L1730.6,1294.8 L1732.2,1295.2 L1733.8,1295.0 L1735.4,1295.6 L1737.0,1295.7 L1738.6,1296.2 L1740.2,1296.2 L1741.8,1296.3 L1743.4,1296.7 L1745.0,1297.0 L1746.6,1297.1 L1748.2,1297.4 L1749.8,1297.5 L1751.4,1297.5 L1753.0,1298.1 L1754.6,1298.3 L1756.2,1298.5 L1757.8,1298.7 L1759.4,1299.1 L1761.0,1299.1 L1762.6,1299.2 L1764.2,1299.5 L1765.8,1300.0 L1767.4,1299.8 L1769.0,1300.4 L1770.6,1300.4 L1772.2,1300.5 L1773.8,1301.1 L1775.4,1301.1 L1777.0,1301.2 L1778.6,1301.6 L1780.2,1302.0 L1781.8,1302.2 L1783.4,1302.2 L1785.0,1302.6 L1786.6,1302.9 L1788.2,1302.9 L1789.8,1303.3 L1791.4,1303.5 L1793.0,1303.6 L1794.6,1303.9 L1796.2,1304.2 L1797.8,1304.4 L1799.4,1304.6 L1801.0,1304.8 L1802.6,1305.3 L1804.2,1305.4 L1805.8,1305.8 L1807.4,1306.1 L1809.0,1306.2 L1810.6,1306.7 L1812.2,1306.5 L1813.8,1307.0 L1815.4,1307.1 L1817.0,1307.7 L1818.6,1307.9 L1820.2,1307.6 L1821.8,1308.0 L1823.4,1308.5 L1825.0,1308.7 L1826.6,1309.0 L1828.2,1309.1 L1829.8,1309.4 L1831.4,1309.7 L1833.0,1309.9 L1834.6,1310.3 L1836.2,1310.0 L1837.8,1310.7 L1839.4,1310.7 L1841.0,1311.2 L1842.6,1311.3 L1844.2,1311.5 L1845.8,1311.9 L1847.4,1311.9 L1849.0,1312.2 L1850.6,1312.3 L1852.2,1312.8 L1853.8,1313.1 L1855.4,1313.4 L1857.0,1313.5 L1858.6,1313.9 L1860.2,1314.0 L1861.8,1314.2 L1863.4,1314.6 L1865.0,1314.9 L1866.6,1314.9 L1868.2,1315.1 L1869.8,1315.4 L1871.4,1315.6 L1873.0,1315.7 L1874.6,1316.2 L1876.2,1316.2 L1877.8,1316.6 L1879.4,1316.6 L1881.0,1317.0 L1882.6,1317.2 L1884.2,1317.3 L1885.8,1317.9 L1887.4,1317.8 L1889.0,1318.3 L1890.6,1318.4 L1892.2,1318.3 L1893.8,1318.6 L1895.4,1318.9 L1897.0,1319.0 L1898.6,1319.2 L1900.2,1319.4 L1901.8,1319.4 L1903.4,1319.8 L1905.0,1319.7 L1906.6,1320.3 L1908.2,1320.3 L1909.8,1320.5 L1911.4,1320.8 L1913.0,1321.0 L1914.6,1321.0 L1916.2,1321.1 L1917.8,1321.4 L1919.4,1321.4 L1921.0,1321.8 L1922.6,1322.4 L1924.2,1322.1 L1925.8,1322.6 L1927.4,1322.5 L1929.0,1322.9 L1930.6,1323.0 L1932.2,1323.2 L1933.8,1323.5 L1935.4,1323.9 L1937.0,1323.8 L1938.6,1324.0 L1940.2,1324.0 L1941.8,1324.4 L1943.4,1324.5 L1945.0,1324.8 L1946.6,1324.9 L1948.2,1325.3 L1949.8,1325.0 L1951.4,1325.4 L1953.0,1325.8 L1954.6,1325.8 L1956.2,1325.9 L1957.8,1326.1 L1959.4,1326.2 L1961.0,1326.6 L1962.6,1327.1 L1964.2,1327.1 L1965.8,1326.9 L1967.4,1327.2 L1969.0,1327.4 L1970.6,1327.8 L1972.2,1327.7 L1973.8,1328.0 L1975.4,1328.4 L1977.0,1328.6 L1978.6,1328.6 L1980.2,1328.7 L1981.8,1328.8 L1983.4,1329.1 L1985.0,1329.1 L1986.6,1329.7 L1988.2,1329.7 L1989.8,1330.1 L1991.4,1330.5 L1993.0,1330.6 L1994.6,1330.4 L1996.2,1330.9 L1997.8,1331.2 L1999.4,1331.1 L2001.0,1331.3 L2002.6,1331.6 L2004.2,1331.6 L2005.8,1332.2 L2007.4,1331.8 L2009.0,1332.2 L2010.6,1332.6 L2012.2,1332.8 L2013.8,1333.0 L2015.4,1333.2 L2017.0,1333.4 L2018.6,1333.8 L2020.2,1333.5 L2021.8,1334.0 L2023.4,1334.1 L2025.0,1334.4 L2026.6,1334.6 L2028.2,1334.7 L2029.8,1334.9 L2031.4,1335.3 L2033.0,1335.4 L2034.6,1335.5 L2036.2,1336.1 L2037.8,1336.3 L2039.4,1335.9 L2041.0,1336.4 L2042.6,1336.9 L2044.2,1336.9 L2045.8,1337.0 L2047.4,1337.1 L2049.0,1337.2 L2050.6,1337.5 L2052.2,1337.6 L2053.8,1338.0 L2055.4,1338.0 L2057.0,1338.2 L2058.6,1338.2 L2060.2,1338.6 L2061.8,1338.6 L2063.4,1338.9 L2065.0,1339.3 L2066.6,1339.3 L2068.2,1339.5 L2069.8,1339.7 L2071.4,1339.8 L2073.0,1339.9 L2074.6,1340.1 L2076.2,1340.4 L2077.8,1340.3 L2079.4,1340.8 L2081.0,1340.8 L2082.6,1340.8 L2084.2,1341.0 L2085.8,1341.2 L2087.4,1341.5 L2089.0,1341.5 L2090.6,1342.0 L2092.2,1341.8 L2093.8,1341.8 L2095.4,1342.2 L2097.0,1342.1 L2098.6,1342.6 L2100.2,1342.9 L2101.8,1343.0 L2103.4,1342.9 L2105.0,1343.1 L2106.6,1343.7 L2108.2,1343.6 L2109.8,1343.7 L2111.4,1344.0 L2113.0,1344.4 L2114.6,1344.4 L2116.2,1344.4 L2117.8,1344.5 L2119.4,1344.7 L2121.0,1344.7 L2122.6,1344.8 L2124.2,1345.1 L2125.8,1345.1 L2127.4,1345.4 L2129.0,1345.6 L2130.6,1346.1 L2132.2,1345.7 L2133.8,1346.0 L2135.4,1346.1 L2137.0,1346.4 L2138.6,1346.6 L2140.2,1346.5 L2141.8,1346.6 L2143.4,1346.6 L2145.0,1346.9 L2146.6,1347.3 L2148.2,1347.3 L2149.8,1347.3 L2151.4,1347.5 L2153.0,1347.7 L2154.6,1348.0 L2156.2,1347.9 L2157.8,1348.1 L2159.4,1348.0 L2161.0,1348.3 L2162.6,1348.8 L2164.2,1348.4 L2165.8,1348.8 L2167.4,1349.0 L2169.0,1349.1 L2170.6,1349.1 L2172.2,1349.4 L2173.8,1349.5 L2175.4,1349.6 L2177.0,1349.5 L2178.6,1349.9 L2180.2,1349.9 L2181.8,1350.1 L2183.4,1350.3 L2185.0,1350.5 L2186.0,1350.6" stroke="#6bb900"/></g><rect x="278.80" y="36.87" width="1905.60" height="1534.16" fill="none" stroke="#000" stroke-width="6.0"/><path d="M278.80,1485.80H308.00M278.80,1315.34H308.00M278.80,1144.88H308.00M278.80,974.41H308.00M278.80,803.95H308.00M278.80,633.49H308.00M278.80,463.02H308.00M278.80,292.56H308.00M278.80,122.10H308.00M278.80,1400.57H293.00M278.80,1230.11H293.00M278.80,1059.64H293.00M278.80,889.18H293.00M278.80,718.72H293.00M278.80,548.26H293.00M278.80,377.79H293.00M278.80,207.33H293.00M278.80,36.87H293.00M755.20,1571.03V1541.53M1231.60,1571.03V1541.53M1708.00,1571.03V1541.53M517.00,1571.03V1556.03M993.40,1571.03V1556.03M1469.80,1571.03V1556.03M1946.20,1571.03V1556.03" stroke="#000" stroke-width="6.0" fill="none"/><g font-family="'Liberation Sans', Arial, Helvetica, sans-serif" font-size="100" fill="#000"><text transform="translate(119.78,1505.00) scale(0.642,0.68)">0.00</text><text transform="translate(119.78,1334.54) scale(0.642,0.68)">0.05</text><text transform="translate(119.78,1164.08) scale(0.642,0.68)">0.10</text><text transform="translate(119.78,993.61) scale(0.642,0.68)">0.15</text><text transform="translate(119.78,823.15) scale(0.642,0.68)">0.20</text><text transform="translate(119.78,652.69) scale(0.642,0.68)">0.25</text><text transform="translate(119.78,482.22) scale(0.642,0.68)">0.30</text><text transform="translate(119.78,311.76) scale(0.642,0.68)">0.35</text><text transform="translate(119.78,141.30) scale(0.642,0.68)">0.40</text></g><g font-family="'Liberation Sans', Arial, Helvetica, sans-serif" font-size="100" fill="#000" text-anchor="middle"><text transform="translate(278.80,1655) scale(0.655,0.68)">200</text><text transform="translate(755.20,1655) scale(0.655,0.68)">300</text><text transform="translate(1231.60,1655) scale(0.655,0.68)">400</text><text transform="translate(1708.00,1655) scale(0.655,0.68)">500</text><text transform="translate(2184.40,1655) scale(0.655,0.68)">600</text></g><text transform="translate(927.79,1778.6) scale(0.8053,0.815)" font-family="'Liberation Sans', Arial, Helvetica, sans-serif" font-size="100">Wavelength (nm)</text><text transform="translate(85.7,1109.4) rotate(-90) scale(0.8006,0.81)" font-family="'Liberation Sans', Arial, Helvetica, sans-serif" font-size="100">Absorbance (a.u)</text><g font-family="'Liberation Sans', Arial, Helvetica, sans-serif" font-size="100" fill="#000"><line x1="1806.8" y1="82.0" x2="1870" y2="82.0" stroke="#4e4e4e" stroke-width="7" stroke-linecap="round"/><text transform="translate(1895,102.00) scale(0.595,0.606)">30 s</text><line x1="1806.8" y1="155.4" x2="1870" y2="155.4" stroke="#eb3a3c" stroke-width="7" stroke-linecap="round"/><text transform="translate(1895,175.35) scale(0.595,0.606)">2.5 min</text><line x1="1806.8" y1="228.8" x2="1870" y2="228.8" stroke="#136ae2" stroke-width="7" stroke-linecap="round"/><text transform="translate(1895,248.70) scale(0.595,0.606)">5 min</text><line x1="1806.8" y1="302.2" x2="1870" y2="302.2" stroke="#34ab68" stroke-width="7" stroke-linecap="round"/><text transform="translate(1895,322.05) scale(0.595,0.606)">7.5 min</text><line x1="1806.8" y1="375.6" x2="1870" y2="375.6" stroke="#ae75e0" stroke-width="7" stroke-linecap="round"/><text transform="translate(1895,395.40) scale(0.595,0.606)">10 min</text><line x1="1806.8" y1="449.0" x2="1870" y2="449.0" stroke="#cd9600" stroke-width="7" stroke-linecap="round"/><text transform="translate(1895,468.75) scale(0.595,0.606)">20 min</text><line x1="1806.8" y1="522.4" x2="1870" y2="522.4" stroke="#00cdcd" stroke-width="7" stroke-linecap="round"/><text transform="translate(1895,542.10) scale(0.595,0.606)">30 min</text><line x1="1806.8" y1="595.8" x2="1870" y2="595.8" stroke="#7d4848" stroke-width="7" stroke-linecap="round"/><text transform="translate(1895,615.45) scale(0.595,0.606)">1 h</text><line x1="1806.8" y1="669.2" x2="1870" y2="669.2" stroke="#878a03" stroke-width="7" stroke-linecap="round"/><text transform="translate(1895,688.80) scale(0.595,0.606)">1 h 30</text><line x1="1806.8" y1="742.6" x2="1870" y2="742.6" stroke="#fd6205" stroke-width="7" stroke-linecap="round"/><text transform="translate(1895,762.15) scale(0.595,0.606)">2 h</text><line x1="1806.8" y1="816.0" x2="1870" y2="816.0" stroke="#6096d1" stroke-width="7" stroke-linecap="round"/><text transform="translate(1895,835.50) scale(0.595,0.606)">3 h</text><line x1="1806.8" y1="889.4" x2="1870" y2="889.4" stroke="#6bb900" stroke-width="7" stroke-linecap="round"/><text transform="translate(1895,908.85) scale(0.595,0.606)">4 h</text></g></svg>
</body></html>
